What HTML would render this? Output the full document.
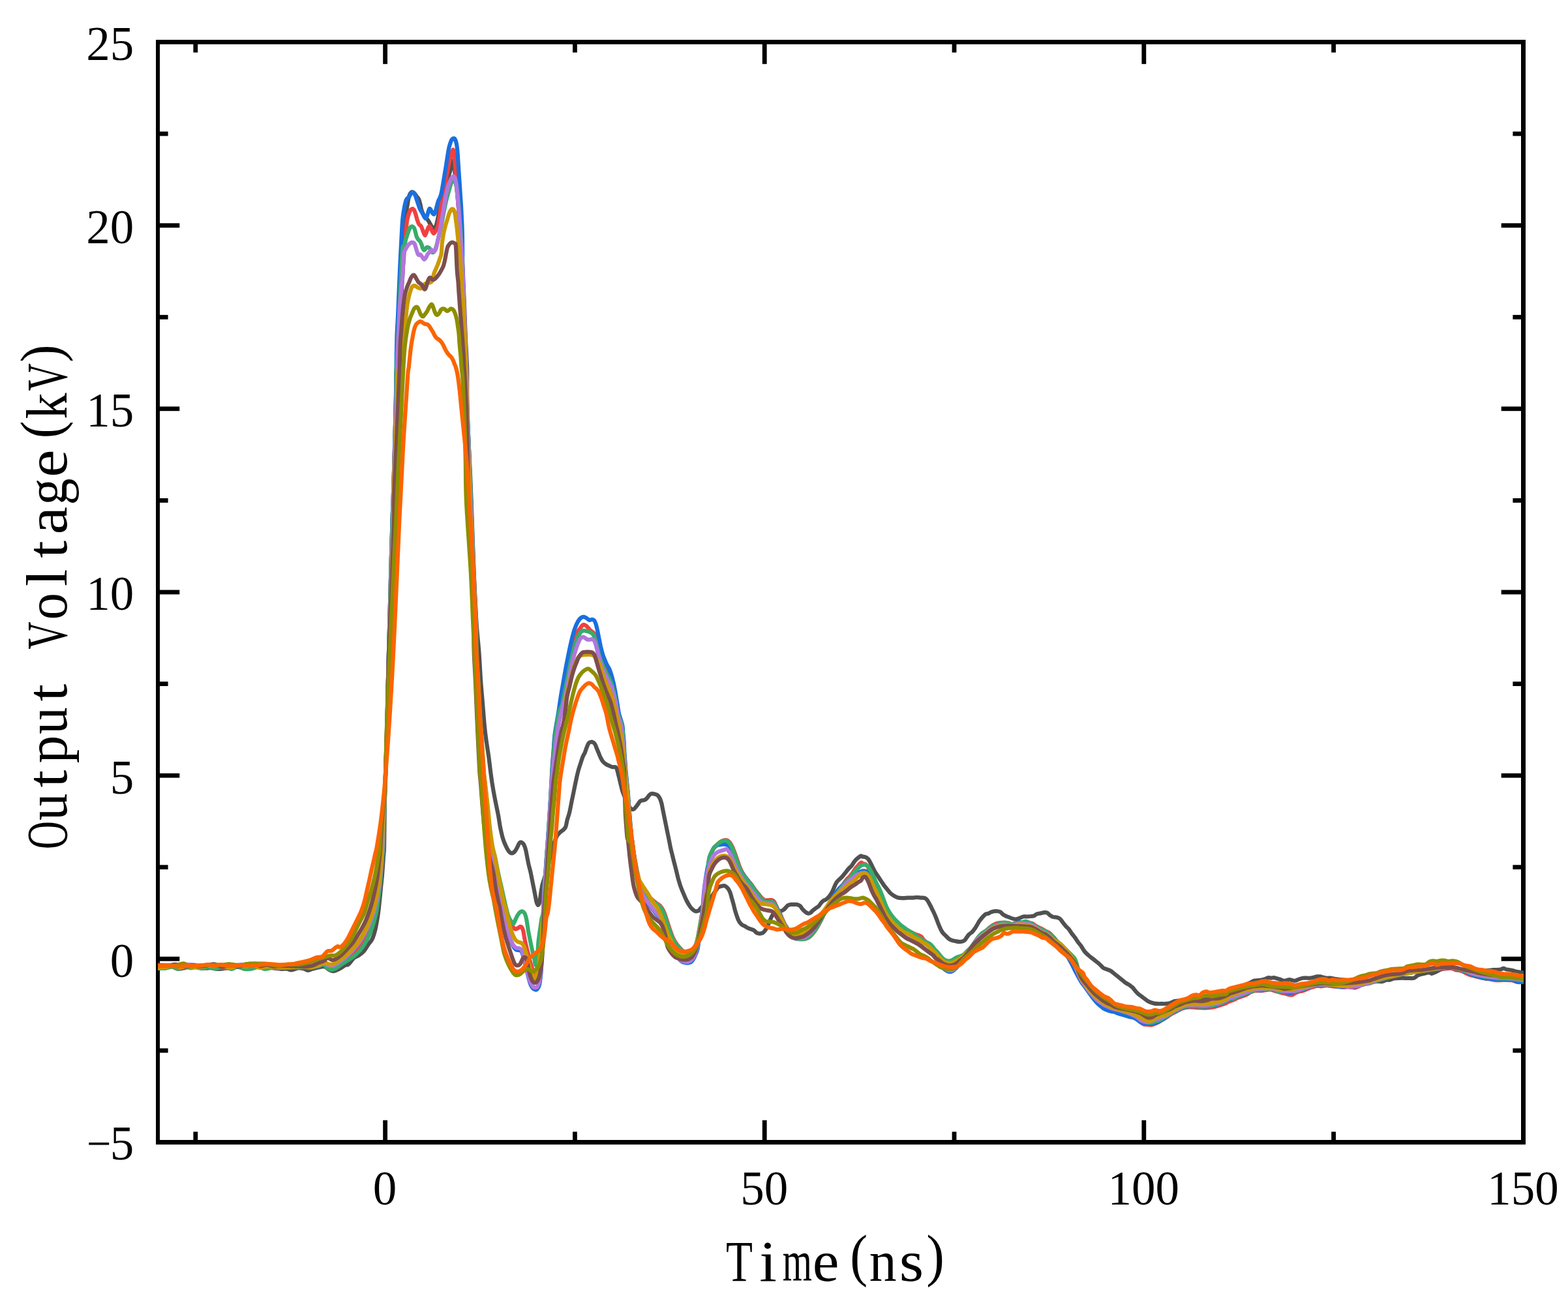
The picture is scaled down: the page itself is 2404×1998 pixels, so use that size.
<!DOCTYPE html>
<html lang="en"><head><meta charset="utf-8"><title>Output Voltage vs Time</title>
<style>html,body{margin:0;padding:0;background:#fff}body{width:2404px;height:1998px;overflow:hidden}svg{display:block}text{font-family:"Liberation Serif", serif;fill:#000;font-kerning:none;white-space:pre}</style></head><body>
<svg xmlns="http://www.w3.org/2000/svg" width="2404" height="1998" viewBox="0 0 2404 1998">
<rect width="2404" height="1998" fill="#fff"/>
<defs><clipPath id="plot"><rect x="242" y="64.5" width="2094" height="1687"/></clipPath></defs>
<g fill="#000">
<rect x="239.0" y="61.0" width="6.0" height="1694.0"/>
<rect x="2332.0" y="61.0" width="7.0" height="1694.0"/>
<rect x="239.0" y="61.0" width="2100.0" height="6.900000000000006"/>
<rect x="239.0" y="1748.0" width="2100.0" height="7.0"/>
<rect x="296.4" y="66.9" width="6.8" height="13.6"/>
<rect x="296.4" y="1735.4" width="6.8" height="13.6"/>
<rect x="587.2" y="66.9" width="6.8" height="31.3"/>
<rect x="587.2" y="1717.7" width="6.8" height="31.3"/>
<rect x="878.0" y="66.9" width="6.8" height="13.6"/>
<rect x="878.0" y="1735.4" width="6.8" height="13.6"/>
<rect x="1168.8" y="66.9" width="6.8" height="31.3"/>
<rect x="1168.8" y="1717.7" width="6.8" height="31.3"/>
<rect x="1459.6" y="66.9" width="6.8" height="13.6"/>
<rect x="1459.6" y="1735.4" width="6.8" height="13.6"/>
<rect x="1750.4" y="66.9" width="6.8" height="31.3"/>
<rect x="1750.4" y="1717.7" width="6.8" height="31.3"/>
<rect x="2041.2" y="66.9" width="6.8" height="13.6"/>
<rect x="2041.2" y="1735.4" width="6.8" height="13.6"/>
<rect x="244.0" y="1607.5" width="13.6" height="6.8"/>
<rect x="2319.4" y="1607.5" width="13.6" height="6.8"/>
<rect x="244.0" y="1466.9" width="31.3" height="6.8"/>
<rect x="2301.7" y="1466.9" width="31.3" height="6.8"/>
<rect x="244.0" y="1326.3" width="13.6" height="6.8"/>
<rect x="2319.4" y="1326.3" width="13.6" height="6.8"/>
<rect x="244.0" y="1185.8" width="31.3" height="6.8"/>
<rect x="2301.7" y="1185.8" width="31.3" height="6.8"/>
<rect x="244.0" y="1045.2" width="13.6" height="6.8"/>
<rect x="2319.4" y="1045.2" width="13.6" height="6.8"/>
<rect x="244.0" y="904.6" width="31.3" height="6.8"/>
<rect x="2301.7" y="904.6" width="31.3" height="6.8"/>
<rect x="244.0" y="764.0" width="13.6" height="6.8"/>
<rect x="2319.4" y="764.0" width="13.6" height="6.8"/>
<rect x="244.0" y="623.4" width="31.3" height="6.8"/>
<rect x="2301.7" y="623.4" width="31.3" height="6.8"/>
<rect x="244.0" y="482.9" width="13.6" height="6.8"/>
<rect x="2319.4" y="482.9" width="13.6" height="6.8"/>
<rect x="244.0" y="342.3" width="31.3" height="6.8"/>
<rect x="2301.7" y="342.3" width="31.3" height="6.8"/>
<rect x="244.0" y="201.7" width="13.6" height="6.8"/>
<rect x="2319.4" y="201.7" width="13.6" height="6.8"/>
</g>
<g clip-path="url(#plot)" fill="none" stroke-width="6.2" stroke-linejoin="round" stroke-linecap="butt">
<path stroke="#515151" d="M238.0 1486.0C240.0 1485.7 246.1 1484.7 250.2 1484.0C254.3 1483.3 258.6 1481.7 262.4 1481.9C266.2 1482.2 269.7 1485.3 273.1 1485.6C276.5 1486.0 279.6 1484.7 283.0 1484.1C286.3 1483.5 289.7 1482.3 293.2 1482.0C296.6 1481.8 300.2 1482.3 303.5 1482.7C306.9 1483.1 310.1 1484.3 313.3 1484.5C316.5 1484.8 319.4 1483.9 322.7 1484.1C326.0 1484.3 329.1 1485.7 332.9 1485.8C336.7 1485.9 341.8 1485.4 345.5 1484.7C349.2 1484.1 351.5 1482.4 355.2 1482.0C359.0 1481.5 364.0 1481.8 368.1 1482.1C372.2 1482.5 376.3 1483.9 379.7 1484.2C383.2 1484.5 385.5 1484.6 388.7 1484.2C391.8 1483.8 394.9 1482.1 398.7 1481.9C402.5 1481.7 407.8 1482.7 411.5 1483.2C415.2 1483.7 417.7 1484.3 421.0 1484.7C424.3 1485.1 428.3 1485.7 431.4 1485.8C434.6 1486.0 437.4 1485.4 440.0 1485.7C442.6 1485.9 444.0 1487.6 446.9 1487.4C449.7 1487.2 453.9 1484.8 457.2 1484.5C460.4 1484.2 463.9 1485.1 466.4 1485.7C468.8 1486.2 470.0 1488.0 472.1 1488.0C474.2 1488.0 476.3 1486.4 479.0 1485.7C481.6 1484.9 485.1 1484.0 488.1 1483.4C491.2 1482.8 494.6 1481.7 497.3 1482.2C500.0 1482.8 501.9 1485.7 504.2 1486.8C506.5 1488.0 508.4 1489.3 511.1 1489.1C513.7 1488.9 517.2 1487.2 520.2 1485.7C523.3 1484.1 527.1 1481.1 529.4 1479.9C531.7 1478.8 531.7 1480.7 534.0 1478.8C536.3 1476.9 540.5 1470.8 543.2 1468.5C545.8 1466.2 547.5 1466.8 550.0 1465.0C552.5 1463.3 555.6 1461.0 558.1 1458.2C560.5 1455.3 562.8 1450.9 564.9 1447.9C567.0 1444.8 568.9 1443.5 570.7 1439.8C572.4 1436.2 574.1 1430.3 575.2 1426.1C576.4 1421.9 576.8 1418.8 577.5 1414.6C578.3 1410.4 579.1 1406.6 579.8 1400.9C580.6 1395.1 581.5 1386.5 582.1 1380.2C582.8 1373.9 583.3 1368.8 583.8 1363.0C584.4 1357.3 585.0 1351.6 585.6 1345.8C586.1 1340.1 586.5 1334.4 586.9 1328.7C587.4 1322.9 587.7 1316.2 588.1 1311.5C588.4 1306.7 588.8 1308.5 589.0 1300.0C589.2 1291.5 589.3 1274.7 589.5 1260.5C589.7 1246.2 589.8 1231.8 590.3 1214.6C590.8 1197.4 591.8 1176.4 592.4 1157.3C593.0 1138.2 593.5 1122.3 594.0 1100.0C594.5 1077.7 594.8 1047.8 595.4 1023.6C595.9 999.4 596.6 979.1 597.3 954.8C597.9 930.4 598.6 903.2 599.3 877.4C600.0 851.6 600.8 824.5 601.6 800.0C602.3 775.5 603.2 749.7 603.8 730.5C604.4 711.2 604.5 699.9 605.0 684.6C605.4 669.3 606.0 652.1 606.3 638.8C606.7 625.4 607.0 615.8 607.2 604.4C607.5 592.9 607.3 580.7 607.9 570.0C608.6 559.3 610.4 553.0 611.3 540.5C612.2 527.9 612.6 509.9 613.3 494.6C614.0 479.3 614.9 462.1 615.6 448.8C616.3 435.4 617.0 425.8 617.6 414.4C618.2 402.9 618.8 388.7 619.3 380.0C619.8 371.3 620.0 368.8 620.4 361.9C620.8 355.1 621.2 345.1 621.6 339.0C622.0 332.9 622.5 329.3 623.0 325.2C623.4 321.2 624.0 318.3 624.6 314.9C625.1 311.6 625.6 308.0 626.2 305.2C626.8 302.4 627.4 300.0 628.1 298.3C628.8 296.6 629.6 295.5 630.4 294.9C631.2 294.2 631.9 294.1 632.8 294.5C633.7 294.9 634.9 296.1 635.9 297.2C636.9 298.3 637.7 299.7 638.8 301.2C639.8 302.6 641.3 303.7 642.2 305.8C643.2 307.9 643.8 311.1 644.5 313.8C645.2 316.5 645.5 319.3 646.2 321.8C647.0 324.3 648.0 326.8 649.1 328.7C650.1 330.6 651.2 331.5 652.5 333.3C653.9 335.0 655.6 336.7 657.1 339.0C658.6 341.3 660.4 345.2 661.7 347.0C663.0 348.8 664.0 350.1 665.1 349.9C666.3 349.7 667.6 348.1 668.6 345.9C669.5 343.7 670.1 340.1 670.9 336.7C671.6 333.3 672.4 329.1 673.2 325.2C673.9 321.4 674.5 318.2 675.4 313.8C676.4 309.4 677.7 303.3 678.9 298.9C680.0 294.5 681.2 291.2 682.3 287.4C683.5 283.6 684.6 279.6 685.8 276.0C686.9 272.3 688.1 268.9 689.2 265.6C690.2 262.4 691.1 259.7 692.1 256.5C693.0 253.2 694.2 246.5 694.9 246.2C695.7 245.8 696.2 250.4 696.6 254.2C697.1 258.0 697.2 263.5 697.8 269.1C698.4 274.6 699.3 280.5 700.1 287.4C700.9 294.3 701.6 301.7 702.4 310.3C703.1 318.9 704.0 330.4 704.7 339.0C705.3 347.6 705.7 352.2 706.4 361.9C707.1 371.6 708.0 385.6 708.7 397.2C709.4 408.8 709.8 419.2 710.4 431.6C711.0 444.0 711.5 457.4 712.1 471.7C712.7 486.0 713.2 502.3 713.8 517.5C714.5 532.8 715.7 550.8 716.1 563.4C716.5 575.9 716.1 580.4 716.2 592.9C716.2 605.5 716.0 623.5 716.5 638.8C716.9 654.0 718.0 669.3 718.8 684.6C719.5 699.9 720.4 716.2 721.1 730.5C721.7 744.7 721.7 745.5 722.7 770.0C723.6 794.5 725.3 846.6 726.6 877.4C727.9 908.2 729.2 934.3 730.5 954.8C731.8 975.2 733.3 984.8 734.4 1000.0C735.5 1015.2 736.3 1032.5 737.2 1045.8C738.2 1059.2 739.2 1068.8 740.1 1080.2C741.1 1091.7 742.0 1105.1 743.0 1114.6C743.9 1124.2 744.8 1129.9 745.8 1137.5C746.9 1145.2 748.2 1152.8 749.3 1160.5C750.3 1168.1 751.3 1176.8 752.1 1183.4C753.0 1190.0 753.6 1194.4 754.4 1200.0C755.3 1205.6 756.3 1211.5 757.3 1217.2C758.4 1222.9 759.6 1228.7 760.7 1234.4C761.9 1240.1 763.1 1245.8 764.2 1251.6C765.2 1257.3 765.9 1263.0 767.0 1268.8C768.2 1274.5 769.6 1281.2 771.1 1286.0C772.5 1290.7 774.1 1294.2 775.6 1297.4C777.2 1300.7 778.7 1303.6 780.2 1305.4C781.8 1307.3 783.3 1308.3 784.8 1308.3C786.3 1308.3 788.1 1306.9 789.4 1305.4C790.7 1304.0 791.7 1301.8 792.8 1299.7C794.0 1297.6 795.1 1294.2 796.3 1292.8C797.4 1291.5 798.6 1291.3 799.7 1291.7C800.9 1292.1 802.1 1293.2 803.2 1295.1C804.2 1297.0 805.2 1299.9 806.0 1303.2C806.9 1306.4 807.5 1310.8 808.3 1314.6C809.1 1318.4 809.7 1322.3 810.6 1326.1C811.5 1329.9 812.6 1333.7 813.5 1337.5C814.3 1341.4 815.0 1345.2 815.8 1349.0C816.5 1352.8 817.3 1356.6 818.1 1360.5C818.8 1364.3 819.6 1368.1 820.3 1371.9C821.1 1375.7 821.9 1380.7 822.6 1383.4C823.4 1386.1 824.2 1388.0 824.9 1388.0C825.7 1388.0 826.6 1386.1 827.2 1383.4C827.9 1380.7 828.4 1375.7 828.9 1371.9C829.5 1368.1 830.1 1363.5 830.7 1360.5C831.2 1357.4 831.2 1357.4 832.4 1353.6C833.5 1349.8 835.9 1343.1 837.5 1337.5C839.2 1332.0 840.4 1327.0 842.1 1320.3C843.8 1313.7 845.9 1303.7 847.9 1297.4C849.8 1291.1 851.9 1286.0 853.6 1282.5C855.3 1279.1 856.4 1278.5 858.2 1276.8C859.9 1275.1 862.4 1273.7 863.9 1272.2C865.4 1270.7 866.4 1270.1 867.3 1267.6C868.3 1265.1 868.7 1260.9 869.6 1257.3C870.6 1253.7 871.9 1250.6 873.1 1245.8C874.2 1241.1 875.5 1233.8 876.5 1228.7C877.6 1223.5 878.1 1221.1 879.4 1214.9C880.6 1208.7 882.9 1197.5 884.2 1191.7C885.5 1185.9 886.1 1183.7 887.0 1180.2C888.0 1176.8 888.9 1174.3 889.9 1171.1C891.0 1167.8 892.2 1163.6 893.4 1160.7C894.5 1157.9 895.7 1156.4 896.8 1153.9C897.8 1151.4 898.7 1148.2 899.7 1145.8C900.6 1143.5 901.5 1140.9 902.5 1139.5C903.6 1138.2 904.8 1138.0 906.0 1137.8C907.1 1137.6 908.3 1137.8 909.4 1138.4C910.4 1139.0 911.3 1139.6 912.3 1141.3C913.2 1142.9 914.2 1145.8 915.1 1148.1C916.1 1150.4 917.0 1152.7 918.0 1155.0C918.9 1157.3 919.8 1159.8 920.9 1161.9C921.9 1164.0 923.0 1166.0 924.3 1167.6C925.6 1169.2 927.2 1170.5 928.9 1171.6C930.6 1172.8 932.9 1173.7 934.6 1174.5C936.3 1175.3 937.7 1175.9 939.2 1176.2C940.7 1176.5 942.6 1175.5 943.8 1176.2C944.9 1176.9 945.3 1178.0 946.1 1180.2C946.8 1182.4 947.5 1186.0 948.4 1189.4C949.2 1192.8 950.3 1197.0 951.2 1200.9C952.2 1204.7 953.0 1208.9 954.1 1212.3C955.1 1215.8 956.4 1218.6 957.5 1221.5C958.7 1224.4 959.7 1226.8 961.0 1229.5C962.2 1232.2 963.8 1235.7 965.0 1237.5C966.1 1239.4 966.8 1239.8 967.9 1240.4C968.9 1241.0 970.1 1241.5 971.3 1241.0C972.4 1240.5 973.6 1238.9 974.7 1237.5C975.9 1236.2 977.0 1234.5 978.2 1233.0C979.3 1231.4 980.5 1229.3 981.6 1228.4C982.8 1227.4 983.9 1227.5 985.0 1227.2C986.2 1226.9 987.3 1227.2 988.5 1226.6C989.6 1226.1 990.8 1225.0 991.9 1223.8C993.1 1222.5 994.2 1220.3 995.4 1219.2C996.5 1218.1 997.5 1217.2 998.8 1216.9C1000.1 1216.6 1001.9 1217.1 1003.4 1217.5C1004.9 1217.9 1006.6 1218.1 1008.0 1219.2C1009.3 1220.2 1010.4 1221.7 1011.4 1223.8C1012.5 1225.9 1013.4 1228.6 1014.3 1231.8C1015.1 1235.1 1014.6 1233.6 1016.6 1243.3C1018.5 1253.0 1024.1 1280.3 1026.1 1290.0C1028.0 1299.7 1027.5 1297.6 1028.4 1301.5C1029.2 1305.3 1030.3 1309.1 1031.2 1312.9C1032.2 1316.7 1033.1 1320.6 1034.1 1324.4C1035.1 1328.2 1036.0 1332.0 1037.0 1335.8C1037.9 1339.7 1038.8 1343.5 1039.8 1347.3C1040.9 1351.1 1041.9 1354.9 1043.3 1358.8C1044.6 1362.6 1046.3 1366.6 1047.9 1370.2C1049.4 1373.9 1050.9 1377.5 1052.4 1380.5C1054.0 1383.6 1055.5 1386.3 1057.0 1388.6C1058.5 1390.9 1060.1 1392.9 1061.6 1394.3C1063.1 1395.7 1064.7 1396.8 1066.2 1397.2C1067.7 1397.5 1069.3 1397.4 1070.8 1396.6C1072.2 1395.7 1073.3 1393.5 1074.8 1392.0C1076.3 1390.5 1078.1 1389.1 1079.9 1387.4C1081.8 1385.7 1083.9 1383.7 1085.7 1381.7C1087.5 1379.7 1089.3 1377.5 1090.8 1375.4C1092.4 1373.3 1093.5 1371.1 1094.8 1369.1C1096.2 1367.1 1097.8 1364.8 1098.9 1363.4C1099.9 1361.9 1100.0 1361.3 1101.2 1360.5C1102.5 1359.8 1104.7 1359.2 1106.4 1358.8C1108.0 1358.4 1109.4 1357.8 1110.9 1358.3C1112.5 1358.7 1114.2 1360.2 1115.5 1361.7C1116.9 1363.2 1117.9 1364.9 1119.0 1367.4C1120.0 1369.9 1120.9 1373.3 1121.8 1376.6C1122.8 1379.8 1123.8 1383.7 1124.7 1386.9C1125.6 1390.2 1126.1 1393.0 1127.0 1396.1C1127.9 1399.1 1128.8 1402.4 1129.9 1405.2C1130.9 1408.1 1132.1 1411.2 1133.3 1413.3C1134.5 1415.4 1135.9 1416.7 1137.3 1417.9C1138.7 1419.0 1140.4 1419.3 1141.9 1420.1C1143.4 1421.0 1144.9 1422.2 1146.5 1423.0C1148.0 1423.8 1149.5 1424.2 1151.1 1424.7C1152.6 1425.3 1154.1 1425.5 1155.6 1426.4C1157.2 1427.4 1158.7 1429.6 1160.2 1430.5C1161.8 1431.3 1163.3 1431.6 1164.8 1431.6C1166.3 1431.6 1168.1 1431.2 1169.4 1430.5C1170.7 1429.7 1171.7 1428.5 1172.8 1427.0C1174.0 1425.5 1175.1 1423.6 1176.3 1421.3C1177.4 1419.0 1178.6 1415.9 1179.7 1413.3C1180.9 1410.6 1182.0 1407.3 1183.2 1405.2C1184.3 1403.1 1185.3 1401.8 1186.6 1400.7C1187.9 1399.5 1189.5 1398.9 1191.2 1398.4C1192.9 1397.8 1195.2 1397.8 1196.9 1397.2C1198.6 1396.6 1200.2 1395.9 1201.5 1394.9C1202.8 1394.0 1203.8 1392.6 1204.9 1391.5C1206.1 1390.3 1207.0 1388.8 1208.4 1388.1C1209.7 1387.3 1211.4 1387.1 1213.0 1386.9C1214.5 1386.7 1216.0 1386.9 1217.5 1386.9C1219.1 1386.9 1220.6 1386.5 1222.1 1386.9C1223.6 1387.3 1225.4 1388.1 1226.7 1389.2C1228.0 1390.3 1228.8 1392.3 1230.1 1393.8C1231.5 1395.3 1233.2 1397.2 1234.7 1398.4C1236.3 1399.5 1238.0 1400.5 1239.3 1400.7C1240.6 1400.9 1241.6 1400.3 1242.8 1399.5C1243.9 1398.7 1244.9 1397.2 1246.2 1396.1C1247.5 1394.9 1249.2 1393.8 1250.8 1392.6C1252.3 1391.5 1254.0 1390.5 1255.4 1389.2C1256.7 1387.9 1257.7 1386.0 1258.8 1384.6C1259.9 1383.3 1260.9 1382.1 1262.2 1381.2C1263.6 1380.2 1265.3 1380.0 1266.8 1378.9C1268.3 1377.7 1269.9 1376.2 1271.4 1374.3C1272.9 1372.4 1274.7 1369.9 1276.0 1367.4C1277.3 1364.9 1278.3 1361.9 1279.4 1359.4C1280.6 1356.9 1281.5 1354.4 1282.9 1352.5C1284.2 1350.6 1285.9 1349.5 1287.4 1347.9C1289.0 1346.4 1290.5 1345.1 1292.0 1343.4C1293.6 1341.6 1295.1 1339.5 1296.6 1337.6C1298.1 1335.7 1299.7 1333.6 1301.2 1331.9C1302.7 1330.2 1304.3 1329.2 1305.8 1327.3C1307.3 1325.4 1308.8 1322.3 1310.4 1320.4C1311.9 1318.5 1313.4 1317.2 1315.0 1315.8C1316.6 1314.5 1318.9 1312.8 1320.0 1312.4C1321.1 1312.0 1320.7 1313.3 1321.8 1313.6C1322.8 1313.8 1324.8 1313.6 1326.4 1314.1C1327.9 1314.7 1329.6 1315.6 1330.9 1317.0C1332.3 1318.4 1333.2 1320.6 1334.4 1322.7C1335.5 1324.8 1336.7 1327.3 1337.8 1329.6C1339.0 1331.9 1339.9 1334.2 1341.3 1336.5C1342.6 1338.8 1344.3 1341.1 1345.8 1343.4C1347.4 1345.6 1348.9 1347.9 1350.4 1350.2C1352.0 1352.5 1353.5 1355.0 1355.0 1357.1C1356.5 1359.2 1358.1 1360.9 1359.6 1362.8C1361.1 1364.7 1362.5 1366.8 1364.2 1368.6C1365.9 1370.3 1367.8 1371.8 1369.9 1373.2C1372.0 1374.5 1374.3 1375.9 1376.8 1376.6C1379.3 1377.3 1382.3 1377.2 1384.8 1377.2C1387.3 1377.2 1389.4 1376.7 1391.7 1376.6C1394.0 1376.5 1396.3 1376.7 1398.6 1376.6C1400.9 1376.5 1403.2 1376.0 1405.4 1376.0C1407.7 1376.0 1410.2 1376.4 1412.3 1376.6C1414.4 1376.8 1416.5 1376.6 1418.1 1377.2C1419.6 1377.7 1420.3 1378.6 1421.5 1380.0C1422.6 1381.5 1423.8 1383.7 1424.9 1385.8C1426.1 1387.9 1427.2 1390.3 1428.4 1392.6C1429.5 1394.9 1430.7 1397.0 1431.8 1399.5C1433.0 1402.0 1434.1 1404.7 1435.2 1407.5C1436.4 1410.4 1437.5 1413.8 1438.7 1416.7C1439.8 1419.6 1441.0 1422.4 1442.1 1424.7C1443.3 1427.0 1444.2 1428.7 1445.6 1430.5C1446.9 1432.2 1448.6 1433.5 1450.1 1435.0C1451.7 1436.6 1453.2 1438.5 1454.7 1439.6C1456.3 1440.8 1457.6 1441.3 1459.3 1441.9C1461.0 1442.5 1463.1 1442.7 1465.0 1443.1C1467.0 1443.4 1469.1 1444.1 1470.8 1444.2C1472.5 1444.3 1474.0 1444.0 1475.4 1443.6C1476.7 1443.3 1477.7 1443.0 1478.8 1441.9C1479.9 1440.9 1481.1 1438.9 1482.2 1437.3C1483.4 1435.8 1484.3 1434.1 1485.7 1432.8C1487.0 1431.4 1488.7 1430.8 1490.3 1429.3C1491.8 1427.8 1493.5 1425.5 1494.8 1423.6C1496.2 1421.7 1497.1 1419.8 1498.3 1417.9C1499.4 1415.9 1500.4 1414.0 1501.7 1412.1C1503.1 1410.2 1504.8 1408.1 1506.3 1406.4C1507.8 1404.7 1509.4 1402.8 1510.9 1401.8C1512.4 1400.9 1513.9 1401.2 1515.5 1400.7C1517.0 1400.1 1518.5 1398.9 1520.1 1398.4C1521.6 1397.8 1523.1 1397.4 1524.6 1397.2C1526.2 1397.0 1527.7 1397.0 1529.2 1397.2C1530.8 1397.4 1532.5 1397.6 1533.8 1398.4C1535.1 1399.1 1536.0 1400.8 1537.2 1401.8C1538.5 1402.8 1540.0 1403.7 1541.5 1404.4C1543.0 1405.1 1544.4 1405.4 1546.1 1406.1C1547.8 1406.8 1549.9 1407.8 1551.8 1408.4C1553.7 1409.0 1555.6 1409.6 1557.5 1409.5C1559.4 1409.4 1561.4 1408.5 1563.3 1407.8C1565.2 1407.2 1567.1 1405.9 1569.0 1405.5C1570.9 1405.1 1572.8 1405.6 1574.7 1405.5C1576.6 1405.4 1578.7 1405.1 1580.5 1405.0C1582.2 1404.8 1583.5 1405.0 1585.0 1404.4C1586.6 1403.8 1587.9 1402.2 1589.6 1401.5C1591.3 1400.9 1593.4 1400.8 1595.4 1400.4C1597.3 1400.0 1599.4 1399.3 1601.1 1399.2C1602.8 1399.1 1604.1 1399.0 1605.7 1399.8C1607.2 1400.6 1608.7 1402.8 1610.3 1403.8C1611.8 1404.9 1613.1 1405.6 1614.8 1406.1C1616.6 1406.6 1618.9 1406.2 1620.6 1406.7C1622.3 1407.2 1623.6 1407.6 1625.2 1409.0C1626.7 1410.3 1628.2 1412.8 1629.7 1414.7C1631.3 1416.6 1632.8 1418.7 1634.3 1420.4C1635.9 1422.1 1637.4 1423.1 1638.9 1425.0C1640.4 1426.9 1642.0 1429.8 1643.5 1431.9C1645.0 1434.0 1646.6 1435.5 1648.1 1437.6C1649.6 1439.7 1651.1 1442.4 1652.7 1444.5C1654.2 1446.6 1655.5 1447.8 1657.2 1450.2C1659.0 1452.6 1661.0 1456.6 1662.9 1459.0C1664.8 1461.4 1666.7 1463.0 1668.7 1464.7C1670.6 1466.4 1672.5 1467.8 1674.4 1469.3C1676.3 1470.8 1678.2 1472.3 1680.1 1473.9C1682.0 1475.4 1683.9 1476.7 1685.8 1478.5C1687.8 1480.2 1689.7 1482.8 1691.6 1484.2C1693.5 1485.5 1695.4 1485.7 1697.3 1486.5C1699.2 1487.2 1701.1 1487.6 1703.0 1488.8C1704.9 1489.9 1706.9 1491.8 1708.8 1493.4C1710.7 1494.9 1712.6 1496.4 1714.5 1497.9C1716.4 1499.5 1718.3 1501.0 1720.2 1502.5C1722.1 1504.0 1724.0 1505.8 1726.0 1507.1C1727.9 1508.4 1730.0 1509.4 1731.7 1510.5C1733.4 1511.7 1734.7 1512.5 1736.3 1514.0C1737.8 1515.5 1739.3 1518.0 1740.9 1519.7C1742.4 1521.4 1743.9 1523.0 1745.4 1524.3C1747.0 1525.6 1748.5 1526.6 1750.0 1527.7C1751.6 1528.9 1753.1 1530.0 1754.6 1531.2C1756.1 1532.3 1757.7 1533.7 1759.2 1534.6C1760.7 1535.6 1762.1 1536.2 1763.8 1536.9C1765.5 1537.6 1767.6 1538.2 1769.5 1538.6C1771.4 1539.0 1773.3 1539.1 1775.2 1539.2C1777.2 1539.3 1779.1 1539.2 1781.0 1539.2C1782.9 1539.2 1784.8 1539.3 1786.7 1539.2C1788.6 1539.1 1790.7 1539.0 1792.4 1538.6C1794.2 1538.2 1795.7 1537.5 1797.0 1536.9C1798.4 1536.3 1798.9 1535.6 1800.5 1535.2C1802.0 1534.8 1803.3 1534.9 1806.2 1534.6C1809.1 1534.3 1813.8 1533.9 1817.7 1533.5C1821.5 1533.0 1825.3 1532.5 1829.1 1532.1C1832.9 1531.7 1836.8 1531.7 1840.6 1531.2C1844.4 1530.6 1846.9 1530.1 1852.0 1528.9C1857.2 1527.7 1866.3 1525.4 1871.5 1523.8C1876.6 1522.2 1879.1 1520.5 1882.9 1519.2C1886.7 1517.9 1890.6 1517.0 1894.4 1515.8C1898.2 1514.5 1902.0 1513.3 1905.8 1511.7C1909.7 1510.2 1914.4 1507.9 1917.3 1506.6C1920.2 1505.3 1921.1 1504.3 1923.0 1503.7C1924.9 1503.2 1926.9 1503.3 1928.8 1503.2C1930.7 1503.0 1932.6 1503.0 1934.5 1502.6C1936.4 1502.2 1938.5 1501.4 1940.2 1500.9C1941.9 1500.3 1943.3 1499.3 1944.8 1499.1C1946.3 1498.9 1948.1 1499.7 1949.4 1499.7C1950.7 1499.7 1951.5 1499.0 1952.8 1499.1C1954.2 1499.2 1955.7 1499.8 1957.4 1500.3C1959.1 1500.8 1961.4 1501.4 1963.2 1502.0C1964.9 1502.6 1966.2 1503.5 1967.7 1503.7C1969.3 1503.9 1970.8 1503.4 1972.3 1503.2C1973.8 1502.9 1975.4 1502.0 1976.9 1502.0C1978.4 1502.0 1980.0 1502.9 1981.5 1503.2C1983.0 1503.4 1984.4 1504.0 1986.1 1503.7C1987.8 1503.4 1989.9 1502.1 1991.8 1501.4C1993.7 1500.8 1995.6 1500.0 1997.5 1499.7C1999.4 1499.4 2001.4 1499.7 2003.3 1499.7C2005.2 1499.7 2007.1 1499.9 2009.0 1499.7C2010.9 1499.5 2013.0 1498.9 2014.7 1498.6C2016.4 1498.2 2017.8 1497.6 2019.3 1497.4C2020.8 1497.2 2022.4 1497.2 2023.9 1497.4C2025.4 1497.6 2027.0 1498.2 2028.5 1498.6C2030.0 1498.9 2031.3 1499.5 2033.1 1499.7C2034.8 1499.9 2037.1 1499.6 2038.8 1499.7C2040.5 1499.8 2041.7 1500.0 2043.4 1500.3C2045.1 1500.6 2047.2 1501.1 2049.1 1501.4C2051.0 1501.7 2052.0 1501.7 2054.8 1502.0C2057.7 1502.3 2062.5 1502.7 2066.3 1503.2C2070.1 1503.6 2073.9 1504.4 2077.8 1504.9C2081.6 1505.3 2085.5 1505.7 2089.2 1506.0C2092.9 1506.3 2097.2 1506.7 2100.0 1506.6C2102.8 1506.5 2103.8 1505.8 2105.7 1505.5C2107.6 1505.2 2109.2 1505.0 2111.5 1504.9C2113.8 1504.8 2117.2 1505.3 2119.5 1504.9C2121.8 1504.5 2123.3 1503.0 2125.2 1502.6C2127.1 1502.3 2128.8 1503.0 2130.9 1502.6C2133.0 1502.3 2135.3 1500.8 2137.8 1500.3C2140.3 1499.9 2142.6 1499.9 2145.8 1499.8C2149.1 1499.7 2153.7 1499.8 2157.3 1499.8C2160.9 1499.8 2164.9 1500.4 2167.6 1499.8C2170.3 1499.1 2171.3 1496.8 2173.4 1495.8C2175.5 1494.7 2178.1 1494.0 2180.2 1493.5C2182.3 1492.9 2184.0 1492.7 2186.0 1492.3C2187.9 1491.9 2190.2 1491.1 2191.7 1491.2C2193.2 1491.3 2193.8 1492.9 2195.1 1492.9C2196.5 1492.9 2198.2 1491.8 2199.7 1491.2C2201.2 1490.5 2202.8 1489.6 2204.3 1488.9C2205.8 1488.1 2207.2 1487.2 2208.9 1486.6C2210.6 1486.0 2212.7 1485.7 2214.6 1485.4C2216.5 1485.2 2218.4 1485.0 2220.3 1484.9C2222.3 1484.8 2224.2 1484.5 2226.1 1484.9C2228.0 1485.3 2229.9 1486.7 2231.8 1487.2C2233.7 1487.6 2235.6 1487.5 2237.5 1487.7C2239.4 1487.9 2240.4 1488.1 2243.3 1488.3C2246.1 1488.5 2250.9 1488.8 2254.7 1488.9C2258.5 1489.0 2262.4 1489.0 2266.2 1488.9C2270.0 1488.8 2273.8 1488.6 2277.7 1488.3C2281.5 1488.0 2286.2 1487.4 2289.1 1487.2C2292.0 1487.0 2292.9 1487.3 2294.8 1487.2C2296.8 1487.1 2298.9 1487.0 2300.6 1486.6C2302.3 1486.2 2303.6 1484.9 2305.2 1484.9C2306.7 1484.9 2307.6 1486.1 2309.7 1486.6C2311.8 1487.1 2315.5 1487.3 2317.8 1487.7C2320.1 1488.2 2321.6 1489.0 2323.5 1489.5C2325.4 1489.9 2326.9 1490.2 2329.2 1490.6C2331.5 1491.0 2335.9 1491.6 2337.2 1491.7"/>
<path stroke="#F14040" d="M238.0 1482.7C239.6 1482.4 244.2 1481.2 247.5 1481.0C250.8 1480.7 254.9 1480.9 258.0 1481.1C261.1 1481.3 262.8 1482.0 265.9 1482.0C269.1 1482.0 273.9 1481.4 277.0 1481.3C280.0 1481.2 281.6 1481.0 284.1 1481.3C286.7 1481.6 288.9 1483.1 292.3 1483.1C295.8 1483.1 300.9 1481.1 304.8 1481.3C308.7 1481.5 312.3 1484.2 315.7 1484.4C319.1 1484.6 322.3 1483.0 325.1 1482.7C327.8 1482.5 329.3 1482.7 332.3 1482.9C335.3 1483.1 340.1 1483.8 343.2 1484.1C346.2 1484.4 347.5 1485.1 350.4 1484.6C353.3 1484.2 357.6 1482.0 360.7 1481.4C363.8 1480.8 366.2 1480.9 369.0 1481.0C371.9 1481.0 375.1 1481.1 377.8 1481.5C380.5 1482.0 382.9 1483.7 385.4 1483.8C387.8 1484.0 389.1 1482.3 392.5 1482.4C395.8 1482.5 401.8 1484.8 405.5 1484.5C409.1 1484.3 410.8 1481.0 414.2 1480.9C417.6 1480.9 421.6 1484.2 425.9 1484.4C430.2 1484.6 433.8 1482.6 440.0 1482.2C446.2 1481.9 455.7 1482.4 462.9 1482.2C470.2 1482.0 478.2 1481.9 483.6 1481.1C488.9 1480.3 492.1 1477.7 495.0 1477.7C497.9 1477.7 498.6 1479.9 500.7 1481.1C502.8 1482.2 505.5 1484.1 507.6 1484.5C509.7 1484.9 511.3 1484.3 513.4 1483.4C515.5 1482.4 517.6 1480.7 520.2 1478.8C522.9 1476.9 526.3 1474.0 529.4 1471.9C532.5 1469.8 535.7 1468.3 538.6 1466.2C541.4 1464.1 543.9 1462.0 546.6 1459.3C549.3 1456.6 552.1 1453.6 554.6 1450.1C557.1 1446.7 559.4 1442.7 561.5 1438.7C563.6 1434.7 565.5 1430.5 567.2 1426.1C568.9 1421.7 570.4 1417.1 571.8 1412.3C573.2 1407.5 574.6 1402.8 575.8 1397.4C577.0 1392.1 577.9 1386.9 578.9 1380.2C579.9 1373.5 581.1 1364.9 581.9 1357.3C582.7 1349.7 583.3 1342.0 584.0 1334.4C584.6 1326.7 585.3 1317.2 585.8 1311.5C586.3 1305.7 586.6 1308.5 586.9 1300.0C587.3 1291.5 587.3 1274.7 587.8 1260.5C588.3 1246.2 589.4 1231.8 590.1 1214.6C590.8 1197.4 591.5 1176.4 592.1 1157.3C592.8 1138.2 593.2 1122.3 593.8 1100.0C594.3 1077.7 594.8 1047.8 595.4 1023.6C596.0 999.4 596.6 979.1 597.3 954.8C597.9 930.4 598.6 903.2 599.3 877.4C600.0 851.6 601.0 817.9 601.6 800.0C602.1 782.1 602.3 781.6 602.7 770.0C603.0 758.4 603.4 744.7 603.8 730.5C604.2 716.2 604.7 699.9 605.2 684.6C605.6 669.3 606.1 652.1 606.4 638.8C606.8 625.4 606.9 615.8 607.1 604.4C607.4 592.9 607.4 580.7 607.8 570.0C608.2 559.3 608.9 553.0 609.5 540.5C610.2 527.9 611.0 509.9 611.8 494.6C612.7 479.3 613.7 462.1 614.7 448.8C615.7 435.4 616.6 425.8 617.6 414.4C618.5 402.9 619.6 386.8 620.2 380.0C620.8 373.2 620.6 378.3 621.0 373.4C621.4 368.5 622.1 356.6 622.7 350.5C623.3 344.3 623.7 340.7 624.4 336.7C625.2 332.7 626.4 328.9 627.3 326.4C628.2 323.9 628.7 322.9 629.6 321.8C630.5 320.8 631.5 319.9 632.5 320.1C633.4 320.3 634.5 321.3 635.3 323.0C636.2 324.6 636.9 327.3 637.6 329.8C638.4 332.3 639.1 335.6 639.9 337.9C640.7 340.1 641.3 342.1 642.2 343.6C643.2 345.1 644.7 345.5 645.6 347.0C646.6 348.5 647.2 350.8 647.9 352.8C648.7 354.7 649.6 357.1 650.2 358.5C650.9 359.8 651.3 361.3 651.9 360.8C652.6 360.2 653.5 357.0 654.2 355.0C655.0 353.1 655.8 350.6 656.5 349.3C657.3 348.0 658.0 346.4 658.8 347.0C659.7 347.6 660.7 350.9 661.7 352.8C662.6 354.6 663.6 357.5 664.6 357.9C665.5 358.3 666.4 356.7 667.4 355.0C668.5 353.4 669.9 351.0 670.9 348.2C671.8 345.3 672.4 342.2 673.2 337.9C673.9 333.5 674.7 326.8 675.4 321.8C676.2 316.8 677.0 312.4 677.7 308.1C678.5 303.7 679.2 300.2 680.0 295.4C680.9 290.7 681.9 284.6 682.9 279.4C683.8 274.2 684.8 269.5 685.8 264.5C686.7 259.5 687.7 254.0 688.6 249.6C689.6 245.2 690.5 241.5 691.5 238.1C692.4 234.8 693.6 229.9 694.4 229.5C695.1 229.2 695.6 232.9 696.1 235.8C696.6 238.8 696.8 243.1 697.2 247.3C697.6 251.5 698.0 257.2 698.4 261.1C698.7 264.9 699.1 265.8 699.5 270.2C699.9 274.6 700.3 281.7 700.7 287.4C701.0 293.2 701.4 298.9 701.8 304.6C702.2 310.3 702.7 315.1 703.2 321.8C703.7 328.5 704.2 337.1 704.7 344.7C705.2 352.4 705.6 358.9 706.2 367.7C706.7 376.4 707.5 386.5 708.1 397.2C708.7 407.8 709.1 419.2 709.6 431.6C710.1 444.0 710.6 457.4 711.2 471.7C711.8 486.0 712.5 502.3 713.0 517.5C713.6 532.8 714.4 550.8 714.6 563.4C714.9 575.9 714.4 580.4 714.7 592.9C715.0 605.5 715.9 623.5 716.6 638.8C717.3 654.0 718.0 669.3 718.7 684.6C719.3 699.9 719.9 716.2 720.5 730.5C721.1 744.7 721.1 745.5 722.1 770.0C723.1 794.5 725.1 846.6 726.4 877.4C727.7 908.2 729.4 934.3 730.0 954.8C730.6 975.2 729.6 984.8 730.1 1000.0C730.5 1015.2 731.9 1030.6 732.7 1045.8C733.5 1061.1 734.1 1076.4 735.0 1091.7C735.8 1107.0 736.8 1122.3 737.8 1137.5C738.8 1152.8 740.2 1173.0 741.0 1183.4C741.8 1193.8 741.9 1191.5 742.6 1200.0C743.3 1208.5 744.4 1222.9 745.3 1234.4C746.2 1245.8 747.1 1257.3 748.1 1268.8C749.2 1280.2 750.2 1291.7 751.6 1303.2C752.9 1314.6 754.4 1327.0 756.2 1337.5C757.9 1348.0 760.2 1358.5 761.9 1366.2C763.6 1373.8 764.8 1379.0 766.5 1383.4C768.2 1387.7 770.3 1388.3 772.2 1392.3C774.1 1396.3 776.0 1403.0 777.9 1407.2C779.8 1411.4 781.8 1414.6 783.7 1417.5C785.6 1420.4 787.7 1423.4 789.4 1424.4C791.1 1425.3 792.6 1423.8 794.0 1423.2C795.3 1422.7 796.5 1421.2 797.4 1420.9C798.4 1420.7 798.9 1420.6 799.7 1421.5C800.5 1422.5 801.3 1424.3 802.0 1426.7C802.7 1429.1 803.2 1432.8 803.7 1435.8C804.3 1438.9 804.8 1442.0 805.4 1445.0C806.1 1448.1 807.0 1451.1 807.7 1454.2C808.5 1457.2 809.3 1460.3 810.0 1463.4C810.8 1466.4 811.6 1469.7 812.3 1472.5C813.1 1475.4 813.8 1478.1 814.6 1480.5C815.4 1483.0 816.1 1484.9 816.9 1487.4C817.7 1489.9 818.6 1493.6 819.2 1495.4C819.8 1497.3 819.9 1498.7 820.3 1498.3C820.8 1497.9 821.5 1495.9 822.1 1493.2C822.6 1490.4 823.2 1486.5 823.8 1481.7C824.4 1476.9 825.2 1470.2 825.8 1464.5C826.5 1458.8 827.1 1454.0 827.8 1447.3C828.5 1440.6 829.4 1431.1 830.1 1424.4C830.8 1417.7 831.6 1411.3 832.0 1407.2C832.5 1403.1 832.5 1407.8 833.0 1400.0C833.4 1392.2 833.9 1370.9 834.6 1360.5C835.2 1350.0 836.0 1345.2 836.6 1337.5C837.2 1329.9 837.6 1322.3 838.1 1314.6C838.6 1307.0 839.3 1299.3 839.8 1291.7C840.4 1284.0 840.9 1276.4 841.4 1268.8C841.9 1261.1 842.4 1253.5 842.9 1245.8C843.4 1238.2 843.9 1230.6 844.3 1222.9C844.7 1215.3 845.1 1208.5 845.6 1200.0C846.1 1191.5 846.7 1180.4 847.3 1171.9C847.9 1163.4 848.5 1156.6 849.1 1149.0C849.7 1141.4 849.6 1135.6 850.9 1126.1C852.3 1116.6 855.7 1101.4 857.3 1091.9C858.9 1082.4 859.5 1076.6 860.7 1069.0C862.0 1061.4 863.4 1053.7 864.8 1046.1C866.1 1038.4 867.3 1030.4 868.8 1023.2C870.2 1015.9 871.8 1008.6 873.4 1002.5C874.9 996.4 876.4 991.1 877.9 986.5C879.5 981.9 881.2 978.1 882.5 975.0C883.9 972.0 884.8 970.0 886.0 968.1C887.1 966.2 888.3 965.1 889.4 963.6C890.5 962.0 891.9 959.9 892.8 959.0C893.8 958.0 894.2 957.7 895.1 957.8C896.1 957.9 897.4 958.7 898.6 959.5C899.7 960.4 900.9 961.7 902.0 963.0C903.2 964.2 904.3 965.9 905.4 967.0C906.6 968.0 907.7 968.1 908.9 969.3C910.0 970.4 911.4 972.0 912.3 973.9C913.3 975.8 913.8 978.3 914.6 980.7C915.4 983.2 916.0 985.5 916.9 988.8C917.8 992.0 918.8 996.8 919.8 1000.2C920.7 1003.7 921.6 1006.5 922.6 1009.4C923.7 1012.3 925.1 1015.1 926.1 1017.4C927.0 1019.7 927.4 1021.1 928.4 1023.2C929.3 1025.3 930.7 1027.4 931.8 1030.0C933.0 1032.7 934.2 1036.3 935.2 1039.2C936.3 1042.1 937.2 1044.2 938.1 1047.2C939.0 1050.3 939.9 1053.9 940.7 1057.5C941.6 1061.2 942.3 1064.8 943.0 1069.0C943.8 1073.2 944.6 1078.2 945.3 1082.8C946.1 1087.3 946.3 1091.7 947.6 1096.5C949.0 1101.3 952.3 1107.1 953.5 1111.5C954.7 1115.9 954.4 1119.1 954.8 1122.9C955.2 1126.7 955.6 1130.6 955.9 1134.4C956.2 1138.2 956.4 1142.0 956.6 1145.8C956.8 1149.7 957.1 1153.5 957.3 1157.3C957.6 1161.1 957.8 1164.9 958.1 1168.8C958.4 1172.6 958.6 1176.4 958.9 1180.2C959.2 1184.0 959.7 1187.9 960.1 1191.7C960.4 1195.5 960.8 1199.3 961.2 1203.2C961.6 1207.0 962.0 1210.8 962.3 1214.6C962.7 1218.4 963.0 1222.3 963.3 1226.1C963.6 1229.9 963.9 1233.7 964.2 1237.5C964.5 1241.4 964.7 1244.2 965.1 1249.0C965.5 1253.8 966.0 1260.5 966.5 1266.2C967.0 1271.9 967.6 1279.4 968.1 1283.4C968.6 1287.3 968.7 1286.0 969.3 1290.0C969.9 1294.0 970.8 1301.5 971.6 1307.2C972.5 1312.9 973.4 1318.7 974.5 1324.4C975.5 1330.1 976.8 1336.6 977.9 1341.6C979.1 1346.5 979.8 1350.2 981.4 1354.2C982.9 1358.2 985.0 1362.4 987.1 1365.6C989.2 1368.9 991.7 1371.2 994.0 1373.7C996.3 1376.2 998.8 1378.6 1000.9 1380.5C1003.0 1382.5 1004.8 1383.8 1006.6 1385.1C1008.4 1386.5 1010.3 1387.2 1011.7 1388.6C1013.2 1389.9 1014.0 1391.2 1015.2 1393.2C1016.3 1395.1 1017.5 1397.4 1018.6 1400.0C1019.7 1402.7 1020.7 1406.1 1021.7 1409.2C1022.7 1412.3 1023.7 1415.3 1024.7 1418.4C1025.7 1421.4 1026.7 1424.5 1027.8 1427.5C1028.9 1430.6 1030.1 1434.0 1031.2 1436.7C1032.4 1439.4 1033.3 1441.4 1034.7 1443.6C1036.0 1445.8 1037.7 1448.0 1039.3 1449.9C1040.8 1451.8 1042.2 1453.4 1043.8 1455.0C1045.5 1456.7 1047.2 1458.7 1049.0 1459.6C1050.8 1460.6 1052.8 1461.0 1054.7 1460.8C1056.6 1460.6 1058.7 1459.8 1060.5 1458.5C1062.2 1457.1 1063.7 1455.2 1065.0 1452.8C1066.4 1450.3 1067.4 1447.4 1068.5 1443.6C1069.5 1439.8 1070.4 1434.8 1071.3 1429.8C1072.3 1424.9 1073.3 1419.3 1074.2 1413.8C1075.2 1408.2 1076.2 1402.3 1077.1 1396.6C1077.9 1390.9 1078.5 1385.3 1079.4 1379.4C1080.2 1373.5 1081.3 1366.8 1082.2 1361.1C1083.2 1355.3 1084.3 1352.0 1085.1 1345.0C1085.9 1338.1 1086.0 1325.4 1086.9 1319.3C1087.7 1313.2 1089.0 1311.6 1090.3 1308.4C1091.7 1305.2 1093.2 1302.4 1094.9 1300.0C1096.6 1297.7 1098.7 1296.0 1100.6 1294.3C1102.5 1292.6 1104.4 1290.7 1106.4 1289.7C1108.4 1288.7 1110.9 1288.1 1112.7 1288.1C1114.5 1288.2 1115.7 1288.6 1117.2 1290.1C1118.8 1291.5 1120.5 1294.2 1121.8 1296.6C1123.2 1299.0 1124.1 1301.7 1125.3 1304.6C1126.4 1307.5 1127.6 1310.6 1128.7 1313.8C1129.9 1317.0 1131.0 1320.7 1132.1 1323.9C1133.3 1327.1 1134.3 1330.1 1135.6 1333.0C1136.9 1335.9 1138.6 1338.9 1140.2 1341.3C1141.7 1343.7 1143.2 1345.4 1144.8 1347.4C1146.3 1349.3 1147.8 1351.2 1149.3 1353.1C1150.9 1355.0 1152.4 1356.7 1153.9 1358.8C1155.5 1360.9 1157.0 1363.7 1158.5 1365.7C1160.0 1367.7 1161.6 1369.3 1163.1 1371.1C1164.6 1372.9 1166.2 1375.1 1167.7 1376.6C1169.2 1378.1 1170.5 1379.6 1172.3 1380.3C1174.0 1380.9 1176.1 1380.3 1178.0 1380.3C1179.9 1380.3 1182.2 1379.8 1183.7 1380.3C1185.3 1380.7 1186.2 1381.6 1187.2 1382.9C1188.1 1384.2 1188.5 1386.0 1189.5 1388.1C1190.4 1390.1 1191.7 1392.8 1192.9 1395.2C1194.0 1397.5 1195.2 1399.6 1196.3 1402.0C1197.5 1404.5 1198.6 1407.5 1199.8 1410.1C1200.9 1412.6 1202.1 1415.2 1203.2 1417.3C1204.4 1419.3 1205.4 1420.2 1206.6 1422.4C1207.9 1424.6 1209.2 1428.2 1210.7 1430.5C1212.1 1432.8 1213.5 1434.7 1215.2 1436.2C1217.0 1437.7 1218.9 1438.7 1221.0 1439.4C1223.1 1440.1 1225.6 1440.2 1227.9 1440.2C1230.1 1440.2 1232.6 1440.1 1234.7 1439.6C1236.8 1439.1 1238.5 1438.7 1240.5 1437.3C1242.4 1436.0 1244.3 1433.9 1246.2 1431.6C1248.1 1429.3 1250.0 1426.6 1251.9 1423.6C1253.8 1420.5 1255.7 1416.9 1257.7 1413.3C1259.6 1409.6 1261.5 1405.4 1263.4 1401.8C1265.3 1398.2 1267.2 1394.7 1269.1 1391.5C1271.0 1388.2 1272.9 1385.4 1274.8 1382.3C1276.8 1379.3 1278.7 1376.0 1280.6 1373.2C1282.5 1370.3 1284.4 1367.8 1286.3 1365.1C1288.2 1362.5 1290.1 1359.8 1292.0 1357.1C1293.9 1354.4 1296.0 1351.2 1297.8 1349.1C1299.5 1347.0 1300.8 1346.2 1302.3 1344.5C1303.9 1342.8 1305.4 1340.9 1306.9 1338.8C1308.5 1336.7 1310.0 1333.9 1311.5 1331.9C1313.0 1329.9 1314.7 1328.3 1316.1 1326.7C1317.5 1325.2 1318.9 1323.2 1320.0 1322.7C1321.1 1322.3 1321.7 1323.6 1322.9 1324.1C1324.2 1324.6 1326.2 1324.7 1327.5 1325.6C1328.8 1326.5 1329.8 1327.9 1330.9 1329.6C1332.1 1331.3 1333.2 1333.7 1334.4 1335.9C1335.5 1338.1 1336.7 1340.4 1337.8 1342.8C1339.0 1345.2 1340.1 1347.8 1341.3 1350.2C1342.4 1352.6 1343.6 1354.8 1344.7 1357.1C1345.8 1359.4 1347.0 1361.5 1348.1 1364.0C1349.3 1366.5 1350.4 1369.1 1351.6 1372.0C1352.7 1374.9 1353.9 1378.1 1355.0 1381.2C1356.2 1384.2 1357.3 1387.7 1358.5 1390.3C1359.6 1393.0 1360.6 1394.9 1361.9 1397.2C1363.2 1399.5 1364.9 1402.0 1366.5 1404.1C1368.0 1406.2 1369.5 1408.1 1371.1 1409.8C1372.6 1411.5 1374.1 1412.9 1375.6 1414.4C1377.2 1415.9 1378.7 1417.7 1380.2 1419.0C1381.8 1420.3 1383.3 1421.4 1384.8 1422.4C1386.3 1423.5 1387.9 1424.4 1389.4 1425.3C1390.9 1426.2 1392.5 1427.1 1394.0 1427.9C1395.5 1428.8 1397.0 1429.5 1398.6 1430.2C1400.1 1431.0 1401.6 1431.9 1403.2 1432.5C1404.7 1433.1 1406.2 1433.3 1407.7 1433.9C1409.3 1434.5 1410.8 1434.9 1412.3 1436.2C1413.8 1437.5 1415.4 1440.4 1416.9 1441.9C1418.4 1443.4 1420.0 1444.3 1421.5 1445.4C1423.0 1446.4 1424.7 1447.2 1426.1 1448.2C1427.4 1449.3 1428.4 1450.3 1429.5 1451.7C1430.7 1453.0 1431.6 1454.7 1433.0 1456.2C1434.3 1457.8 1436.0 1459.1 1437.5 1460.8C1439.1 1462.6 1440.8 1465.0 1442.1 1466.6C1443.5 1468.1 1444.5 1468.9 1445.6 1470.0C1446.6 1471.1 1447.2 1472.3 1448.7 1473.2C1450.1 1474.0 1452.5 1474.9 1454.4 1474.9C1456.3 1474.9 1458.2 1474.0 1460.1 1473.2C1462.0 1472.3 1463.9 1470.7 1465.8 1469.7C1467.8 1468.8 1469.7 1468.3 1471.6 1467.4C1473.5 1466.6 1475.4 1466.0 1477.3 1464.6C1479.2 1463.1 1481.1 1460.7 1483.0 1458.8C1484.9 1456.9 1486.9 1455.4 1488.8 1453.1C1490.7 1450.8 1492.6 1447.7 1494.5 1445.1C1496.4 1442.4 1498.3 1439.3 1500.2 1437.0C1502.1 1434.8 1504.0 1432.9 1506.0 1431.3C1507.9 1429.7 1509.8 1428.8 1511.7 1427.3C1513.6 1425.8 1515.5 1423.7 1517.4 1422.1C1519.3 1420.6 1521.2 1419.2 1523.2 1418.1C1525.1 1417.1 1527.0 1416.4 1528.9 1415.8C1530.8 1415.3 1532.7 1415.1 1534.6 1414.9C1536.5 1414.8 1538.4 1414.8 1540.3 1414.9C1542.3 1415.1 1544.2 1415.5 1546.1 1415.8C1548.0 1416.2 1549.9 1417.1 1551.8 1417.2C1553.7 1417.4 1555.6 1417.0 1557.5 1416.8C1559.4 1416.6 1561.4 1416.5 1563.3 1416.1C1565.2 1415.6 1567.3 1414.5 1569.0 1414.1C1570.7 1413.7 1572.1 1413.4 1573.6 1413.6C1575.1 1413.7 1576.6 1414.5 1578.2 1414.9C1579.7 1415.3 1581.2 1415.3 1582.8 1416.1C1584.3 1416.8 1585.8 1418.3 1587.3 1419.3C1588.9 1420.2 1590.2 1420.9 1591.9 1421.8C1593.6 1422.7 1595.7 1423.4 1597.7 1424.4C1599.6 1425.5 1601.5 1426.8 1603.4 1427.9C1605.3 1428.9 1607.2 1429.3 1609.1 1430.7C1611.0 1432.2 1612.9 1434.4 1614.8 1436.5C1616.8 1438.6 1618.7 1441.3 1620.6 1443.4C1622.5 1445.5 1624.4 1447.1 1626.3 1449.1C1628.2 1451.1 1630.1 1453.3 1632.0 1455.4C1633.9 1457.5 1635.9 1459.5 1637.8 1461.7C1639.7 1463.9 1641.6 1465.7 1643.5 1468.6C1645.4 1471.4 1646.9 1473.0 1649.2 1478.9C1651.5 1484.7 1654.9 1498.2 1657.2 1503.7C1659.5 1509.1 1661.0 1509.0 1662.9 1511.7C1664.8 1514.4 1666.7 1517.0 1668.7 1519.7C1670.6 1522.4 1672.5 1525.3 1674.4 1527.7C1676.3 1530.2 1678.2 1532.5 1680.1 1534.6C1682.0 1536.7 1683.9 1538.6 1685.8 1540.3C1687.8 1542.1 1689.7 1543.7 1691.6 1544.9C1693.5 1546.2 1695.4 1547.0 1697.3 1547.8C1699.2 1548.6 1701.1 1549.0 1703.0 1549.5C1704.9 1550.0 1706.9 1550.3 1708.8 1550.9C1710.7 1551.5 1712.6 1552.3 1714.5 1553.0C1716.4 1553.6 1718.3 1554.4 1720.2 1555.0C1722.1 1555.6 1724.0 1556.0 1726.0 1556.6C1727.9 1557.2 1729.8 1557.9 1731.7 1558.5C1733.6 1559.0 1735.5 1559.1 1737.4 1559.8C1739.3 1560.6 1741.4 1561.9 1743.2 1563.0C1744.9 1564.2 1746.0 1565.4 1747.7 1566.7C1749.5 1568.0 1751.6 1570.0 1753.5 1570.7C1755.4 1571.4 1757.1 1570.9 1759.2 1571.1C1761.3 1571.2 1764.2 1571.7 1766.1 1571.5C1768.0 1571.3 1768.9 1570.6 1770.7 1569.9C1772.4 1569.2 1774.5 1568.3 1776.4 1567.3C1778.3 1566.3 1780.2 1565.0 1782.1 1563.8C1784.0 1562.7 1785.9 1561.6 1787.9 1560.4C1789.8 1559.2 1791.7 1557.6 1793.6 1556.4C1795.5 1555.1 1797.2 1554.1 1799.3 1553.0C1801.4 1551.8 1804.1 1550.6 1806.2 1549.5C1808.3 1548.5 1810.0 1547.4 1811.9 1546.6C1813.8 1545.9 1815.7 1545.3 1817.7 1544.9C1819.6 1544.5 1820.9 1544.4 1823.4 1544.4C1825.9 1544.4 1829.5 1544.7 1832.6 1544.9C1835.6 1545.1 1838.7 1545.4 1841.7 1545.5C1844.8 1545.6 1847.8 1545.7 1850.9 1545.5C1853.9 1545.3 1857.4 1544.8 1860.1 1544.4C1862.7 1543.9 1864.6 1543.3 1866.9 1542.6C1869.2 1542.0 1871.6 1541.1 1873.8 1540.3C1876.0 1539.6 1878.5 1538.7 1880.0 1538.1C1881.5 1537.4 1880.9 1537.2 1882.9 1536.4C1884.9 1535.5 1889.4 1534.1 1892.1 1533.0C1894.8 1531.8 1896.7 1530.5 1899.0 1529.5C1901.3 1528.6 1903.7 1528.0 1905.8 1527.2C1907.9 1526.5 1909.7 1525.9 1911.6 1524.9C1913.5 1524.0 1915.2 1522.4 1917.3 1521.5C1919.4 1520.5 1921.5 1519.6 1924.2 1519.2C1926.9 1518.8 1930.7 1519.4 1933.4 1519.2C1936.0 1519.0 1937.9 1518.3 1940.2 1518.1C1942.5 1517.8 1944.8 1517.3 1947.1 1517.5C1949.4 1517.7 1951.9 1518.6 1954.0 1519.2C1956.1 1519.8 1957.8 1520.3 1959.7 1520.9C1961.6 1521.5 1963.5 1522.2 1965.4 1522.6C1967.4 1523.1 1969.3 1523.3 1971.2 1523.8C1973.1 1524.3 1975.2 1525.2 1976.9 1525.5C1978.6 1525.8 1980.0 1526.0 1981.5 1525.5C1983.0 1525.0 1984.4 1523.5 1986.1 1522.6C1987.8 1521.8 1989.9 1520.9 1991.8 1520.3C1993.7 1519.8 1995.6 1519.8 1997.5 1519.2C1999.4 1518.6 2001.4 1517.7 2003.3 1516.9C2005.2 1516.1 2007.1 1515.3 2009.0 1514.6C2010.9 1513.9 2012.8 1513.4 2014.7 1512.9C2016.6 1512.4 2018.7 1511.8 2020.5 1511.7C2022.2 1511.7 2023.5 1512.3 2025.0 1512.3C2026.6 1512.3 2028.1 1511.9 2029.6 1511.7C2031.2 1511.6 2031.9 1511.1 2034.2 1511.2C2036.5 1511.3 2040.9 1512.0 2043.4 1512.3C2045.9 1512.6 2047.2 1512.7 2049.1 1512.9C2051.0 1513.1 2052.9 1513.3 2054.8 1513.5C2056.8 1513.7 2058.7 1514.0 2060.6 1514.0C2062.5 1514.0 2064.4 1513.5 2066.3 1513.5C2068.2 1513.5 2070.1 1513.8 2072.0 1514.0C2073.9 1514.2 2076.0 1514.8 2077.8 1514.6C2079.5 1514.4 2080.8 1513.6 2082.3 1512.9C2083.9 1512.2 2085.2 1511.3 2086.9 1510.6C2088.7 1509.9 2090.5 1509.4 2092.7 1508.9C2094.8 1508.4 2096.9 1508.6 2100.0 1507.7C2103.1 1506.9 2107.6 1505.0 2111.5 1503.8C2115.3 1502.6 2119.1 1501.4 2122.9 1500.3C2126.7 1499.3 2130.6 1498.3 2134.4 1497.5C2138.2 1496.6 2142.0 1496.0 2145.8 1495.2C2149.7 1494.3 2153.5 1493.1 2157.3 1492.3C2161.1 1491.6 2164.9 1491.2 2168.8 1490.6C2172.6 1490.0 2176.4 1489.5 2180.2 1488.9C2184.0 1488.3 2187.9 1487.6 2191.7 1487.2C2195.5 1486.7 2199.3 1486.4 2203.2 1486.0C2207.0 1485.6 2211.7 1485.2 2214.6 1484.9C2217.5 1484.6 2218.4 1484.3 2220.3 1484.3C2222.3 1484.3 2223.2 1484.3 2226.1 1484.9C2228.9 1485.4 2234.7 1486.9 2237.5 1487.7C2240.4 1488.6 2241.4 1489.2 2243.3 1490.0C2245.2 1490.9 2247.1 1492.0 2249.0 1492.9C2250.9 1493.8 2252.8 1494.6 2254.7 1495.2C2256.6 1495.8 2258.5 1496.2 2260.5 1496.7C2262.4 1497.2 2264.3 1497.6 2266.2 1498.1C2268.1 1498.5 2270.0 1499.0 2271.9 1499.4C2273.8 1499.8 2275.7 1500.3 2277.7 1500.6C2279.6 1500.9 2280.5 1500.8 2283.4 1501.3C2286.2 1501.7 2291.0 1503.0 2294.8 1503.2C2298.7 1503.4 2302.5 1502.6 2306.3 1502.6C2310.1 1502.6 2314.9 1502.8 2317.8 1503.2C2320.6 1503.6 2321.6 1504.5 2323.5 1504.9C2325.4 1505.4 2326.9 1505.7 2329.2 1505.8C2331.5 1505.9 2335.9 1505.6 2337.2 1505.5"/>
<path stroke="#1A6FDF" d="M238.0 1482.2C240.0 1482.3 246.6 1482.8 249.8 1482.9C253.0 1483.0 254.4 1483.1 257.2 1482.7C260.0 1482.4 263.8 1480.6 266.7 1480.7C269.6 1480.8 271.4 1483.1 274.6 1483.4C277.8 1483.8 282.8 1483.1 286.1 1482.6C289.4 1482.1 291.3 1480.6 294.3 1480.5C297.2 1480.5 300.7 1481.9 303.7 1482.5C306.7 1483.0 309.3 1483.4 312.3 1483.6C315.4 1483.9 318.9 1484.0 322.0 1483.9C325.2 1483.9 327.9 1483.9 331.3 1483.4C334.7 1482.9 339.0 1481.1 342.7 1480.9C346.3 1480.6 349.8 1481.6 353.1 1481.9C356.5 1482.2 359.3 1482.5 362.5 1482.7C365.6 1483.0 368.6 1483.4 372.0 1483.3C375.4 1483.2 379.0 1482.3 382.8 1482.2C386.7 1482.1 391.7 1482.4 395.1 1482.4C398.6 1482.5 400.6 1482.7 403.5 1482.5C406.4 1482.3 409.7 1480.9 412.4 1481.0C415.0 1481.1 416.9 1482.5 419.4 1483.0C421.9 1483.4 423.9 1483.5 427.3 1483.5C430.7 1483.6 434.1 1483.5 440.0 1483.4C445.9 1483.3 456.6 1482.7 462.9 1482.8C469.2 1482.9 472.1 1484.8 477.8 1484.0C483.6 1483.1 492.9 1478.3 497.3 1477.7C501.7 1477.0 501.9 1479.7 504.2 1479.9C506.5 1480.2 508.6 1480.1 511.1 1479.4C513.5 1478.6 516.2 1477.2 519.1 1475.4C521.9 1473.5 525.0 1471.2 528.3 1468.5C531.5 1465.8 535.3 1462.6 538.6 1459.3C541.8 1456.1 544.9 1452.6 547.7 1449.0C550.6 1445.4 553.3 1441.5 555.8 1437.5C558.2 1433.5 560.5 1429.3 562.6 1424.9C564.7 1420.5 566.6 1415.6 568.4 1411.2C570.1 1406.8 571.4 1403.5 573.0 1398.6C574.5 1393.6 576.3 1386.9 577.5 1381.4C578.8 1375.8 579.5 1371.1 580.4 1365.3C581.3 1359.6 582.3 1352.9 583.0 1347.0C583.7 1341.1 584.2 1335.5 584.6 1329.8C585.1 1324.1 585.4 1317.6 585.8 1312.6C586.1 1307.6 586.4 1308.7 586.7 1300.0C587.0 1291.3 587.1 1274.7 587.7 1260.5C588.2 1246.2 589.2 1231.8 590.0 1214.6C590.7 1197.4 591.4 1176.4 592.0 1157.3C592.6 1138.2 593.1 1122.3 593.6 1100.0C594.2 1077.7 594.8 1047.8 595.4 1023.6C596.0 999.4 596.6 979.1 597.3 954.8C597.9 930.4 598.6 903.2 599.3 877.4C600.0 851.6 600.9 817.9 601.4 800.0C601.9 782.1 602.1 781.6 602.6 770.0C603.0 758.4 603.4 744.7 603.8 730.5C604.3 716.2 604.8 699.9 605.2 684.6C605.6 669.3 606.0 652.1 606.3 638.8C606.6 625.4 606.8 615.8 607.0 604.4C607.2 592.9 607.2 584.5 607.5 570.0C607.7 555.5 608.0 532.0 608.4 517.5C608.8 503.1 609.6 494.6 610.1 483.2C610.6 471.7 611.0 460.2 611.5 448.8C612.0 437.3 612.4 425.8 613.0 414.4C613.5 402.9 614.0 392.6 614.7 380.0C615.4 367.4 616.2 348.7 617.0 339.0C617.8 329.3 618.5 326.6 619.3 321.8C620.0 317.0 620.8 313.2 621.6 310.3C622.3 307.5 622.9 306.0 623.9 304.6C624.8 303.2 626.4 302.9 627.3 301.7C628.3 300.6 628.7 298.9 629.6 297.7C630.5 296.6 631.5 295.1 632.5 294.9C633.4 294.7 634.5 295.3 635.3 296.6C636.2 297.8 636.9 300.2 637.6 302.3C638.4 304.4 639.1 306.9 639.9 309.2C640.7 311.5 641.4 314.0 642.2 316.1C643.0 318.2 643.5 319.9 644.5 321.8C645.5 323.7 647.0 325.8 647.9 327.5C648.9 329.3 649.5 330.9 650.2 332.1C651.0 333.4 651.8 335.2 652.5 335.0C653.3 334.8 654.1 332.6 654.8 331.0C655.5 329.4 656.0 327.1 656.5 325.2C657.1 323.4 657.6 320.7 658.3 320.1C658.9 319.5 659.8 320.8 660.5 321.8C661.3 322.9 662.1 325.2 662.8 326.4C663.6 327.5 664.4 328.9 665.1 328.7C665.9 328.5 666.7 327.3 667.4 325.2C668.2 323.1 668.9 318.9 669.7 316.1C670.5 313.2 671.2 310.2 672.0 308.1C672.8 306.0 673.5 305.4 674.3 303.5C675.1 301.6 675.8 299.8 676.6 296.6C677.4 293.3 678.1 288.4 678.9 284.0C679.6 279.6 680.4 274.8 681.2 270.2C681.9 265.6 682.7 261.3 683.5 256.5C684.2 251.7 685.0 246.4 685.8 241.6C686.5 236.8 687.3 231.5 688.1 227.8C688.8 224.2 689.6 222.1 690.3 219.8C691.1 217.5 691.9 215.3 692.6 214.1C693.4 212.8 694.2 212.5 694.9 212.3C695.7 212.2 696.5 211.9 697.2 212.9C698.0 214.0 698.8 215.8 699.5 218.7C700.2 221.5 700.8 225.3 701.2 230.1C701.7 234.9 702.0 241.6 702.4 247.3C702.8 253.0 703.1 258.8 703.5 264.5C703.9 270.2 704.3 276.0 704.7 281.7C705.1 287.4 705.4 293.2 705.8 298.9C706.2 304.6 706.6 309.4 707.0 316.1C707.3 322.8 707.8 331.4 708.1 339.0C708.4 346.6 708.7 349.4 708.9 361.9C709.1 374.5 709.0 399.9 709.3 414.4C709.5 428.9 710.0 437.3 710.4 448.8C710.8 460.2 711.2 471.7 711.5 483.2C711.9 494.6 712.3 506.1 712.7 517.5C713.1 529.0 713.5 541.5 713.8 551.9C714.2 562.3 714.6 569.3 715.0 580.0C715.4 590.7 715.8 604.1 716.2 615.8C716.6 627.6 717.0 638.8 717.4 650.2C717.8 661.7 718.3 671.2 718.8 684.6C719.3 698.0 719.9 716.2 720.4 730.5C720.9 744.7 720.8 745.5 721.7 770.0C722.7 794.5 724.7 846.6 726.1 877.4C727.4 908.2 729.0 934.3 729.7 954.8C730.3 975.2 729.5 984.8 730.0 1000.0C730.5 1015.2 731.9 1030.6 732.7 1045.8C733.4 1061.1 733.9 1076.4 734.7 1091.7C735.5 1107.0 736.6 1122.3 737.6 1137.5C738.6 1152.8 739.8 1173.0 740.7 1183.4C741.5 1193.8 741.9 1191.5 742.6 1200.0C743.4 1208.5 744.4 1222.9 745.3 1234.4C746.2 1245.8 747.1 1258.3 748.1 1268.8C749.2 1279.3 750.5 1289.4 751.6 1297.4C752.6 1305.4 753.4 1309.8 754.4 1316.9C755.5 1324.0 756.5 1332.2 757.9 1339.8C759.2 1347.5 760.9 1355.1 762.5 1362.8C764.0 1370.4 765.7 1380.7 767.0 1385.7C768.4 1390.6 769.3 1388.3 770.5 1392.3C771.6 1396.3 772.8 1404.1 773.9 1409.5C775.1 1414.8 776.2 1420.0 777.4 1424.4C778.5 1428.8 779.7 1432.3 780.8 1435.8C781.9 1439.4 783.1 1442.8 784.2 1445.6C785.4 1448.4 786.4 1450.6 787.7 1452.5C788.9 1454.3 790.3 1455.7 791.7 1456.5C793.1 1457.2 794.9 1456.6 796.3 1457.0C797.6 1457.5 798.8 1457.9 799.7 1459.3C800.7 1460.8 801.2 1463.1 802.0 1465.6C802.8 1468.2 803.5 1471.8 804.3 1474.8C805.1 1477.9 805.8 1480.9 806.6 1484.0C807.4 1487.0 808.1 1490.1 808.9 1493.2C809.6 1496.2 810.4 1499.6 811.2 1502.3C811.9 1505.1 812.5 1507.6 813.5 1509.8C814.4 1512.0 815.8 1514.2 816.9 1515.5C818.1 1516.8 819.4 1517.1 820.3 1517.4C821.3 1517.8 821.9 1517.9 822.6 1517.4C823.4 1517.0 824.2 1516.3 824.9 1514.9C825.7 1513.6 826.6 1511.7 827.2 1509.2C827.8 1506.7 828.2 1503.1 828.6 1500.0C829.0 1497.0 829.2 1494.3 829.5 1490.9C829.8 1487.4 830.0 1483.8 830.2 1479.4C830.4 1475.0 830.7 1469.8 830.9 1464.5C831.1 1459.1 831.4 1454.0 831.6 1447.3C831.8 1440.6 832.0 1431.1 832.1 1424.4C832.3 1417.7 832.2 1417.8 832.6 1407.2C833.0 1396.5 833.7 1372.1 834.3 1360.5C835.0 1348.8 835.8 1345.2 836.4 1337.5C837.0 1329.9 837.3 1322.3 837.9 1314.6C838.4 1307.0 839.0 1299.3 839.6 1291.7C840.2 1284.0 840.7 1276.4 841.2 1268.8C841.7 1261.1 842.2 1253.5 842.7 1245.8C843.2 1238.2 843.6 1230.6 844.1 1222.9C844.5 1215.3 844.9 1208.5 845.3 1200.0C845.8 1191.5 846.4 1180.4 846.9 1171.9C847.5 1163.4 848.2 1156.6 848.8 1149.0C849.4 1141.4 849.4 1135.6 850.6 1126.1C851.8 1116.6 854.7 1101.4 856.2 1091.9C857.7 1082.4 858.4 1076.6 859.6 1069.0C860.8 1061.4 862.3 1053.7 863.6 1046.1C864.9 1038.4 866.2 1030.8 867.6 1023.2C869.1 1015.5 870.7 1007.5 872.2 1000.2C873.7 993.0 875.3 985.7 876.8 979.6C878.3 973.5 879.8 967.9 881.4 963.6C882.9 959.2 884.4 955.9 886.0 953.2C887.5 950.6 889.0 948.7 890.5 947.5C892.1 946.3 893.6 945.7 895.1 945.8C896.7 945.9 898.3 947.2 899.7 948.1C901.1 948.9 902.4 950.7 903.7 950.9C905.1 951.2 906.5 949.7 907.7 949.8C909.0 949.9 910.2 950.4 911.2 951.5C912.1 952.7 912.7 954.3 913.5 956.7C914.2 959.1 915.0 962.4 915.8 965.8C916.5 969.3 917.2 973.1 918.1 977.3C918.9 981.5 920.0 986.9 920.9 991.1C921.9 995.3 922.7 999.1 923.8 1002.5C924.8 1006.0 926.1 1008.8 927.2 1011.7C928.4 1014.6 929.5 1017.4 930.7 1019.7C931.8 1022.0 933.0 1023.2 934.1 1025.4C935.1 1027.7 936.0 1030.4 937.0 1033.5C937.9 1036.5 939.0 1040.3 939.8 1043.8C940.7 1047.2 941.4 1050.3 942.1 1054.1C942.9 1057.9 943.6 1062.3 944.4 1066.7C945.2 1071.1 945.9 1075.9 946.7 1080.5C947.5 1085.0 947.8 1089.0 949.0 1094.2C950.2 1099.4 953.1 1106.7 954.1 1111.5C955.1 1116.2 954.9 1119.1 955.2 1122.9C955.6 1126.7 956.1 1130.6 956.4 1134.4C956.7 1138.2 956.8 1142.0 957.0 1145.8C957.2 1149.7 957.3 1153.5 957.5 1157.3C957.8 1161.1 958.2 1164.9 958.5 1168.8C958.7 1172.6 958.9 1176.4 959.3 1180.2C959.6 1184.0 960.0 1187.9 960.4 1191.7C960.8 1195.5 961.2 1199.3 961.5 1203.2C961.9 1207.0 962.4 1210.8 962.7 1214.6C963.0 1218.4 963.2 1222.3 963.5 1226.1C963.8 1229.9 964.1 1233.7 964.4 1237.5C964.7 1241.4 964.9 1244.2 965.3 1249.0C965.7 1253.8 966.2 1260.5 966.7 1266.2C967.2 1271.9 968.0 1279.4 968.4 1283.4C968.9 1287.3 968.7 1285.1 969.3 1290.0C970.0 1294.9 971.2 1305.3 972.2 1312.9C973.3 1320.6 974.3 1328.2 975.6 1335.8C977.0 1343.5 979.0 1353.4 980.2 1358.8C981.5 1364.1 981.9 1364.9 983.1 1367.9C984.3 1371.0 986.2 1374.4 987.7 1377.1C989.2 1379.8 990.7 1381.9 992.3 1384.0C993.8 1386.1 995.3 1387.8 996.8 1389.7C998.4 1391.6 999.9 1393.5 1001.4 1395.4C1003.0 1397.4 1004.7 1399.6 1006.0 1401.2C1007.4 1402.7 1008.1 1402.9 1009.5 1404.6C1010.8 1406.3 1012.5 1408.8 1014.0 1411.5C1015.6 1414.2 1017.3 1417.6 1018.6 1420.7C1020.0 1423.7 1020.9 1426.8 1022.1 1429.8C1023.2 1432.9 1024.4 1436.1 1025.5 1439.0C1026.6 1441.9 1027.6 1444.2 1028.9 1447.0C1030.3 1449.9 1032.0 1453.1 1033.5 1456.2C1035.1 1459.2 1036.4 1462.5 1038.1 1465.4C1039.8 1468.2 1042.0 1471.6 1043.8 1473.4C1045.7 1475.1 1047.4 1475.4 1049.0 1475.9C1050.6 1476.4 1052.1 1476.6 1053.6 1476.6C1055.1 1476.6 1056.6 1476.8 1058.2 1475.9C1059.7 1475.0 1061.4 1473.2 1062.8 1471.3C1064.1 1469.4 1065.0 1467.2 1066.2 1464.4C1067.3 1461.7 1068.7 1459.3 1069.6 1455.0C1070.6 1450.8 1071.2 1444.5 1071.9 1439.0C1072.6 1433.5 1073.3 1427.5 1074.0 1421.8C1074.7 1416.1 1075.3 1410.3 1075.9 1404.6C1076.5 1398.9 1077.1 1393.2 1077.7 1387.4C1078.2 1381.7 1078.5 1375.8 1079.0 1370.2C1079.6 1364.7 1080.1 1359.5 1080.9 1354.2C1081.6 1348.8 1082.4 1343.8 1083.4 1338.1C1084.4 1332.5 1085.7 1325.3 1086.9 1320.4C1088.0 1315.6 1089.2 1312.2 1090.3 1309.0C1091.5 1305.7 1092.4 1303.0 1093.8 1300.9C1095.1 1298.9 1096.8 1297.9 1098.3 1296.9C1099.9 1296.0 1101.2 1295.8 1102.9 1295.4C1104.6 1295.1 1106.7 1294.6 1108.7 1294.6C1110.6 1294.6 1112.7 1294.8 1114.4 1295.4C1116.1 1296.1 1117.6 1297.2 1119.0 1298.7C1120.3 1300.1 1121.3 1302.1 1122.4 1304.4C1123.6 1306.7 1124.7 1309.5 1125.8 1312.4C1127.0 1315.3 1128.0 1318.5 1129.3 1321.6C1130.5 1324.6 1132.0 1328.1 1133.3 1330.7C1134.6 1333.4 1135.9 1335.3 1137.3 1337.6C1138.7 1339.9 1140.4 1342.4 1141.9 1344.5C1143.4 1346.6 1144.9 1348.3 1146.5 1350.2C1148.0 1352.1 1149.5 1353.9 1151.1 1356.0C1152.6 1358.1 1154.1 1360.6 1155.6 1362.8C1157.2 1365.0 1158.7 1367.1 1160.2 1369.1C1161.8 1371.1 1163.3 1373.0 1164.8 1374.9C1166.3 1376.8 1167.7 1379.5 1169.4 1380.6C1171.1 1381.7 1173.2 1381.4 1175.1 1381.7C1177.0 1382.1 1179.1 1382.6 1180.9 1382.9C1182.6 1383.2 1184.1 1382.6 1185.4 1383.5C1186.8 1384.3 1187.7 1386.1 1188.9 1388.1C1190.0 1390.0 1191.2 1392.6 1192.3 1394.9C1193.5 1397.2 1194.6 1399.3 1195.8 1401.8C1196.9 1404.3 1198.1 1407.2 1199.2 1409.8C1200.3 1412.5 1201.6 1415.7 1202.6 1417.9C1203.7 1420.0 1204.4 1420.3 1205.5 1422.4C1206.6 1424.5 1208.1 1428.2 1209.5 1430.5C1210.9 1432.8 1212.4 1434.8 1214.1 1436.2C1215.8 1437.6 1217.7 1438.6 1219.8 1439.1C1221.9 1439.5 1224.4 1439.2 1226.7 1439.1C1229.0 1438.9 1231.5 1438.8 1233.6 1437.9C1235.7 1437.0 1237.4 1435.5 1239.3 1433.9C1241.2 1432.3 1243.1 1430.5 1245.0 1428.2C1247.0 1425.9 1248.9 1423.2 1250.8 1420.1C1252.7 1417.1 1254.6 1413.3 1256.5 1409.8C1258.4 1406.4 1260.3 1402.8 1262.2 1399.5C1264.1 1396.3 1266.1 1393.4 1268.0 1390.3C1269.9 1387.3 1271.8 1384.2 1273.7 1381.2C1275.6 1378.1 1277.5 1374.9 1279.4 1372.0C1281.3 1369.1 1283.2 1366.3 1285.2 1364.0C1287.1 1361.7 1289.0 1360.2 1290.9 1358.3C1292.8 1356.3 1294.7 1354.2 1296.6 1352.5C1298.5 1350.8 1300.4 1349.5 1302.3 1347.9C1304.3 1346.4 1306.2 1344.8 1308.1 1343.4C1310.0 1341.9 1311.8 1340.5 1313.8 1339.3C1315.8 1338.2 1318.5 1337.1 1320.0 1336.5C1321.5 1335.8 1321.7 1335.4 1322.9 1335.3C1324.2 1335.2 1326.2 1335.3 1327.5 1335.9C1328.8 1336.5 1329.8 1337.3 1330.9 1338.8C1332.1 1340.2 1333.2 1342.2 1334.4 1344.5C1335.5 1346.8 1336.7 1349.8 1337.8 1352.5C1339.0 1355.2 1340.1 1358.1 1341.3 1360.5C1342.4 1363.0 1343.6 1364.9 1344.7 1367.4C1345.8 1369.9 1347.0 1372.8 1348.1 1375.4C1349.3 1378.1 1350.4 1380.8 1351.6 1383.5C1352.7 1386.1 1353.9 1388.8 1355.0 1391.5C1356.2 1394.2 1357.1 1396.9 1358.5 1399.5C1359.8 1402.1 1361.5 1404.8 1363.0 1407.0C1364.6 1409.2 1366.1 1411.0 1367.6 1412.7C1369.1 1414.4 1370.7 1415.7 1372.2 1417.3C1373.7 1418.8 1375.3 1420.5 1376.8 1421.9C1378.3 1423.2 1379.8 1424.2 1381.4 1425.3C1382.9 1426.4 1384.2 1427.7 1386.0 1428.7C1387.7 1429.8 1390.0 1430.6 1391.7 1431.4C1393.4 1432.2 1394.7 1432.8 1396.3 1433.7C1397.8 1434.6 1399.3 1435.8 1400.9 1436.8C1402.4 1437.7 1403.9 1438.6 1405.4 1439.4C1407.0 1440.2 1408.5 1440.7 1410.0 1441.7C1411.6 1442.6 1413.1 1444.2 1414.6 1445.1C1416.1 1446.1 1417.7 1446.5 1419.2 1447.4C1420.7 1448.4 1422.3 1449.5 1423.8 1450.9C1425.3 1452.2 1426.8 1453.9 1428.4 1455.4C1429.9 1457.0 1431.4 1458.5 1433.0 1460.0C1434.5 1461.6 1436.0 1463.2 1437.5 1464.8C1439.1 1466.5 1441.2 1467.5 1442.1 1470.0C1443.0 1472.5 1441.8 1477.2 1442.9 1480.0C1444.0 1482.8 1446.6 1485.2 1448.7 1486.9C1450.8 1488.6 1453.6 1489.7 1455.5 1490.1C1457.4 1490.5 1458.4 1490.1 1460.1 1489.2C1461.8 1488.3 1463.9 1486.5 1465.8 1484.6C1467.8 1482.7 1469.7 1480.0 1471.6 1477.7C1473.5 1475.4 1475.4 1473.2 1477.3 1470.9C1479.2 1468.6 1481.1 1466.5 1483.0 1464.0C1484.9 1461.5 1486.9 1458.4 1488.8 1456.0C1490.7 1453.5 1492.6 1451.4 1494.5 1449.1C1496.4 1446.8 1498.3 1444.5 1500.2 1442.2C1502.1 1439.9 1504.0 1437.2 1506.0 1435.3C1507.9 1433.4 1509.8 1432.3 1511.7 1430.7C1513.6 1429.2 1515.5 1427.6 1517.4 1426.2C1519.3 1424.7 1521.2 1423.3 1523.2 1422.1C1525.1 1421.0 1527.0 1420.0 1528.9 1419.3C1530.8 1418.5 1532.7 1417.9 1534.6 1417.6C1536.5 1417.2 1538.4 1417.0 1540.3 1417.0C1542.3 1417.0 1544.2 1417.6 1546.1 1417.6C1548.0 1417.6 1549.9 1417.4 1551.8 1417.0C1553.7 1416.6 1555.6 1415.7 1557.5 1415.3C1559.4 1414.8 1561.4 1414.1 1563.3 1414.1C1565.2 1414.1 1567.1 1415.0 1569.0 1415.3C1570.9 1415.6 1572.8 1415.5 1574.7 1415.8C1576.6 1416.2 1578.5 1416.6 1580.5 1417.6C1582.4 1418.5 1584.3 1420.4 1586.2 1421.6C1588.1 1422.7 1590.0 1423.6 1591.9 1424.4C1593.8 1425.3 1595.7 1426.1 1597.7 1426.7C1599.6 1427.4 1601.5 1427.4 1603.4 1428.5C1605.3 1429.5 1607.2 1431.3 1609.1 1433.0C1611.0 1434.8 1612.9 1436.9 1614.8 1438.8C1616.8 1440.7 1618.7 1442.4 1620.6 1444.5C1622.5 1446.6 1624.4 1448.7 1626.3 1451.4C1628.2 1454.0 1630.1 1457.7 1632.0 1460.5C1633.9 1463.4 1635.9 1465.5 1637.8 1468.6C1639.7 1471.6 1641.6 1475.3 1643.5 1478.9C1645.4 1482.5 1646.9 1486.0 1649.2 1490.3C1651.5 1494.7 1654.9 1501.1 1657.2 1504.8C1659.5 1508.6 1661.0 1510.2 1662.9 1512.8C1664.8 1515.5 1666.7 1518.2 1668.7 1520.9C1670.6 1523.5 1672.5 1526.4 1674.4 1528.9C1676.3 1531.4 1678.2 1533.7 1680.1 1535.8C1682.0 1537.9 1683.9 1539.8 1685.8 1541.5C1687.8 1543.2 1689.7 1544.8 1691.6 1546.1C1693.5 1547.3 1695.4 1548.2 1697.3 1548.9C1699.2 1549.7 1701.1 1550.2 1703.0 1550.7C1704.9 1551.1 1706.9 1551.2 1708.8 1551.8C1710.7 1552.4 1712.6 1553.4 1714.5 1554.1C1716.4 1554.8 1718.3 1555.2 1720.2 1555.8C1722.1 1556.4 1724.0 1557.0 1726.0 1557.5C1727.9 1558.1 1729.8 1558.8 1731.7 1559.3C1733.6 1559.7 1735.5 1559.7 1737.4 1560.4C1739.3 1561.1 1741.4 1562.2 1743.2 1563.3C1744.9 1564.3 1746.0 1565.7 1747.7 1566.7C1749.5 1567.7 1751.6 1568.5 1753.5 1569.0C1755.4 1569.5 1757.3 1569.4 1759.2 1569.6C1761.1 1569.8 1763.0 1570.2 1764.9 1570.1C1766.8 1570.0 1768.7 1569.6 1770.7 1569.0C1772.6 1568.4 1774.5 1567.7 1776.4 1566.7C1778.3 1565.7 1780.2 1564.4 1782.1 1563.3C1784.0 1562.1 1785.9 1561.2 1787.9 1559.8C1789.8 1558.5 1791.7 1556.6 1793.6 1555.2C1795.5 1553.9 1797.2 1552.9 1799.3 1551.8C1801.4 1550.8 1804.1 1550.0 1806.2 1548.9C1808.3 1547.9 1810.0 1546.4 1811.9 1545.5C1813.8 1544.6 1815.7 1544.2 1817.7 1543.8C1819.6 1543.4 1820.5 1543.3 1823.4 1543.2C1826.2 1543.1 1831.0 1543.1 1834.8 1543.2C1838.7 1543.3 1842.5 1543.9 1846.3 1543.8C1850.1 1543.7 1853.9 1543.3 1857.8 1542.6C1861.6 1542.0 1865.5 1541.0 1869.2 1539.8C1872.9 1538.5 1877.7 1536.2 1880.0 1535.2C1882.3 1534.1 1880.9 1534.3 1882.9 1533.5C1884.9 1532.8 1889.4 1531.6 1892.1 1530.7C1894.8 1529.7 1896.7 1528.7 1899.0 1527.8C1901.3 1526.9 1903.7 1526.3 1905.8 1525.5C1907.9 1524.7 1909.7 1524.1 1911.6 1523.2C1913.5 1522.3 1915.2 1521.2 1917.3 1520.3C1919.4 1519.5 1921.5 1518.3 1924.2 1518.1C1926.9 1517.8 1930.7 1518.7 1933.4 1518.6C1936.0 1518.5 1937.9 1517.8 1940.2 1517.5C1942.5 1517.2 1944.8 1516.8 1947.1 1516.9C1949.4 1517.0 1951.9 1517.6 1954.0 1518.1C1956.1 1518.5 1957.8 1519.3 1959.7 1519.8C1961.6 1520.2 1963.5 1520.6 1965.4 1520.9C1967.4 1521.2 1969.3 1521.2 1971.2 1521.5C1973.1 1521.8 1975.2 1522.5 1976.9 1522.6C1978.6 1522.7 1980.0 1522.4 1981.5 1522.1C1983.0 1521.7 1984.4 1520.9 1986.1 1520.3C1987.8 1519.8 1989.9 1519.1 1991.8 1518.6C1993.7 1518.1 1995.6 1518.1 1997.5 1517.5C1999.4 1516.9 2001.4 1516.0 2003.3 1515.2C2005.2 1514.4 2007.1 1513.6 2009.0 1512.9C2010.9 1512.2 2012.8 1511.6 2014.7 1511.2C2016.6 1510.7 2018.5 1510.4 2020.5 1510.3C2022.4 1510.2 2024.3 1510.6 2026.2 1510.6C2028.1 1510.6 2029.4 1510.0 2031.9 1510.0C2034.4 1510.0 2038.2 1510.2 2041.1 1510.6C2044.0 1511.0 2046.8 1512.2 2049.1 1512.6C2051.4 1512.9 2052.9 1512.8 2054.8 1512.9C2056.8 1513.0 2058.7 1513.2 2060.6 1513.2C2062.5 1513.2 2064.4 1513.0 2066.3 1512.9C2068.2 1512.8 2070.1 1512.9 2072.0 1512.9C2073.9 1512.9 2075.9 1513.2 2077.8 1512.9C2079.7 1512.6 2081.6 1511.7 2083.5 1511.2C2085.4 1510.6 2087.3 1509.9 2089.2 1509.5C2091.1 1509.0 2093.2 1508.7 2095.0 1508.3C2096.8 1507.9 2097.2 1508.0 2100.0 1507.2C2102.8 1506.3 2107.6 1504.4 2111.5 1503.2C2115.3 1502.0 2119.1 1500.8 2122.9 1499.8C2126.7 1498.7 2130.6 1497.8 2134.4 1496.9C2138.2 1496.0 2142.0 1495.5 2145.8 1494.6C2149.7 1493.8 2153.5 1492.5 2157.3 1491.7C2161.1 1491.0 2164.9 1490.6 2168.8 1490.0C2172.6 1489.5 2176.4 1488.9 2180.2 1488.3C2184.0 1487.7 2187.9 1487.1 2191.7 1486.6C2195.5 1486.1 2199.3 1485.9 2203.2 1485.4C2207.0 1485.0 2210.8 1484.0 2214.6 1483.7C2218.4 1483.4 2222.3 1483.2 2226.1 1483.7C2229.9 1484.2 2234.7 1485.7 2237.5 1486.6C2240.4 1487.4 2241.4 1488.1 2243.3 1488.9C2245.2 1489.6 2247.1 1490.4 2249.0 1491.2C2250.9 1491.9 2252.8 1492.7 2254.7 1493.5C2256.6 1494.2 2258.5 1495.1 2260.5 1495.8C2262.4 1496.4 2264.3 1496.9 2266.2 1497.5C2268.1 1498.1 2270.0 1498.7 2271.9 1499.2C2273.8 1499.7 2275.7 1500.1 2277.7 1500.3C2279.6 1500.6 2280.5 1500.7 2283.4 1500.9C2286.2 1501.1 2291.0 1501.3 2294.8 1501.5C2298.7 1501.7 2302.5 1502.0 2306.3 1502.1C2310.1 1502.2 2314.9 1501.6 2317.8 1502.1C2320.6 1502.5 2321.6 1504.3 2323.5 1504.9C2325.4 1505.6 2326.9 1506.0 2329.2 1506.1C2331.5 1506.2 2335.9 1505.6 2337.2 1505.5"/>
<path stroke="#37AD6B" d="M238.0 1484.4C239.3 1484.5 243.2 1484.9 245.9 1484.9C248.6 1485.0 251.3 1485.1 254.3 1484.7C257.4 1484.3 261.1 1482.2 264.1 1482.4C267.1 1482.6 269.5 1485.8 272.4 1485.8C275.4 1485.7 278.4 1482.2 281.7 1482.0C285.0 1481.7 289.2 1484.0 292.2 1484.3C295.3 1484.5 297.2 1483.1 300.2 1483.3C303.2 1483.5 307.3 1485.3 310.5 1485.2C313.7 1485.1 316.0 1482.4 319.4 1482.5C322.8 1482.5 326.9 1485.3 330.7 1485.3C334.6 1485.2 338.5 1481.9 342.5 1482.0C346.5 1482.1 351.0 1485.8 354.6 1485.9C358.3 1485.9 361.2 1482.3 364.4 1482.2C367.7 1482.2 370.5 1485.0 374.0 1485.6C377.5 1486.2 381.4 1486.3 385.3 1485.8C389.2 1485.2 394.1 1482.1 397.5 1482.1C400.9 1482.1 402.3 1485.6 405.6 1485.8C409.0 1486.1 414.4 1484.1 417.8 1483.8C421.2 1483.5 422.2 1484.0 425.9 1484.0C429.6 1483.9 433.8 1483.5 440.0 1483.4C446.2 1483.3 455.7 1483.6 462.9 1483.4C470.2 1483.2 479.2 1482.6 483.6 1482.2C487.9 1481.9 487.2 1481.7 489.3 1481.1C491.4 1480.5 494.3 1478.4 496.2 1478.8C498.1 1479.2 498.8 1482.0 500.7 1483.4C502.7 1484.7 505.5 1486.4 507.6 1486.8C509.7 1487.2 511.3 1486.6 513.4 1485.7C515.5 1484.7 517.4 1483.0 520.2 1481.1C523.1 1479.2 527.3 1476.3 530.5 1474.2C533.8 1472.1 536.8 1470.6 539.7 1468.5C542.6 1466.4 545.1 1464.3 547.7 1461.6C550.4 1458.9 553.3 1455.9 555.8 1452.4C558.2 1449.0 560.5 1445.0 562.6 1441.0C564.7 1437.0 566.6 1432.8 568.4 1428.4C570.1 1424.0 571.5 1419.6 573.0 1414.6C574.4 1409.6 575.8 1404.3 577.0 1398.6C578.1 1392.8 578.9 1387.1 579.8 1380.2C580.8 1373.4 581.9 1364.9 582.7 1357.3C583.5 1349.7 584.0 1342.0 584.6 1334.4C585.3 1326.7 586.0 1317.2 586.5 1311.5C587.0 1305.7 587.3 1308.5 587.6 1300.0C588.0 1291.5 588.1 1274.7 588.5 1260.5C588.9 1246.2 589.6 1231.8 590.2 1214.6C590.8 1197.4 591.7 1176.4 592.3 1157.3C592.9 1138.2 593.3 1122.3 593.9 1100.0C594.4 1077.7 594.8 1047.8 595.4 1023.6C595.9 999.4 596.6 979.1 597.3 954.8C597.9 930.4 598.6 903.2 599.3 877.4C600.0 851.6 601.0 817.9 601.6 800.0C602.1 782.1 602.4 781.6 602.8 770.0C603.2 758.4 603.5 744.7 603.9 730.5C604.3 716.2 604.9 699.9 605.3 684.6C605.7 669.3 606.2 652.1 606.6 638.8C606.9 625.4 607.0 615.8 607.2 604.4C607.5 592.9 607.5 580.7 607.8 570.0C608.1 559.3 608.6 553.0 609.2 540.5C609.8 527.9 610.8 509.9 611.5 494.6C612.2 479.3 612.9 462.1 613.6 448.8C614.2 435.4 614.6 425.8 615.3 414.4C615.9 402.9 616.9 385.9 617.6 380.0C618.3 374.1 618.8 381.0 619.5 379.1C620.2 377.2 620.9 371.7 621.6 368.8C622.3 365.9 623.1 364.2 623.9 361.9C624.6 359.6 625.3 357.2 626.2 355.0C627.0 352.8 628.1 350.1 629.0 348.7C630.0 347.4 630.9 346.9 631.9 347.0C632.8 347.1 633.9 347.8 634.8 349.3C635.6 350.8 636.4 353.9 637.0 356.2C637.7 358.5 638.1 361.3 638.8 363.1C639.4 364.9 640.2 365.9 641.1 367.1C641.9 368.2 643.1 368.7 643.9 369.9C644.8 371.2 645.5 372.8 646.2 374.5C646.9 376.2 647.3 378.7 647.9 380.3C648.6 381.8 649.5 383.5 650.2 383.7C651.0 383.9 651.8 382.2 652.5 381.4C653.3 380.6 653.9 379.3 654.8 379.1C655.8 378.9 657.3 379.5 658.3 380.3C659.2 381.0 659.8 382.6 660.5 383.7C661.3 384.8 661.9 386.9 662.8 387.1C663.8 387.3 665.2 386.8 666.3 384.8C667.4 382.9 668.5 379.1 669.5 375.7C670.5 372.2 671.5 367.7 672.3 364.2C673.2 360.8 673.8 358.7 674.6 355.0C675.4 351.4 676.3 347.0 677.2 342.4C678.1 337.9 678.9 333.3 680.0 327.5C681.2 321.8 682.7 313.8 684.0 308.1C685.4 302.3 686.8 297.5 688.1 293.2C689.3 288.8 690.4 284.6 691.5 281.7C692.5 278.8 693.6 277.1 694.4 276.0C695.1 274.8 695.4 274.2 696.1 274.8C696.7 275.4 697.5 277.3 698.1 279.4C698.8 281.5 699.5 284.2 700.1 287.4C700.7 290.7 701.1 295.1 701.6 298.9C702.0 302.7 702.3 306.1 702.7 310.3C703.1 314.5 703.5 319.3 703.9 324.1C704.3 328.9 704.6 333.6 705.0 339.0C705.4 344.3 706.0 350.5 706.4 356.2C706.8 361.9 707.1 361.8 707.5 373.4C708.0 385.0 708.7 411.4 709.3 425.8C709.8 440.3 710.3 448.8 710.7 460.2C711.2 471.7 711.7 483.2 712.1 494.6C712.6 506.1 713.0 517.5 713.5 529.0C714.0 540.5 714.7 552.7 715.0 563.4C715.2 574.0 714.7 580.4 715.0 592.9C715.3 605.5 716.1 623.5 716.7 638.8C717.3 654.0 718.1 669.3 718.8 684.6C719.4 699.9 720.0 716.2 720.6 730.5C721.2 744.7 721.3 745.5 722.2 770.0C723.1 794.5 725.0 846.6 726.2 877.4C727.5 908.2 729.1 934.3 729.9 954.8C730.6 975.2 730.1 984.8 730.7 1000.0C731.3 1015.2 732.6 1030.6 733.5 1045.8C734.3 1061.1 734.9 1076.4 735.8 1091.7C736.6 1107.0 737.7 1122.3 738.7 1137.5C739.8 1152.8 741.1 1173.0 741.8 1183.4C742.5 1193.8 742.3 1191.5 743.0 1200.0C743.6 1208.5 744.7 1222.9 745.8 1234.4C747.0 1245.8 748.4 1258.3 749.9 1268.8C751.3 1279.3 752.9 1289.8 754.4 1297.4C756.0 1305.1 757.5 1307.9 759.0 1314.6C760.6 1321.3 762.0 1329.9 763.6 1337.5C765.2 1345.2 767.0 1352.8 768.8 1360.5C770.5 1368.1 772.2 1376.2 773.9 1383.4C775.6 1390.6 777.5 1398.8 779.1 1403.8C780.7 1408.7 782.3 1410.8 783.7 1412.9C785.0 1415.0 786.0 1416.9 787.1 1416.4C788.3 1415.8 789.4 1411.8 790.5 1409.5C791.7 1407.2 792.8 1404.4 794.0 1402.6C795.1 1400.8 796.3 1399.5 797.4 1398.6C798.6 1397.7 799.7 1397.2 800.9 1397.4C802.0 1397.7 803.3 1398.7 804.3 1400.3C805.3 1401.9 805.9 1404.5 806.6 1407.2C807.3 1409.9 807.7 1412.9 808.3 1416.4C808.9 1419.8 809.4 1424.0 810.0 1427.8C810.7 1431.6 811.6 1435.5 812.3 1439.3C813.1 1443.1 813.8 1447.1 814.6 1450.7C815.4 1454.4 816.1 1457.8 816.9 1461.1C817.7 1464.3 818.6 1467.6 819.2 1470.2C819.8 1472.9 820.0 1475.5 820.3 1477.1C820.7 1478.7 820.9 1480.0 821.3 1480.0C821.6 1480.0 822.1 1478.7 822.4 1477.1C822.7 1475.5 822.9 1473.3 823.2 1470.2C823.5 1467.2 823.9 1463.5 824.4 1458.8C824.8 1454.0 825.1 1447.3 825.7 1441.6C826.4 1435.8 827.3 1430.1 828.1 1424.4C829.0 1418.7 829.9 1411.3 830.7 1407.2C831.4 1403.1 832.1 1407.8 832.7 1400.0C833.4 1392.2 833.8 1370.9 834.4 1360.5C835.1 1350.0 835.9 1345.2 836.5 1337.5C837.1 1329.9 837.6 1322.3 838.1 1314.6C838.7 1307.0 839.3 1299.3 839.8 1291.7C840.4 1284.0 840.9 1276.4 841.4 1268.8C842.0 1261.1 842.5 1253.5 843.0 1245.8C843.5 1238.2 844.0 1230.6 844.4 1222.9C844.9 1215.3 845.2 1208.5 845.7 1200.0C846.2 1191.5 846.9 1180.4 847.5 1171.9C848.1 1163.4 848.8 1156.6 849.5 1149.0C850.1 1141.4 850.2 1135.6 851.5 1126.1C852.8 1116.6 855.6 1099.5 857.3 1091.9C859.0 1084.3 860.4 1086.2 861.9 1080.5C863.4 1074.7 864.9 1065.2 866.5 1057.5C868.0 1049.9 869.5 1042.3 871.1 1034.6C872.6 1027.0 874.1 1018.6 875.6 1011.7C877.2 1004.8 878.7 998.7 880.2 993.4C881.8 988.0 883.3 983.4 884.8 979.6C886.3 975.8 887.9 972.5 889.4 970.4C890.9 968.3 892.5 967.5 894.0 967.0C895.5 966.5 897.0 967.3 898.6 967.6C900.1 967.9 901.6 968.1 903.2 968.7C904.7 969.3 906.5 970.0 907.7 971.0C909.0 972.1 909.7 973.2 910.6 975.0C911.5 976.8 912.1 979.2 912.9 981.9C913.7 984.6 914.4 988.0 915.2 991.1C916.0 994.1 916.6 997.0 917.5 1000.2C918.3 1003.5 919.3 1007.3 920.3 1010.5C921.4 1013.8 922.6 1016.8 923.8 1019.7C924.9 1022.6 926.1 1025.3 927.2 1027.7C928.4 1030.2 929.5 1032.5 930.7 1034.6C931.8 1036.7 933.0 1038.2 934.1 1040.3C935.1 1042.4 936.0 1044.5 937.0 1047.2C937.9 1049.9 938.9 1053.0 939.8 1056.4C940.8 1059.8 941.8 1063.8 942.7 1067.9C943.6 1071.9 944.2 1076.1 945.0 1080.5C945.7 1084.9 945.9 1089.0 947.3 1094.2C948.6 1099.4 952.0 1106.7 953.2 1111.5C954.4 1116.2 954.1 1119.1 954.6 1122.9C955.0 1126.7 955.4 1130.6 955.7 1134.4C956.0 1138.2 956.2 1142.0 956.4 1145.8C956.6 1149.7 956.8 1153.5 957.1 1157.3C957.3 1161.1 957.6 1164.9 957.9 1168.8C958.1 1172.6 958.4 1176.4 958.7 1180.2C959.0 1184.0 959.4 1187.9 959.8 1191.7C960.2 1195.5 960.6 1199.3 961.0 1203.2C961.4 1207.0 961.8 1210.8 962.1 1214.6C962.5 1218.4 962.7 1222.3 963.0 1226.1C963.3 1229.9 963.6 1233.7 964.0 1237.5C964.3 1241.4 964.5 1244.2 964.9 1249.0C965.3 1253.8 965.7 1260.5 966.2 1266.2C966.7 1271.9 967.3 1279.4 967.9 1283.4C968.4 1287.3 968.7 1286.0 969.3 1290.0C970.0 1294.0 970.8 1301.5 971.6 1307.2C972.5 1312.9 973.4 1318.7 974.5 1324.4C975.5 1330.1 976.7 1336.2 977.9 1341.6C979.2 1346.9 980.2 1351.9 981.9 1356.5C983.7 1361.1 986.1 1365.6 988.3 1369.1C990.4 1372.5 993.0 1374.8 995.1 1377.1C997.2 1379.4 998.9 1381.3 1000.9 1382.8C1002.8 1384.4 1004.9 1385.1 1006.6 1386.3C1008.3 1387.4 1009.8 1388.4 1011.2 1389.7C1012.5 1391.1 1013.5 1392.4 1014.6 1394.3C1015.8 1396.2 1017.0 1398.5 1018.1 1401.2C1019.1 1403.8 1020.0 1407.3 1020.9 1410.3C1021.9 1413.4 1022.7 1416.5 1023.8 1419.5C1024.8 1422.6 1026.1 1425.6 1027.2 1428.7C1028.4 1431.7 1029.5 1435.2 1030.7 1437.9C1031.8 1440.5 1032.8 1442.6 1034.1 1444.7C1035.4 1446.8 1037.2 1448.7 1038.7 1450.5C1040.2 1452.2 1041.7 1453.3 1043.3 1455.0C1044.8 1456.8 1046.3 1459.5 1047.9 1460.8C1049.4 1462.0 1050.9 1462.4 1052.4 1462.5C1054.0 1462.6 1055.5 1462.0 1057.0 1461.3C1058.5 1460.7 1060.1 1460.3 1061.6 1458.5C1063.1 1456.7 1064.9 1453.7 1066.2 1450.5C1067.5 1447.2 1068.6 1443.4 1069.6 1439.0C1070.7 1434.6 1071.5 1429.4 1072.5 1424.1C1073.4 1418.7 1074.4 1412.6 1075.4 1406.9C1076.3 1401.2 1077.3 1395.8 1078.2 1389.7C1079.2 1383.6 1080.0 1376.9 1081.1 1370.2C1082.1 1363.5 1083.6 1358.3 1084.5 1349.6C1085.5 1340.9 1085.9 1325.1 1086.9 1318.1C1087.8 1311.2 1089.0 1310.9 1090.3 1307.8C1091.7 1304.8 1093.2 1302.1 1094.9 1299.8C1096.6 1297.5 1098.7 1295.7 1100.6 1294.1C1102.5 1292.4 1104.5 1290.9 1106.4 1290.1C1108.3 1289.2 1110.4 1288.7 1112.1 1288.9C1113.8 1289.1 1115.1 1289.8 1116.7 1291.2C1118.2 1292.6 1119.9 1295.1 1121.3 1297.5C1122.6 1299.9 1123.6 1302.7 1124.7 1305.5C1125.8 1308.4 1127.0 1311.5 1128.1 1314.7C1129.3 1317.9 1130.4 1321.8 1131.6 1325.0C1132.7 1328.3 1133.7 1331.3 1135.0 1334.2C1136.4 1337.0 1138.1 1339.9 1139.6 1342.2C1141.1 1344.5 1142.7 1346.0 1144.2 1347.9C1145.7 1349.8 1147.2 1351.8 1148.8 1353.7C1150.3 1355.6 1151.8 1357.3 1153.4 1359.4C1154.9 1361.5 1156.4 1364.2 1157.9 1366.3C1159.5 1368.4 1161.0 1370.1 1162.5 1372.0C1164.0 1373.9 1165.6 1376.1 1167.1 1377.7C1168.6 1379.4 1170.0 1380.9 1171.7 1381.7C1173.4 1382.6 1175.5 1382.7 1177.4 1382.9C1179.3 1383.1 1181.6 1382.6 1183.2 1382.9C1184.7 1383.2 1185.6 1383.6 1186.6 1384.6C1187.5 1385.7 1187.9 1387.3 1188.9 1389.2C1189.8 1391.1 1191.2 1393.8 1192.3 1396.1C1193.5 1398.4 1194.6 1400.5 1195.8 1403.0C1196.9 1405.4 1198.1 1408.5 1199.2 1411.0C1200.3 1413.5 1201.5 1415.9 1202.6 1417.9C1203.8 1419.8 1204.7 1420.3 1206.1 1422.4C1207.4 1424.5 1209.1 1428.2 1210.7 1430.5C1212.2 1432.8 1213.5 1434.7 1215.2 1436.2C1217.0 1437.7 1218.9 1439.0 1221.0 1439.6C1223.1 1440.3 1225.6 1440.2 1227.9 1440.2C1230.1 1440.2 1232.6 1440.0 1234.7 1439.4C1236.8 1438.8 1238.5 1438.2 1240.5 1436.8C1242.4 1435.4 1244.3 1433.3 1246.2 1431.0C1248.1 1428.7 1250.0 1426.1 1251.9 1423.0C1253.8 1420.0 1255.7 1416.2 1257.7 1412.7C1259.6 1409.2 1261.5 1405.2 1263.4 1401.8C1265.3 1398.4 1267.2 1395.1 1269.1 1392.1C1271.0 1389.0 1272.9 1386.4 1274.8 1383.5C1276.8 1380.5 1278.7 1377.2 1280.6 1374.3C1282.5 1371.4 1284.4 1368.9 1286.3 1366.3C1288.2 1363.6 1290.1 1360.7 1292.0 1358.3C1293.9 1355.8 1296.0 1353.1 1297.8 1351.4C1299.5 1349.7 1300.8 1349.7 1302.3 1347.9C1303.9 1346.2 1305.4 1343.2 1306.9 1341.1C1308.5 1339.0 1310.0 1337.0 1311.5 1335.3C1313.0 1333.6 1314.7 1332.1 1316.1 1330.7C1317.5 1329.4 1318.9 1328.1 1320.0 1327.3C1321.1 1326.5 1321.7 1326.4 1322.9 1326.2C1324.2 1326.0 1326.2 1325.8 1327.5 1326.2C1328.8 1326.5 1329.8 1327.1 1330.9 1328.5C1332.1 1329.8 1333.2 1332.1 1334.4 1334.2C1335.5 1336.3 1336.7 1338.6 1337.8 1341.1C1339.0 1343.5 1340.1 1346.6 1341.3 1349.1C1342.4 1351.6 1343.6 1353.7 1344.7 1356.0C1345.8 1358.3 1347.0 1360.4 1348.1 1362.8C1349.3 1365.3 1350.4 1368.0 1351.6 1370.9C1352.7 1373.7 1353.9 1377.0 1355.0 1380.0C1356.2 1383.1 1357.3 1386.5 1358.5 1389.2C1359.6 1391.9 1360.6 1393.8 1361.9 1396.1C1363.2 1398.4 1364.9 1400.9 1366.5 1403.0C1368.0 1405.1 1369.5 1407.0 1371.1 1408.7C1372.6 1410.4 1374.1 1411.7 1375.6 1413.3C1377.2 1414.8 1378.7 1416.5 1380.2 1417.9C1381.8 1419.2 1383.3 1420.1 1384.8 1421.3C1386.3 1422.4 1387.9 1423.7 1389.4 1424.7C1390.9 1425.8 1392.5 1426.6 1394.0 1427.6C1395.5 1428.5 1397.0 1429.4 1398.6 1430.5C1400.1 1431.5 1401.6 1432.8 1403.2 1433.9C1404.7 1435.0 1406.2 1436.4 1407.7 1437.3C1409.3 1438.3 1410.8 1438.7 1412.3 1439.6C1413.8 1440.6 1415.4 1442.1 1416.9 1443.1C1418.4 1444.0 1420.0 1444.6 1421.5 1445.4C1423.0 1446.1 1424.7 1446.7 1426.1 1447.7C1427.4 1448.6 1428.4 1449.8 1429.5 1451.1C1430.7 1452.4 1431.6 1454.1 1433.0 1455.7C1434.3 1457.2 1436.0 1458.5 1437.5 1460.3C1439.1 1462.0 1440.8 1464.4 1442.1 1466.0C1443.5 1467.6 1444.5 1469.0 1445.6 1470.0C1446.6 1471.0 1447.2 1471.4 1448.7 1472.0C1450.1 1472.6 1452.5 1473.7 1454.4 1473.7C1456.3 1473.7 1458.2 1472.9 1460.1 1472.0C1462.0 1471.1 1463.9 1469.5 1465.8 1468.6C1467.8 1467.6 1469.7 1467.0 1471.6 1466.3C1473.5 1465.5 1475.4 1465.3 1477.3 1464.0C1479.2 1462.6 1481.1 1460.2 1483.0 1458.3C1484.9 1456.3 1486.9 1454.8 1488.8 1452.5C1490.7 1450.2 1492.6 1447.2 1494.5 1444.5C1496.4 1441.8 1498.3 1438.8 1500.2 1436.5C1502.1 1434.2 1504.0 1432.3 1506.0 1430.7C1507.9 1429.2 1509.8 1428.6 1511.7 1427.3C1513.6 1426.0 1515.5 1424.1 1517.4 1422.7C1519.3 1421.4 1521.2 1420.1 1523.2 1419.3C1525.1 1418.4 1527.0 1418.2 1528.9 1417.6C1530.8 1416.9 1532.7 1415.7 1534.6 1415.3C1536.5 1414.8 1538.4 1414.7 1540.3 1414.7C1542.3 1414.7 1544.2 1414.9 1546.1 1415.3C1548.0 1415.7 1549.9 1416.8 1551.8 1417.0C1553.7 1417.2 1555.6 1416.6 1557.5 1416.4C1559.4 1416.2 1561.4 1416.3 1563.3 1415.8C1565.2 1415.4 1567.3 1414.0 1569.0 1413.6C1570.7 1413.1 1572.1 1412.7 1573.6 1413.0C1575.1 1413.3 1576.6 1414.6 1578.2 1415.3C1579.7 1415.9 1581.2 1416.1 1582.8 1417.0C1584.3 1417.9 1585.8 1419.5 1587.3 1420.4C1588.9 1421.4 1590.2 1421.9 1591.9 1422.7C1593.6 1423.6 1595.7 1424.6 1597.7 1425.6C1599.6 1426.5 1601.5 1427.4 1603.4 1428.5C1605.3 1429.5 1607.2 1430.4 1609.1 1431.9C1611.0 1433.4 1612.9 1435.7 1614.8 1437.6C1616.8 1439.5 1618.7 1441.6 1620.6 1443.4C1622.5 1445.1 1624.4 1446.2 1626.3 1447.9C1628.2 1449.7 1630.1 1451.8 1632.0 1453.7C1633.9 1455.6 1635.9 1457.5 1637.8 1459.4C1639.7 1461.3 1641.6 1462.8 1643.5 1465.1C1645.4 1467.4 1646.9 1467.3 1649.2 1473.2C1651.5 1479.0 1654.9 1494.4 1657.2 1500.2C1659.5 1506.1 1661.0 1505.6 1662.9 1508.3C1664.8 1510.9 1666.7 1513.8 1668.7 1516.3C1670.6 1518.8 1672.5 1521.1 1674.4 1523.2C1676.3 1525.3 1678.2 1527.0 1680.1 1528.9C1682.0 1530.8 1683.9 1532.9 1685.8 1534.6C1687.8 1536.3 1689.7 1537.9 1691.6 1539.2C1693.5 1540.5 1695.4 1541.7 1697.3 1542.6C1699.2 1543.6 1701.1 1544.3 1703.0 1544.9C1704.9 1545.6 1705.9 1545.7 1708.8 1546.6C1711.6 1547.6 1716.4 1549.4 1720.2 1550.7C1724.0 1551.9 1727.9 1552.8 1731.7 1554.1C1735.5 1555.4 1740.3 1557.3 1743.2 1558.7C1746.0 1560.0 1747.0 1561.0 1748.9 1562.1C1750.8 1563.3 1752.7 1564.6 1754.6 1565.6C1756.5 1566.5 1758.4 1567.5 1760.3 1567.9C1762.3 1568.2 1764.2 1568.1 1766.1 1567.9C1768.0 1567.6 1769.9 1566.7 1771.8 1566.1C1773.7 1565.6 1775.6 1565.3 1777.5 1564.4C1779.4 1563.6 1781.4 1562.0 1783.3 1561.0C1785.2 1559.9 1787.1 1559.3 1789.0 1558.1C1790.9 1557.0 1792.8 1555.3 1794.7 1554.1C1796.6 1552.9 1798.5 1551.6 1800.5 1550.7C1802.4 1549.7 1804.3 1549.3 1806.2 1548.4C1808.1 1547.4 1810.0 1545.8 1811.9 1544.9C1813.8 1544.1 1815.7 1543.6 1817.7 1543.2C1819.6 1542.8 1821.5 1542.7 1823.4 1542.6C1825.3 1542.5 1827.2 1542.6 1829.1 1542.6C1831.0 1542.6 1832.9 1542.5 1834.8 1542.6C1836.8 1542.7 1838.7 1543.1 1840.6 1543.2C1842.5 1543.3 1844.4 1543.3 1846.3 1543.2C1848.2 1543.1 1850.1 1542.8 1852.0 1542.6C1853.9 1542.4 1855.9 1542.4 1857.8 1542.1C1859.7 1541.7 1861.6 1540.8 1863.5 1540.3C1865.4 1539.9 1867.3 1539.8 1869.2 1539.2C1871.1 1538.6 1873.2 1537.7 1875.0 1536.9C1876.8 1536.1 1878.3 1535.5 1880.0 1534.6C1881.7 1533.8 1883.2 1532.5 1885.2 1531.8C1887.2 1531.1 1889.8 1531.4 1892.1 1530.7C1894.4 1529.9 1896.7 1528.2 1899.0 1527.2C1901.3 1526.3 1903.7 1525.7 1905.8 1524.9C1907.9 1524.2 1909.7 1523.4 1911.6 1522.6C1913.5 1521.9 1915.2 1521.1 1917.3 1520.3C1919.4 1519.6 1921.5 1518.5 1924.2 1518.1C1926.9 1517.6 1930.7 1517.7 1933.4 1517.5C1936.0 1517.3 1937.9 1517.1 1940.2 1516.9C1942.5 1516.7 1945.2 1516.3 1947.1 1516.3C1949.0 1516.3 1950.0 1516.4 1951.7 1516.9C1953.4 1517.4 1955.5 1518.6 1957.4 1519.2C1959.3 1519.8 1960.3 1520.2 1963.2 1520.3C1966.0 1520.5 1970.8 1520.4 1974.6 1520.3C1978.4 1520.2 1983.2 1520.1 1986.1 1519.8C1988.9 1519.5 1989.9 1519.1 1991.8 1518.6C1993.7 1518.1 1995.6 1517.6 1997.5 1516.9C1999.4 1516.2 2001.4 1515.3 2003.3 1514.6C2005.2 1513.9 2007.1 1513.5 2009.0 1512.9C2010.9 1512.3 2012.8 1511.7 2014.7 1511.2C2016.6 1510.7 2017.6 1510.3 2020.5 1510.0C2023.3 1509.7 2028.1 1509.4 2031.9 1509.5C2035.7 1509.6 2039.6 1510.2 2043.4 1510.6C2047.2 1511.0 2051.0 1511.6 2054.8 1511.7C2058.7 1511.9 2062.5 1511.7 2066.3 1511.7C2070.1 1511.7 2074.9 1511.9 2077.8 1511.7C2080.6 1511.6 2081.6 1511.0 2083.5 1510.6C2085.4 1510.2 2087.3 1509.8 2089.2 1509.5C2091.1 1509.1 2093.2 1508.7 2095.0 1508.3C2096.8 1507.9 2098.2 1507.6 2100.0 1507.2C2101.8 1506.7 2103.8 1506.1 2105.7 1505.5C2107.6 1504.9 2109.6 1504.4 2111.5 1503.8C2113.4 1503.2 2115.3 1502.6 2117.2 1502.1C2119.1 1501.5 2120.1 1501.2 2122.9 1500.3C2125.8 1499.5 2129.6 1498.1 2134.4 1496.9C2139.2 1495.8 2145.8 1494.5 2151.6 1493.5C2157.3 1492.4 2164.0 1491.4 2168.8 1490.6C2173.5 1489.8 2176.4 1489.5 2180.2 1488.9C2184.0 1488.3 2187.9 1487.7 2191.7 1487.2C2195.5 1486.6 2199.3 1486.0 2203.2 1485.4C2207.0 1484.9 2210.8 1484.0 2214.6 1483.7C2218.4 1483.4 2222.3 1483.3 2226.1 1483.7C2229.9 1484.1 2233.7 1485.0 2237.5 1486.0C2241.4 1487.1 2245.2 1488.7 2249.0 1490.0C2252.8 1491.4 2256.6 1492.9 2260.5 1494.0C2264.3 1495.2 2268.1 1496.1 2271.9 1496.9C2275.7 1497.7 2279.6 1498.1 2283.4 1498.6C2287.2 1499.1 2291.0 1499.5 2294.8 1499.8C2298.7 1500.1 2302.5 1500.2 2306.3 1500.3C2310.1 1500.5 2313.9 1500.5 2317.8 1500.9C2321.6 1501.3 2326.0 1502.3 2329.2 1502.6C2332.5 1503.0 2335.9 1503.1 2337.2 1503.2"/>
<path stroke="#B177DE" d="M238.0 1481.0C240.1 1480.8 246.7 1479.9 250.4 1479.8C254.2 1479.6 256.9 1480.3 260.3 1480.3C263.6 1480.2 267.0 1479.5 270.7 1479.3C274.4 1479.1 279.2 1479.3 282.4 1479.3C285.7 1479.2 286.9 1479.0 290.1 1479.1C293.2 1479.3 297.6 1479.7 301.3 1480.0C305.0 1480.3 309.1 1480.9 312.4 1480.8C315.7 1480.6 318.5 1479.3 321.3 1479.1C324.1 1478.8 326.3 1479.1 329.3 1479.3C332.3 1479.5 335.7 1480.4 339.4 1480.2C343.1 1480.1 348.1 1478.4 351.5 1478.5C355.0 1478.6 357.0 1480.7 359.9 1480.8C362.9 1481.0 366.6 1479.2 369.4 1479.2C372.2 1479.3 373.9 1480.7 376.7 1481.0C379.5 1481.3 383.2 1480.8 386.2 1480.9C389.2 1481.1 391.7 1481.7 394.7 1481.7C397.7 1481.7 401.4 1481.1 404.2 1480.9C407.0 1480.8 409.0 1481.3 411.5 1481.0C414.0 1480.8 416.4 1479.3 419.1 1479.2C421.8 1479.1 424.1 1480.0 427.6 1480.4C431.1 1480.9 434.1 1481.6 440.0 1481.7C445.9 1481.8 456.6 1480.9 462.9 1481.1C469.2 1481.3 472.1 1483.4 477.8 1482.8C483.6 1482.2 492.9 1478.0 497.3 1477.7C501.7 1477.3 501.9 1480.0 504.2 1480.5C506.5 1481.0 508.6 1481.3 511.1 1480.5C513.5 1479.8 516.2 1477.8 519.1 1475.9C521.9 1474.0 525.0 1471.7 528.3 1469.1C531.5 1466.4 535.3 1463.2 538.6 1459.9C541.8 1456.5 544.9 1452.7 547.7 1449.0C550.6 1445.3 553.3 1441.5 555.8 1437.5C558.2 1433.5 560.5 1429.3 562.6 1424.9C564.7 1420.5 566.6 1415.6 568.4 1411.2C570.1 1406.8 571.5 1403.5 573.0 1398.6C574.4 1393.6 576.1 1386.9 577.3 1381.4C578.5 1375.8 579.1 1371.1 580.1 1365.3C581.0 1359.6 582.1 1352.9 582.8 1347.0C583.5 1341.1 584.0 1335.5 584.4 1329.8C584.9 1324.1 585.2 1317.6 585.6 1312.6C585.9 1307.6 586.2 1308.7 586.5 1300.0C586.8 1291.3 586.8 1274.7 587.4 1260.5C588.1 1246.2 589.3 1231.8 590.1 1214.6C590.9 1197.4 591.5 1176.4 592.1 1157.3C592.8 1138.2 593.2 1122.3 593.8 1100.0C594.3 1077.7 594.9 1047.8 595.5 1023.6C596.2 999.4 596.9 979.1 597.6 954.8C598.4 930.4 599.2 903.2 600.0 877.4C600.8 851.6 602.2 817.9 602.6 800.0C603.0 782.1 602.4 781.6 602.7 770.0C602.9 758.4 603.6 744.7 604.0 730.5C604.5 716.2 605.0 699.9 605.5 684.6C606.0 669.3 606.6 652.1 607.0 638.8C607.4 625.4 607.7 615.8 608.1 604.4C608.4 592.9 608.5 584.5 609.0 570.0C609.4 555.5 610.0 533.9 610.7 517.5C611.4 501.2 612.1 485.1 613.0 471.7C613.8 458.3 615.1 444.9 615.8 437.3C616.6 429.7 616.7 433.5 617.2 425.8C617.7 418.2 618.0 398.7 618.7 391.5C619.4 384.2 620.5 385.0 621.6 382.6C622.6 380.1 623.9 378.3 625.0 376.8C626.2 375.3 627.3 374.2 628.5 373.4C629.6 372.5 630.7 371.7 631.9 371.7C633.0 371.7 634.5 372.3 635.3 373.4C636.2 374.4 636.1 375.1 637.0 378.0C638.0 380.8 639.8 388.3 641.1 390.3C642.3 392.4 643.4 389.6 644.5 390.3C645.6 391.1 647.0 393.7 647.9 394.9C648.9 396.1 649.5 397.6 650.2 397.8C651.0 398.0 651.7 397.3 652.5 396.0C653.4 394.8 654.4 391.8 655.4 390.3C656.3 388.8 657.2 388.0 658.3 386.9C659.3 385.7 660.5 383.6 661.7 383.4C662.8 383.2 664.1 385.9 665.1 385.7C666.2 385.5 667.2 384.0 668.0 382.3C668.8 380.6 668.9 379.5 669.7 375.7C670.6 371.9 672.2 364.2 673.2 359.6C674.1 355.0 674.7 352.4 675.4 348.2C676.2 344.0 677.0 339.0 677.7 334.4C678.5 329.8 679.3 325.2 680.0 320.7C680.8 316.1 681.6 311.1 682.3 306.9C683.1 302.7 683.8 298.9 684.6 295.4C685.4 292.0 686.0 289.1 686.9 286.3C687.8 283.4 688.8 280.5 689.8 278.3C690.7 276.0 691.7 273.9 692.6 272.5C693.6 271.2 694.6 270.0 695.5 270.2C696.4 270.4 697.1 271.8 697.8 273.7C698.5 275.6 699.0 278.4 699.5 281.7C700.0 284.9 700.3 289.3 700.7 293.2C701.0 297.0 701.4 300.4 701.8 304.6C702.2 308.8 702.6 313.6 703.0 318.4C703.3 323.1 703.7 327.9 704.1 333.3C704.5 338.6 704.9 344.7 705.2 350.5C705.6 356.2 706.0 362.9 706.4 367.7C706.7 372.4 707.0 375.1 707.3 379.1C707.6 383.1 707.7 383.7 708.1 391.5C708.5 399.3 709.3 414.4 709.8 425.8C710.3 437.3 710.8 448.8 711.2 460.2C711.6 471.7 712.0 483.2 712.5 494.6C712.9 506.1 713.3 514.8 713.8 529.0C714.4 543.2 715.1 561.7 715.6 580.0C716.0 598.3 716.0 621.3 716.5 638.8C716.9 656.2 717.6 669.3 718.2 684.6C718.8 699.9 719.4 716.2 719.9 730.5C720.4 744.7 720.3 745.5 721.3 770.0C722.3 794.5 724.4 846.6 725.7 877.4C727.0 908.2 728.5 934.3 729.2 954.8C729.8 975.2 729.1 984.8 729.6 1000.0C730.1 1015.2 731.3 1030.6 732.1 1045.8C732.9 1061.1 733.7 1076.4 734.6 1091.7C735.6 1107.0 736.7 1122.3 737.8 1137.5C738.9 1152.8 740.3 1173.0 741.3 1183.4C742.2 1193.8 742.6 1191.5 743.6 1200.0C744.5 1208.5 745.9 1222.9 747.0 1234.4C748.0 1245.8 749.0 1258.3 749.9 1268.8C750.7 1279.3 751.5 1289.8 752.1 1297.4C752.8 1305.1 753.0 1307.9 753.9 1314.6C754.7 1321.3 756.0 1329.9 757.3 1337.5C758.6 1345.2 760.4 1352.8 761.9 1360.5C763.4 1368.1 765.1 1378.5 766.5 1383.4C767.8 1388.3 768.8 1386.0 769.9 1390.0C771.1 1394.0 772.2 1401.8 773.4 1407.2C774.5 1412.5 775.6 1417.7 776.8 1422.1C777.9 1426.5 779.1 1430.1 780.2 1433.6C781.4 1437.0 782.5 1440.0 783.7 1442.7C784.8 1445.4 785.8 1447.8 787.1 1449.6C788.4 1451.4 790.2 1452.8 791.7 1453.6C793.2 1454.4 794.9 1453.7 796.3 1454.2C797.6 1454.7 798.8 1454.9 799.7 1456.5C800.7 1458.0 801.2 1460.7 802.0 1463.4C802.8 1466.0 803.5 1469.5 804.3 1472.5C805.1 1475.6 805.8 1478.6 806.6 1481.7C807.4 1484.7 808.1 1487.8 808.9 1490.9C809.6 1493.9 810.4 1497.4 811.2 1500.0C811.9 1502.7 812.5 1504.8 813.5 1506.9C814.4 1509.0 815.8 1511.4 816.9 1512.6C818.1 1513.9 819.2 1514.3 820.3 1514.4C821.5 1514.5 822.8 1514.3 823.8 1513.2C824.7 1512.2 825.4 1510.2 826.1 1508.1C826.7 1505.9 827.3 1502.9 827.8 1500.0C828.3 1497.2 828.6 1494.3 828.9 1490.9C829.3 1487.4 829.8 1483.8 830.1 1479.4C830.4 1475.0 830.6 1469.8 830.9 1464.5C831.2 1459.1 831.4 1454.0 831.7 1447.3C831.9 1440.6 832.2 1431.1 832.4 1424.4C832.6 1417.7 832.5 1417.8 833.0 1407.2C833.4 1396.5 834.2 1372.1 834.9 1360.5C835.6 1348.8 836.4 1345.2 837.0 1337.5C837.6 1329.9 837.9 1322.3 838.5 1314.6C839.0 1307.0 839.6 1299.3 840.2 1291.7C840.7 1284.0 841.3 1276.4 841.8 1268.8C842.3 1261.1 842.8 1253.5 843.3 1245.8C843.7 1238.2 844.2 1230.6 844.6 1222.9C845.1 1215.3 845.2 1208.5 845.9 1200.0C846.6 1191.5 847.7 1180.4 848.7 1171.9C849.6 1163.4 850.5 1156.6 851.4 1149.0C852.3 1141.4 853.1 1133.7 854.3 1126.1C855.4 1118.4 856.1 1112.7 858.2 1103.2C860.2 1093.6 864.5 1077.6 866.5 1069.0C868.4 1060.4 868.8 1057.5 869.9 1051.8C871.1 1046.1 872.2 1040.2 873.4 1034.6C874.5 1029.1 875.6 1023.5 876.8 1018.6C877.9 1013.6 879.1 1009.0 880.2 1004.8C881.4 1000.6 882.5 996.8 883.7 993.4C884.8 989.9 886.0 986.7 887.1 984.2C888.3 981.7 889.4 979.7 890.5 978.5C891.7 977.2 892.8 976.7 894.0 976.7C895.1 976.7 896.3 977.8 897.4 978.5C898.6 979.1 899.7 980.4 900.9 980.7C902.0 981.1 903.2 980.8 904.3 980.7C905.4 980.6 906.6 979.9 907.7 980.2C908.9 980.5 910.2 981.0 911.2 982.5C912.1 983.9 912.7 986.2 913.5 988.8C914.2 991.3 915.0 994.9 915.8 997.9C916.5 1001.0 917.2 1003.9 918.1 1007.1C918.9 1010.4 919.9 1014.2 920.9 1017.4C922.0 1020.7 923.2 1023.7 924.4 1026.6C925.5 1029.5 926.6 1032.1 927.8 1034.6C928.9 1037.1 930.1 1039.4 931.2 1041.5C932.4 1043.6 933.6 1045.1 934.7 1047.2C935.7 1049.3 936.6 1051.4 937.5 1054.1C938.5 1056.8 939.4 1059.8 940.4 1063.3C941.4 1066.7 942.4 1070.9 943.3 1074.7C944.1 1078.5 944.8 1082.2 945.6 1086.2C946.3 1090.2 946.8 1094.6 947.9 1098.8C948.9 1103.0 950.9 1107.4 951.8 1111.5C952.7 1115.5 952.8 1119.1 953.3 1122.9C953.8 1126.7 954.3 1130.6 954.7 1134.4C955.1 1138.2 955.5 1142.0 955.8 1145.8C956.2 1149.7 956.4 1153.5 956.7 1157.3C957.0 1161.1 957.2 1164.9 957.5 1168.8C957.8 1172.6 958.1 1176.4 958.5 1180.2C958.8 1184.0 959.2 1187.9 959.6 1191.7C960.0 1195.5 960.4 1199.3 960.7 1203.2C961.1 1207.0 961.5 1210.8 961.9 1214.6C962.2 1218.4 962.5 1222.3 962.8 1226.1C963.1 1229.9 963.4 1233.7 963.7 1237.5C964.0 1241.4 964.3 1244.2 964.6 1249.0C965.0 1253.8 965.5 1260.5 966.0 1266.2C966.5 1271.9 967.1 1279.4 967.6 1283.4C968.1 1287.3 968.5 1286.0 969.1 1290.0C969.7 1294.0 970.5 1301.5 971.3 1307.2C972.1 1312.9 973.0 1318.7 973.9 1324.4C974.8 1330.1 975.7 1336.2 976.8 1341.6C977.8 1346.9 979.3 1352.5 980.2 1356.5C981.2 1360.5 981.4 1362.6 982.5 1365.6C983.7 1368.7 985.6 1372.1 987.1 1374.8C988.6 1377.5 990.2 1379.6 991.7 1381.7C993.2 1383.8 994.7 1385.5 996.3 1387.4C997.8 1389.3 999.3 1391.2 1000.9 1393.2C1002.4 1395.1 1004.1 1397.4 1005.4 1398.9C1006.8 1400.4 1007.5 1400.6 1008.9 1402.3C1010.2 1404.0 1011.9 1406.5 1013.5 1409.2C1015.0 1411.9 1016.7 1415.3 1018.1 1418.4C1019.4 1421.4 1020.3 1424.5 1021.5 1427.5C1022.6 1430.6 1023.8 1433.8 1024.9 1436.7C1026.1 1439.6 1027.0 1441.9 1028.4 1444.7C1029.7 1447.6 1031.4 1450.8 1033.0 1453.9C1034.5 1457.0 1035.8 1460.0 1037.5 1463.1C1039.3 1466.1 1041.4 1470.3 1043.3 1472.2C1045.2 1474.1 1047.3 1474.0 1049.0 1474.5C1050.7 1475.0 1052.1 1475.3 1053.6 1475.1C1055.1 1474.9 1056.6 1474.4 1058.2 1473.4C1059.7 1472.3 1061.4 1470.7 1062.8 1468.8C1064.1 1466.9 1065.0 1465.0 1066.2 1461.9C1067.3 1458.9 1068.7 1454.7 1069.6 1450.5C1070.6 1446.3 1071.2 1441.5 1071.9 1436.7C1072.7 1431.9 1073.4 1427.2 1074.2 1421.8C1075.0 1416.5 1075.8 1410.3 1076.5 1404.6C1077.2 1398.9 1077.7 1393.2 1078.2 1387.4C1078.7 1381.7 1078.9 1375.8 1079.4 1370.2C1079.8 1364.7 1080.2 1359.5 1081.1 1354.2C1081.9 1348.8 1083.6 1342.2 1084.5 1338.1C1085.5 1334.0 1085.9 1332.7 1086.9 1329.6C1087.8 1326.5 1089.2 1322.1 1090.3 1319.3C1091.5 1316.4 1092.4 1314.3 1093.8 1312.4C1095.1 1310.5 1096.8 1309.0 1098.3 1307.8C1099.9 1306.7 1101.2 1306.2 1102.9 1305.5C1104.6 1304.9 1106.9 1304.4 1108.7 1303.8C1110.4 1303.2 1111.9 1302.0 1113.2 1302.1C1114.6 1302.2 1115.5 1303.0 1116.7 1304.4C1117.8 1305.7 1119.0 1307.8 1120.1 1310.1C1121.3 1312.4 1122.4 1315.5 1123.6 1318.1C1124.7 1320.8 1125.8 1323.5 1127.0 1326.2C1128.1 1328.8 1129.1 1331.5 1130.4 1334.2C1131.8 1336.9 1133.5 1339.5 1135.0 1342.2C1136.5 1344.9 1138.1 1347.9 1139.6 1350.2C1141.1 1352.5 1142.7 1354.0 1144.2 1356.0C1145.7 1357.9 1147.2 1359.8 1148.8 1361.7C1150.3 1363.6 1151.8 1365.5 1153.4 1367.4C1154.9 1369.3 1156.4 1371.2 1157.9 1373.2C1159.5 1375.1 1161.0 1377.2 1162.5 1378.9C1164.0 1380.6 1165.6 1382.5 1167.1 1383.5C1168.6 1384.4 1170.0 1384.2 1171.7 1384.6C1173.4 1385.0 1175.5 1385.5 1177.4 1385.8C1179.3 1386.0 1181.4 1385.6 1183.2 1386.3C1184.9 1387.1 1186.4 1388.7 1187.7 1390.3C1189.1 1392.0 1190.0 1394.0 1191.2 1396.1C1192.3 1398.2 1193.5 1400.7 1194.6 1403.0C1195.8 1405.2 1196.9 1407.3 1198.1 1409.8C1199.2 1412.3 1200.3 1415.6 1201.5 1417.9C1202.6 1420.1 1203.6 1421.3 1204.9 1423.6C1206.3 1425.9 1208.0 1429.5 1209.5 1431.6C1211.0 1433.7 1212.4 1435.0 1214.1 1436.2C1215.8 1437.3 1217.7 1438.1 1219.8 1438.5C1221.9 1438.9 1224.4 1438.7 1226.7 1438.5C1229.0 1438.3 1231.5 1438.2 1233.6 1437.3C1235.7 1436.5 1237.4 1434.9 1239.3 1433.3C1241.2 1431.7 1243.1 1429.9 1245.0 1427.6C1247.0 1425.3 1248.9 1422.6 1250.8 1419.6C1252.7 1416.5 1254.6 1412.6 1256.5 1409.3C1258.4 1405.9 1260.3 1402.5 1262.2 1399.5C1264.1 1396.6 1266.2 1393.8 1268.0 1391.5C1269.7 1389.2 1270.8 1388.1 1272.6 1385.8C1274.3 1383.5 1276.4 1380.2 1278.3 1377.7C1280.2 1375.3 1282.1 1373.2 1284.0 1370.9C1285.9 1368.6 1287.8 1366.3 1289.7 1364.0C1291.7 1361.7 1293.6 1359.2 1295.5 1357.1C1297.4 1355.0 1299.3 1353.1 1301.2 1351.4C1303.1 1349.7 1305.0 1348.3 1306.9 1346.8C1308.8 1345.3 1310.5 1343.5 1312.7 1342.2C1314.8 1340.9 1318.3 1339.3 1320.0 1338.8C1321.7 1338.2 1321.8 1338.7 1322.9 1338.8C1324.1 1338.9 1325.8 1338.4 1326.9 1339.3C1328.1 1340.3 1328.8 1342.3 1329.8 1344.5C1330.8 1346.7 1331.7 1349.7 1332.7 1352.5C1333.6 1355.4 1334.5 1358.8 1335.5 1361.7C1336.6 1364.6 1337.8 1367.2 1339.0 1369.7C1340.1 1372.2 1341.3 1374.3 1342.4 1376.6C1343.6 1378.9 1344.7 1381.2 1345.8 1383.5C1347.0 1385.8 1348.1 1388.1 1349.3 1390.3C1350.4 1392.6 1351.6 1394.9 1352.7 1397.2C1353.9 1399.5 1354.8 1401.7 1356.2 1404.1C1357.5 1406.5 1359.2 1409.4 1360.7 1411.5C1362.3 1413.7 1363.8 1415.6 1365.3 1417.3C1366.9 1419.0 1368.4 1420.3 1369.9 1421.9C1371.4 1423.4 1373.0 1425.1 1374.5 1426.4C1376.0 1427.8 1377.6 1428.7 1379.1 1429.9C1380.6 1431.0 1382.1 1432.2 1383.7 1433.3C1385.2 1434.5 1386.7 1435.8 1388.3 1436.8C1389.8 1437.7 1391.3 1438.3 1392.8 1439.1C1394.4 1439.8 1395.9 1440.6 1397.4 1441.3C1398.9 1442.1 1400.5 1442.8 1402.0 1443.6C1403.5 1444.5 1405.1 1445.5 1406.6 1446.5C1408.1 1447.6 1409.6 1448.8 1411.2 1449.9C1412.7 1451.1 1414.2 1452.2 1415.8 1453.4C1417.3 1454.5 1418.8 1455.7 1420.3 1456.8C1421.9 1458.0 1423.4 1459.1 1424.9 1460.3C1426.5 1461.4 1428.0 1462.3 1429.5 1463.7C1431.0 1465.1 1432.8 1467.7 1434.1 1468.9C1435.4 1470.0 1435.7 1469.2 1437.2 1470.9C1438.7 1472.5 1440.8 1476.4 1442.9 1478.9C1445.0 1481.4 1447.5 1484.2 1449.8 1485.8C1452.1 1487.3 1454.6 1488.0 1456.7 1488.1C1458.8 1488.1 1460.5 1487.5 1462.4 1486.3C1464.3 1485.2 1466.2 1483.2 1468.1 1481.2C1470.0 1479.2 1472.0 1476.6 1473.9 1474.3C1475.8 1472.0 1477.7 1469.7 1479.6 1467.4C1481.5 1465.1 1483.4 1463.0 1485.3 1460.5C1487.2 1458.1 1489.3 1455.2 1491.1 1452.5C1492.8 1449.8 1494.1 1446.8 1495.6 1444.5C1497.2 1442.2 1498.5 1440.5 1500.2 1438.8C1501.9 1437.0 1504.0 1435.7 1506.0 1434.2C1507.9 1432.7 1509.8 1431.0 1511.7 1429.6C1513.6 1428.2 1515.5 1426.9 1517.4 1425.6C1519.3 1424.3 1521.2 1422.6 1523.2 1421.6C1525.1 1420.5 1527.0 1419.9 1528.9 1419.3C1530.8 1418.7 1532.7 1418.4 1534.6 1418.1C1536.5 1417.9 1538.4 1417.6 1540.3 1417.6C1542.3 1417.6 1544.2 1418.0 1546.1 1418.1C1548.0 1418.2 1549.9 1418.3 1551.8 1418.1C1553.7 1417.9 1555.6 1417.4 1557.5 1417.0C1559.4 1416.6 1561.4 1415.9 1563.3 1415.8C1565.2 1415.7 1567.1 1416.2 1569.0 1416.4C1570.9 1416.6 1572.8 1416.7 1574.7 1417.0C1576.6 1417.3 1578.5 1417.5 1580.5 1418.1C1582.4 1418.8 1584.3 1419.9 1586.2 1421.0C1588.1 1422.1 1590.0 1423.8 1591.9 1425.0C1593.8 1426.3 1595.7 1427.4 1597.7 1428.5C1599.6 1429.5 1601.5 1430.2 1603.4 1431.3C1605.3 1432.5 1607.2 1433.7 1609.1 1435.3C1611.0 1437.0 1612.9 1439.2 1614.8 1441.1C1616.8 1442.9 1618.7 1444.5 1620.6 1446.2C1622.5 1447.9 1624.4 1449.6 1626.3 1451.4C1628.2 1453.2 1630.1 1455.0 1632.0 1457.1C1633.9 1459.2 1635.9 1461.5 1637.8 1464.0C1639.7 1466.5 1641.6 1468.8 1643.5 1472.0C1645.4 1475.3 1646.9 1478.5 1649.2 1483.5C1651.5 1488.5 1654.9 1497.4 1657.2 1501.9C1659.5 1506.5 1661.0 1507.8 1662.9 1510.5C1664.8 1513.3 1666.7 1516.1 1668.7 1518.6C1670.6 1521.1 1672.5 1523.2 1674.4 1525.4C1676.3 1527.6 1678.2 1529.9 1680.1 1531.7C1682.0 1533.6 1683.9 1534.9 1685.8 1536.3C1687.8 1537.8 1689.7 1539.2 1691.6 1540.3C1693.5 1541.5 1695.4 1542.3 1697.3 1543.2C1699.2 1544.1 1701.1 1544.8 1703.0 1545.5C1704.9 1546.2 1705.9 1546.7 1708.8 1547.4C1711.6 1548.2 1716.4 1549.0 1720.2 1550.1C1724.0 1551.2 1727.9 1552.5 1731.7 1554.1C1735.5 1555.7 1740.3 1558.1 1743.2 1559.8C1746.0 1561.5 1747.0 1563.3 1748.9 1564.4C1750.8 1565.6 1752.7 1566.2 1754.6 1566.7C1756.5 1567.2 1758.4 1567.5 1760.3 1567.3C1762.3 1567.1 1764.2 1566.2 1766.1 1565.6C1768.0 1564.9 1769.9 1563.9 1771.8 1563.3C1773.7 1562.6 1775.6 1562.2 1777.5 1561.5C1779.4 1560.9 1781.4 1560.1 1783.3 1559.3C1785.2 1558.4 1787.1 1557.4 1789.0 1556.4C1790.9 1555.3 1792.8 1554.1 1794.7 1553.0C1796.6 1551.8 1798.5 1550.6 1800.5 1549.5C1802.4 1548.5 1804.3 1547.6 1806.2 1546.6C1808.1 1545.7 1810.0 1544.6 1811.9 1543.8C1813.8 1542.9 1815.7 1542.0 1817.7 1541.5C1819.6 1541.0 1820.5 1541.0 1823.4 1540.9C1826.2 1540.8 1831.0 1540.9 1834.8 1540.9C1838.7 1541.0 1842.5 1541.5 1846.3 1541.3C1850.1 1541.1 1853.9 1540.4 1857.8 1539.8C1861.6 1539.1 1865.5 1538.5 1869.2 1537.5C1872.9 1536.4 1877.3 1534.7 1880.0 1533.5C1882.7 1532.2 1883.2 1530.9 1885.2 1530.1C1887.2 1529.2 1889.8 1529.1 1892.1 1528.4C1894.4 1527.6 1896.7 1526.4 1899.0 1525.5C1901.3 1524.6 1903.7 1524.0 1905.8 1523.2C1907.9 1522.4 1909.7 1521.7 1911.6 1520.9C1913.5 1520.2 1915.2 1519.3 1917.3 1518.6C1919.4 1518.0 1921.5 1517.3 1924.2 1516.9C1926.9 1516.5 1930.7 1516.5 1933.4 1516.3C1936.0 1516.1 1937.2 1515.8 1940.2 1515.8C1943.3 1515.8 1947.9 1515.9 1951.7 1516.3C1955.5 1516.8 1959.3 1518.1 1963.2 1518.6C1967.0 1519.2 1971.7 1519.6 1974.6 1519.8C1977.5 1520.0 1978.4 1519.9 1980.3 1519.8C1982.3 1519.7 1984.2 1519.6 1986.1 1519.2C1988.0 1518.8 1989.9 1518.1 1991.8 1517.5C1993.7 1516.9 1995.6 1516.3 1997.5 1515.8C1999.4 1515.2 2001.4 1514.6 2003.3 1514.0C2005.2 1513.5 2007.1 1512.9 2009.0 1512.3C2010.9 1511.7 2012.8 1511.1 2014.7 1510.6C2016.6 1510.1 2018.7 1509.6 2020.5 1509.5C2022.2 1509.4 2023.1 1510.0 2025.0 1510.0C2027.0 1510.0 2028.9 1509.5 2031.9 1509.5C2035.0 1509.5 2039.6 1509.6 2043.4 1510.0C2047.2 1510.4 2051.0 1511.3 2054.8 1511.7C2058.7 1512.2 2063.4 1512.7 2066.3 1512.9C2069.2 1513.1 2070.1 1513.0 2072.0 1512.9C2073.9 1512.8 2075.9 1512.4 2077.8 1512.1C2079.7 1511.8 2081.6 1511.7 2083.5 1511.2C2085.4 1510.6 2087.3 1509.5 2089.2 1508.9C2091.1 1508.3 2093.2 1508.1 2095.0 1507.7C2096.8 1507.4 2097.2 1507.4 2100.0 1506.6C2102.8 1505.7 2107.6 1503.9 2111.5 1502.6C2115.3 1501.4 2119.1 1500.2 2122.9 1499.2C2126.7 1498.1 2130.6 1497.2 2134.4 1496.3C2138.2 1495.5 2142.0 1494.9 2145.8 1494.0C2149.7 1493.2 2153.5 1491.9 2157.3 1491.2C2161.1 1490.4 2164.9 1490.0 2168.8 1489.5C2172.6 1488.9 2176.4 1488.3 2180.2 1487.7C2184.0 1487.2 2188.8 1486.6 2191.7 1486.0C2194.6 1485.4 2195.5 1484.5 2197.4 1484.3C2199.3 1484.1 2200.3 1485.1 2203.2 1484.9C2206.0 1484.7 2210.8 1483.4 2214.6 1483.2C2218.4 1482.9 2222.3 1482.8 2226.1 1483.2C2229.9 1483.5 2233.7 1484.5 2237.5 1485.4C2241.4 1486.4 2246.1 1487.8 2249.0 1488.9C2251.9 1489.9 2251.9 1490.8 2254.7 1491.7C2257.6 1492.7 2262.4 1493.8 2266.2 1494.6C2270.0 1495.5 2273.8 1496.3 2277.7 1496.9C2281.5 1497.5 2285.3 1497.7 2289.1 1498.1C2292.9 1498.4 2296.8 1498.9 2300.6 1499.2C2304.4 1499.5 2308.2 1499.5 2312.0 1499.8C2315.9 1500.1 2319.3 1500.5 2323.5 1500.9C2327.7 1501.3 2335.0 1501.9 2337.2 1502.1"/>
<path stroke="#CC9900" d="M238.0 1481.6C239.2 1482.0 242.1 1484.0 245.0 1484.2C248.0 1484.3 252.4 1483.3 255.7 1482.6C258.9 1481.9 260.9 1479.9 264.5 1480.1C268.0 1480.2 273.6 1483.1 277.0 1483.4C280.4 1483.7 281.9 1482.1 284.9 1482.0C287.9 1481.9 291.5 1482.4 295.1 1482.6C298.6 1482.8 302.3 1483.6 306.1 1483.2C310.0 1482.9 314.4 1481.0 318.0 1480.7C321.5 1480.5 324.5 1481.7 327.5 1481.6C330.6 1481.4 332.8 1479.8 336.2 1480.0C339.5 1480.2 344.0 1482.2 347.5 1482.8C350.9 1483.3 353.8 1483.8 357.0 1483.4C360.1 1482.9 362.9 1480.4 366.3 1480.2C369.7 1480.0 373.9 1482.1 377.5 1482.1C381.1 1482.1 384.4 1480.0 387.8 1480.2C391.1 1480.5 394.0 1483.4 397.6 1483.7C401.3 1484.1 406.5 1482.2 409.8 1482.1C413.2 1481.9 414.4 1482.4 417.8 1482.7C421.2 1483.0 426.6 1483.6 430.3 1483.7C434.0 1483.8 434.6 1483.6 440.0 1483.4C445.4 1483.1 456.6 1482.2 462.9 1482.2C469.2 1482.2 472.1 1484.3 477.8 1483.4C483.6 1482.4 492.9 1477.3 497.3 1476.5C501.7 1475.7 501.9 1478.5 504.2 1478.8C506.5 1479.1 508.8 1479.0 511.1 1478.2C513.4 1477.5 515.3 1476.0 517.9 1474.2C520.6 1472.4 523.9 1470.0 527.1 1467.3C530.4 1464.7 534.2 1461.4 537.4 1458.2C540.7 1454.9 543.7 1451.5 546.6 1447.9C549.5 1444.2 552.1 1440.4 554.6 1436.4C557.1 1432.4 559.4 1428.2 561.5 1423.8C563.6 1419.4 565.5 1414.4 567.2 1410.0C568.9 1405.6 570.3 1402.4 571.8 1397.4C573.3 1392.5 575.1 1385.8 576.4 1380.2C577.6 1374.7 578.3 1369.9 579.3 1364.2C580.2 1358.5 581.4 1351.8 582.1 1345.8C582.9 1339.9 583.4 1334.4 583.8 1328.7C584.3 1322.9 584.7 1316.2 585.0 1311.5C585.3 1306.7 585.5 1308.5 585.8 1300.0C586.1 1291.5 586.3 1274.7 587.0 1260.5C587.7 1246.2 589.1 1231.8 590.0 1214.6C590.8 1197.4 591.4 1176.4 592.0 1157.3C592.6 1138.2 593.0 1122.3 593.6 1100.0C594.3 1077.7 595.0 1047.8 595.7 1023.6C596.5 999.4 597.3 979.1 598.1 954.8C599.0 930.4 599.8 903.2 600.7 877.4C601.6 851.6 602.8 817.9 603.3 800.0C603.7 782.1 603.1 781.6 603.3 770.0C603.5 758.4 604.0 744.7 604.5 730.5C605.0 716.2 605.7 699.9 606.3 684.6C606.9 669.3 607.6 652.1 608.2 638.8C608.7 625.4 609.2 615.8 609.5 604.4C609.9 592.9 609.6 578.7 610.5 570.0C611.4 561.3 613.9 558.8 614.9 551.9C616.0 545.1 616.1 535.7 616.8 529.0C617.4 522.3 618.1 516.6 618.7 511.8C619.3 507.0 619.9 504.2 620.4 500.3C621.0 496.5 621.6 493.7 622.1 488.9C622.7 484.1 623.2 476.8 623.9 471.7C624.5 466.5 625.4 461.8 626.2 457.9C626.9 454.1 627.6 451.6 628.5 448.8C629.3 445.9 630.4 442.6 631.3 440.7C632.3 438.9 633.1 438.2 634.2 437.9C635.2 437.6 636.5 438.5 637.6 439.0C638.8 439.6 639.9 440.7 641.1 441.3C642.2 441.9 643.4 442.6 644.5 442.5C645.6 442.4 647.0 441.8 647.9 440.7C648.9 439.7 649.1 437.3 650.2 436.2C651.4 435.1 653.3 434.6 654.8 434.1C656.3 433.6 658.1 433.9 659.4 433.3C660.7 432.7 661.9 432.6 662.8 430.4C663.8 428.2 664.3 423.0 665.1 420.1C666.0 417.2 667.0 415.5 668.0 413.2C668.9 410.9 669.9 408.8 670.9 406.4C671.8 403.9 672.8 401.2 673.7 398.3C674.7 395.5 675.9 393.3 676.6 389.2C677.3 385.0 677.2 378.5 677.7 373.4C678.3 368.3 679.2 363.1 680.0 358.5C680.9 353.9 681.9 349.5 682.9 345.9C683.8 342.2 684.8 339.8 685.8 336.7C686.7 333.6 687.7 330.0 688.6 327.5C689.6 325.1 690.5 323.0 691.5 321.8C692.4 320.7 693.5 320.3 694.4 320.7C695.2 321.0 696.0 322.0 696.6 324.1C697.3 326.2 697.8 329.6 698.4 333.3C698.9 336.9 699.5 341.1 700.1 345.9C700.7 350.6 701.2 356.4 701.8 361.9C702.4 367.5 703.0 374.2 703.5 379.1C704.1 384.0 704.7 385.6 705.2 391.5C705.8 397.3 706.1 406.7 706.6 414.4C707.1 422.0 707.6 429.7 708.1 437.3C708.6 444.9 709.1 452.6 709.6 460.2C710.1 467.9 710.6 475.5 711.0 483.2C711.4 490.8 711.7 498.4 712.1 506.1C712.5 513.7 712.9 521.4 713.3 529.0C713.6 536.6 713.9 543.4 714.2 551.9C714.5 560.4 714.7 565.5 715.0 580.0C715.3 594.5 715.5 621.3 715.9 638.8C716.3 656.2 717.0 669.3 717.5 684.6C718.0 699.9 718.5 716.2 719.0 730.5C719.5 744.7 719.3 745.5 720.4 770.0C721.4 794.5 724.0 846.6 725.4 877.4C726.8 908.2 728.0 934.3 728.8 954.8C729.6 975.2 729.3 984.8 730.0 1000.0C730.7 1015.2 732.1 1030.6 733.0 1045.8C733.9 1061.1 734.6 1076.4 735.5 1091.7C736.5 1107.0 737.7 1122.3 738.7 1137.5C739.8 1152.8 741.0 1173.0 741.8 1183.4C742.6 1193.8 742.6 1191.5 743.6 1200.0C744.5 1208.5 746.3 1222.9 747.6 1234.4C748.8 1245.8 749.8 1258.3 751.0 1268.8C752.2 1279.3 753.7 1289.8 755.0 1297.4C756.4 1305.1 757.7 1307.9 759.0 1314.6C760.4 1321.3 761.6 1329.9 763.0 1337.5C764.5 1345.2 766.1 1352.8 767.6 1360.5C769.1 1368.1 771.1 1378.5 772.2 1383.4C773.4 1388.3 773.5 1386.4 774.5 1390.0C775.5 1393.6 776.8 1400.1 777.9 1404.9C779.1 1409.7 780.2 1414.5 781.4 1418.7C782.5 1422.9 783.7 1426.9 784.8 1430.1C786.0 1433.4 787.1 1436.0 788.3 1438.1C789.4 1440.2 790.4 1441.6 791.7 1442.7C793.0 1443.9 794.9 1444.4 796.3 1445.0C797.6 1445.6 798.6 1445.2 799.7 1446.2C800.9 1447.1 802.2 1448.8 803.2 1450.7C804.1 1452.7 804.7 1455.1 805.4 1457.6C806.2 1460.1 807.0 1462.8 807.7 1465.6C808.5 1468.5 809.3 1471.9 810.0 1474.8C810.8 1477.7 811.6 1480.2 812.3 1482.8C813.1 1485.5 813.7 1488.2 814.6 1490.9C815.6 1493.5 817.1 1497.3 818.1 1498.9C819.0 1500.5 819.6 1501.2 820.3 1500.6C821.1 1500.0 821.9 1497.8 822.6 1495.4C823.4 1493.1 824.3 1489.7 824.9 1486.3C825.6 1482.8 826.1 1479.4 826.6 1474.8C827.2 1470.2 827.8 1464.3 828.4 1458.8C828.9 1453.2 829.6 1447.3 830.1 1441.6C830.6 1435.8 830.9 1430.1 831.2 1424.4C831.6 1418.7 831.9 1411.3 832.4 1407.2C832.9 1403.1 833.5 1407.8 834.3 1400.0C835.2 1392.2 836.4 1374.7 837.4 1360.5C838.5 1346.2 839.5 1329.9 840.5 1314.6C841.6 1299.3 842.7 1284.0 843.7 1268.8C844.8 1253.5 845.8 1234.4 846.8 1222.9C847.8 1211.5 848.6 1207.2 849.6 1200.0C850.5 1192.8 851.5 1186.5 852.4 1179.9C853.4 1173.4 854.3 1167.5 855.3 1160.5C856.4 1153.4 857.6 1144.2 858.7 1137.5C859.9 1130.9 860.9 1126.1 862.2 1120.3C863.4 1114.6 865.2 1111.7 866.2 1103.2C867.2 1094.6 867.2 1077.6 868.2 1069.0C869.2 1060.4 871.0 1057.2 872.2 1051.8C873.4 1046.5 874.5 1041.3 875.6 1036.9C876.8 1032.5 877.9 1028.9 879.1 1025.4C880.2 1022.0 881.4 1019.0 882.5 1016.3C883.7 1013.5 884.7 1010.6 886.0 1008.8C887.2 1007.0 888.6 1006.2 890.0 1005.4C891.3 1004.6 892.6 1004.5 894.0 1004.2C895.4 1004.0 897.0 1004.0 898.6 1003.9C900.1 1003.8 901.7 1003.6 903.2 1003.7C904.6 1003.7 905.9 1004.0 907.2 1004.2C908.4 1004.5 909.4 1004.3 910.6 1005.4C911.8 1006.4 913.6 1009.1 914.6 1010.5C915.7 1012.0 916.0 1012.3 916.9 1014.0C917.9 1015.7 919.2 1017.8 920.3 1020.9C921.5 1023.9 922.6 1028.7 923.8 1032.3C924.9 1036.0 926.1 1039.6 927.2 1042.6C928.4 1045.7 929.5 1048.2 930.7 1050.7C931.8 1053.1 933.0 1054.9 934.1 1057.5C935.2 1060.2 936.4 1063.3 937.5 1066.7C938.7 1070.1 939.9 1074.3 941.0 1078.2C942.0 1082.0 943.0 1085.8 943.8 1089.6C944.7 1093.4 945.3 1097.4 946.1 1101.1C947.0 1104.7 948.1 1107.8 948.9 1111.5C949.8 1115.1 950.6 1119.1 951.2 1122.9C951.9 1126.7 952.4 1130.6 953.0 1134.4C953.5 1138.2 954.2 1142.0 954.7 1145.8C955.1 1149.7 955.4 1153.5 955.8 1157.3C956.2 1161.1 956.6 1164.9 957.0 1168.8C957.3 1172.6 957.7 1176.4 958.1 1180.2C958.5 1184.0 958.9 1187.9 959.3 1191.7C959.6 1195.5 960.0 1199.3 960.4 1203.2C960.8 1207.0 961.2 1210.8 961.5 1214.6C961.9 1218.4 962.4 1222.3 962.7 1226.1C963.0 1229.9 963.2 1233.7 963.5 1237.5C963.8 1241.4 964.0 1244.2 964.4 1249.0C964.8 1253.8 965.3 1260.5 965.8 1266.2C966.3 1271.9 966.8 1279.4 967.4 1283.4C967.9 1287.3 968.5 1286.0 969.1 1290.0C969.7 1294.0 970.4 1301.5 971.1 1307.2C971.8 1312.9 972.5 1319.2 973.4 1324.4C974.2 1329.5 975.1 1333.9 976.2 1338.1C977.4 1342.3 978.8 1346.4 980.2 1349.6C981.7 1352.8 983.3 1355.1 984.8 1357.6C986.3 1360.1 987.9 1362.2 989.4 1364.5C990.9 1366.8 992.5 1368.9 994.0 1371.4C995.5 1373.9 997.0 1376.9 998.6 1379.4C1000.1 1381.9 1001.6 1384.2 1003.2 1386.3C1004.7 1388.4 1006.4 1389.9 1007.7 1392.0C1009.1 1394.1 1010.0 1396.4 1011.2 1398.9C1012.3 1401.4 1013.5 1404.0 1014.6 1406.9C1015.8 1409.8 1016.9 1413.0 1018.1 1416.1C1019.2 1419.1 1020.3 1422.2 1021.5 1425.2C1022.6 1428.3 1023.8 1431.7 1024.9 1434.4C1026.1 1437.1 1027.0 1438.6 1028.4 1441.3C1029.7 1444.0 1031.4 1447.6 1033.0 1450.5C1034.5 1453.3 1036.0 1456.4 1037.5 1458.5C1039.1 1460.6 1040.6 1462.0 1042.1 1463.1C1043.6 1464.1 1045.0 1464.4 1046.7 1464.8C1048.4 1465.2 1050.5 1465.5 1052.4 1465.4C1054.3 1465.2 1056.4 1464.6 1058.2 1463.6C1059.9 1462.7 1061.4 1461.4 1062.8 1459.6C1064.1 1457.8 1065.0 1455.6 1066.2 1452.8C1067.3 1449.9 1068.6 1446.3 1069.6 1442.4C1070.7 1438.6 1071.5 1434.4 1072.5 1429.8C1073.4 1425.2 1074.4 1419.9 1075.4 1414.9C1076.3 1410.0 1077.4 1405.0 1078.2 1400.0C1079.1 1395.1 1079.7 1390.1 1080.5 1385.1C1081.4 1380.2 1082.5 1374.6 1083.4 1370.2C1084.2 1365.8 1085.1 1364.0 1085.7 1358.8C1086.3 1353.5 1085.9 1344.0 1086.9 1338.8C1087.8 1333.5 1089.9 1330.5 1091.5 1327.3C1093.0 1324.2 1094.3 1322.0 1096.0 1319.9C1097.8 1317.8 1099.9 1315.9 1101.8 1314.7C1103.7 1313.5 1105.6 1312.8 1107.5 1312.4C1109.4 1312.1 1111.4 1312.0 1113.2 1312.6C1115.1 1313.3 1116.9 1314.7 1118.4 1316.4C1119.9 1318.1 1121.2 1320.3 1122.4 1322.7C1123.6 1325.1 1124.5 1328.1 1125.8 1330.7C1127.2 1333.4 1128.9 1336.3 1130.4 1338.8C1132.0 1341.3 1133.5 1343.4 1135.0 1345.6C1136.5 1347.9 1138.1 1350.4 1139.6 1352.5C1141.1 1354.6 1142.7 1356.2 1144.2 1358.3C1145.7 1360.4 1147.2 1362.8 1148.8 1365.1C1150.3 1367.4 1151.8 1369.8 1153.4 1372.0C1154.9 1374.2 1156.4 1376.4 1157.9 1378.3C1159.5 1380.2 1161.0 1382.2 1162.5 1383.5C1164.0 1384.7 1165.6 1385.3 1167.1 1385.8C1168.6 1386.2 1170.0 1386.1 1171.7 1386.3C1173.4 1386.5 1175.5 1386.6 1177.4 1386.9C1179.3 1387.2 1181.4 1387.3 1183.2 1388.1C1184.9 1388.8 1186.4 1390.0 1187.7 1391.5C1189.1 1393.0 1190.0 1395.3 1191.2 1397.2C1192.3 1399.1 1193.5 1400.9 1194.6 1403.0C1195.8 1405.0 1196.9 1407.0 1198.1 1409.3C1199.2 1411.5 1200.2 1413.9 1201.5 1416.7C1202.8 1419.5 1204.4 1423.2 1206.1 1425.9C1207.8 1428.5 1209.9 1431.3 1211.8 1432.8C1213.7 1434.2 1215.6 1434.4 1217.5 1434.5C1219.4 1434.6 1221.4 1433.9 1223.3 1433.3C1225.2 1432.8 1227.1 1431.8 1229.0 1431.0C1230.9 1430.3 1232.8 1429.7 1234.7 1428.7C1236.6 1427.8 1238.5 1426.7 1240.5 1425.3C1242.4 1423.9 1244.3 1422.1 1246.2 1420.1C1248.1 1418.1 1250.0 1415.9 1251.9 1413.3C1253.8 1410.6 1255.7 1407.0 1257.7 1404.1C1259.6 1401.2 1261.5 1398.7 1263.4 1396.1C1265.3 1393.4 1267.2 1390.7 1269.1 1388.1C1271.0 1385.4 1272.9 1382.5 1274.8 1380.0C1276.8 1377.5 1278.7 1375.1 1280.6 1373.2C1282.5 1371.2 1284.4 1370.1 1286.3 1368.6C1288.2 1367.0 1290.1 1365.5 1292.0 1364.0C1293.9 1362.5 1295.9 1360.9 1297.8 1359.4C1299.7 1357.9 1301.6 1356.3 1303.5 1354.8C1305.4 1353.3 1307.3 1351.9 1309.2 1350.2C1311.1 1348.5 1313.2 1346.0 1315.0 1344.5C1316.8 1343.0 1318.7 1342.0 1320.0 1341.1C1321.3 1340.1 1321.7 1339.1 1322.9 1338.8C1324.2 1338.4 1326.2 1338.2 1327.5 1338.8C1328.8 1339.3 1329.8 1340.7 1330.9 1342.2C1332.1 1343.7 1333.2 1345.6 1334.4 1347.9C1335.5 1350.2 1336.7 1353.5 1337.8 1356.0C1339.0 1358.4 1340.1 1360.5 1341.3 1362.8C1342.4 1365.1 1343.6 1367.2 1344.7 1369.7C1345.8 1372.2 1347.0 1375.1 1348.1 1377.7C1349.3 1380.4 1350.4 1383.1 1351.6 1385.8C1352.7 1388.4 1353.9 1391.3 1355.0 1393.8C1356.2 1396.3 1357.1 1398.4 1358.5 1400.7C1359.8 1403.0 1361.5 1405.4 1363.0 1407.5C1364.6 1409.6 1366.1 1411.5 1367.6 1413.3C1369.1 1415.0 1370.7 1416.3 1372.2 1417.9C1373.7 1419.4 1375.3 1421.1 1376.8 1422.4C1378.3 1423.8 1379.8 1424.7 1381.4 1425.9C1382.9 1427.0 1384.2 1428.4 1386.0 1429.3C1387.7 1430.3 1390.0 1430.8 1391.7 1431.6C1393.4 1432.4 1394.7 1432.9 1396.3 1433.9C1397.8 1434.9 1399.3 1436.4 1400.9 1437.3C1402.4 1438.3 1403.9 1438.9 1405.4 1439.6C1407.0 1440.4 1408.5 1441.0 1410.0 1441.9C1411.6 1442.9 1413.1 1444.4 1414.6 1445.4C1416.1 1446.3 1417.7 1446.7 1419.2 1447.7C1420.7 1448.6 1422.3 1449.8 1423.8 1451.1C1425.3 1452.4 1426.8 1454.1 1428.4 1455.7C1429.9 1457.2 1431.4 1458.7 1433.0 1460.3C1434.5 1461.8 1436.0 1463.2 1437.5 1464.8C1439.1 1466.5 1441.2 1469.0 1442.1 1470.0C1443.0 1471.0 1441.8 1470.0 1442.9 1470.9C1444.0 1471.7 1446.7 1473.9 1448.7 1474.9C1450.6 1475.8 1452.5 1476.4 1454.4 1476.6C1456.3 1476.8 1458.2 1476.6 1460.1 1476.0C1462.0 1475.4 1463.9 1474.2 1465.8 1473.2C1467.8 1472.1 1469.7 1471.0 1471.6 1469.7C1473.5 1468.5 1475.4 1467.2 1477.3 1465.7C1479.2 1464.2 1481.1 1462.4 1483.0 1460.5C1484.9 1458.7 1486.9 1456.9 1488.8 1454.8C1490.7 1452.7 1492.6 1450.2 1494.5 1447.9C1496.4 1445.6 1498.3 1443.2 1500.2 1441.1C1502.1 1439.0 1504.0 1437.0 1506.0 1435.3C1507.9 1433.6 1509.8 1432.2 1511.7 1430.7C1513.6 1429.3 1515.5 1428.1 1517.4 1426.7C1519.3 1425.4 1521.2 1423.8 1523.2 1422.7C1525.1 1421.7 1527.0 1421.0 1528.9 1420.4C1530.8 1419.9 1532.7 1419.7 1534.6 1419.3C1536.5 1418.9 1538.4 1418.3 1540.3 1418.1C1542.3 1417.9 1544.2 1418.0 1546.1 1418.1C1548.0 1418.2 1549.9 1418.7 1551.8 1418.7C1553.7 1418.7 1555.6 1418.4 1557.5 1418.1C1559.4 1417.9 1561.4 1417.0 1563.3 1417.0C1565.2 1417.0 1567.1 1417.9 1569.0 1418.1C1570.9 1418.4 1572.8 1418.3 1574.7 1418.7C1576.6 1419.1 1578.5 1419.8 1580.5 1420.4C1582.4 1421.1 1584.3 1421.8 1586.2 1422.7C1588.1 1423.7 1590.0 1425.0 1591.9 1426.2C1593.8 1427.3 1595.7 1428.6 1597.7 1429.6C1599.6 1430.6 1601.5 1430.7 1603.4 1431.9C1605.3 1433.0 1607.2 1434.9 1609.1 1436.5C1611.0 1438.0 1612.9 1439.7 1614.8 1441.1C1616.8 1442.4 1618.7 1443.4 1620.6 1444.5C1622.5 1445.6 1624.4 1446.4 1626.3 1447.9C1628.2 1449.5 1630.1 1451.6 1632.0 1453.7C1633.9 1455.8 1635.9 1458.1 1637.8 1460.5C1639.7 1463.0 1641.6 1465.3 1643.5 1468.6C1645.4 1471.8 1646.9 1474.8 1649.2 1480.0C1651.5 1485.3 1654.9 1495.5 1657.2 1500.2C1659.5 1504.9 1661.0 1505.6 1662.9 1508.3C1664.8 1510.9 1666.7 1513.8 1668.7 1516.3C1670.6 1518.8 1672.5 1521.1 1674.4 1523.2C1676.3 1525.3 1678.2 1527.2 1680.1 1528.9C1682.0 1530.6 1683.9 1531.9 1685.8 1533.5C1687.8 1535.0 1689.7 1536.7 1691.6 1538.1C1693.5 1539.4 1695.4 1540.5 1697.3 1541.5C1699.2 1542.4 1701.1 1543.0 1703.0 1543.8C1704.9 1544.5 1705.9 1545.2 1708.8 1546.1C1711.6 1546.9 1716.4 1547.9 1720.2 1548.9C1724.0 1550.0 1727.9 1550.9 1731.7 1552.4C1735.5 1553.8 1740.3 1556.1 1743.2 1557.5C1746.0 1559.0 1747.0 1559.9 1748.9 1561.0C1750.8 1562.0 1752.7 1563.1 1754.6 1563.8C1756.5 1564.6 1758.4 1565.4 1760.3 1565.6C1762.3 1565.7 1764.2 1565.7 1766.1 1565.0C1768.0 1564.2 1769.9 1562.0 1771.8 1561.0C1773.7 1559.9 1775.6 1559.3 1777.5 1558.7C1779.4 1558.1 1781.4 1558.1 1783.3 1557.5C1785.2 1557.0 1787.1 1556.2 1789.0 1555.2C1790.9 1554.3 1792.8 1553.0 1794.7 1551.8C1796.6 1550.7 1798.5 1549.4 1800.5 1548.4C1802.4 1547.3 1804.3 1546.5 1806.2 1545.5C1808.1 1544.5 1810.0 1543.5 1811.9 1542.6C1813.8 1541.8 1815.7 1540.8 1817.7 1540.3C1819.6 1539.9 1820.5 1539.9 1823.4 1539.8C1826.2 1539.7 1831.0 1539.8 1834.8 1539.8C1838.7 1539.8 1843.4 1540.0 1846.3 1539.8C1849.2 1539.6 1850.1 1538.9 1852.0 1538.6C1853.9 1538.3 1854.9 1538.5 1857.8 1538.1C1860.6 1537.6 1865.5 1536.7 1869.2 1535.8C1872.9 1534.8 1877.7 1533.6 1880.0 1532.3C1882.3 1531.1 1880.5 1529.8 1882.9 1528.4C1885.3 1526.9 1890.6 1525.3 1894.4 1523.8C1898.2 1522.3 1902.0 1520.3 1905.8 1519.2C1909.7 1518.1 1913.5 1517.7 1917.3 1516.9C1921.1 1516.1 1924.9 1514.9 1928.8 1514.6C1932.6 1514.3 1937.4 1515.0 1940.2 1515.2C1943.1 1515.4 1944.0 1515.8 1946.0 1515.8C1947.9 1515.8 1949.8 1515.2 1951.7 1515.2C1953.6 1515.2 1955.5 1515.5 1957.4 1515.8C1959.3 1516.0 1960.3 1516.6 1963.2 1516.9C1966.0 1517.2 1970.8 1517.7 1974.6 1517.5C1978.4 1517.3 1982.3 1516.4 1986.1 1515.8C1989.9 1515.1 1994.7 1514.0 1997.5 1513.5C2000.4 1512.9 2001.4 1512.8 2003.3 1512.3C2005.2 1511.8 2006.1 1511.2 2009.0 1510.6C2011.9 1510.0 2016.6 1509.2 2020.5 1508.9C2024.3 1508.6 2028.1 1508.7 2031.9 1508.9C2035.7 1509.1 2040.5 1509.6 2043.4 1510.0C2046.2 1510.4 2047.2 1510.9 2049.1 1511.2C2051.0 1511.5 2052.9 1511.7 2054.8 1511.7C2056.8 1511.8 2058.7 1511.8 2060.6 1511.7C2062.5 1511.7 2064.4 1511.5 2066.3 1511.2C2068.2 1510.9 2069.2 1510.5 2072.0 1510.0C2074.9 1509.6 2079.7 1509.0 2083.5 1508.3C2087.3 1507.6 2092.2 1506.6 2095.0 1506.0C2097.7 1505.4 2097.2 1505.6 2100.0 1504.9C2102.8 1504.1 2107.6 1502.5 2111.5 1501.5C2115.3 1500.4 2119.1 1499.4 2122.9 1498.6C2126.7 1497.9 2131.5 1497.5 2134.4 1496.9C2137.2 1496.3 2137.2 1495.9 2140.1 1495.2C2143.0 1494.5 2146.8 1493.7 2151.6 1492.9C2156.4 1492.1 2164.9 1491.2 2168.8 1490.6C2172.6 1490.0 2171.6 1489.9 2174.5 1489.5C2177.4 1489.0 2182.1 1488.4 2186.0 1487.7C2189.8 1487.1 2193.6 1486.1 2197.4 1485.4C2201.2 1484.8 2205.1 1484.2 2208.9 1483.7C2212.7 1483.2 2216.5 1482.5 2220.3 1482.6C2224.2 1482.7 2228.9 1483.8 2231.8 1484.3C2234.7 1484.8 2234.7 1484.8 2237.5 1485.4C2240.4 1486.1 2245.2 1487.4 2249.0 1488.3C2252.8 1489.2 2256.6 1489.8 2260.5 1490.6C2264.3 1491.4 2268.1 1492.2 2271.9 1492.9C2275.7 1493.6 2280.5 1494.2 2283.4 1494.6C2286.2 1495.0 2286.2 1494.8 2289.1 1495.2C2292.0 1495.6 2296.8 1496.4 2300.6 1496.9C2304.4 1497.4 2308.2 1497.7 2312.0 1498.1C2315.9 1498.4 2319.3 1498.8 2323.5 1499.2C2327.7 1499.6 2335.0 1500.2 2337.2 1500.3"/>
<path stroke="#7D4E4E" d="M238.0 1478.0C239.2 1478.3 242.3 1479.6 245.4 1480.1C248.6 1480.6 253.2 1481.1 257.0 1480.9C260.7 1480.8 264.7 1479.0 268.2 1478.9C271.6 1478.8 274.3 1479.9 277.5 1480.4C280.6 1480.9 284.4 1482.2 287.3 1482.2C290.2 1482.1 291.9 1480.2 295.0 1480.2C298.0 1480.1 302.3 1481.8 305.6 1481.9C308.9 1482.1 311.1 1481.6 314.7 1481.0C318.4 1480.4 323.8 1478.3 327.5 1478.4C331.2 1478.5 334.2 1481.0 336.9 1481.6C339.6 1482.2 341.1 1482.4 343.9 1482.0C346.7 1481.6 350.1 1479.3 353.9 1479.4C357.6 1479.4 362.5 1482.3 366.2 1482.2C369.8 1482.1 372.1 1479.6 375.8 1478.8C379.5 1478.1 384.6 1477.5 388.5 1478.0C392.4 1478.4 395.9 1481.1 399.3 1481.3C402.7 1481.6 405.2 1479.4 408.7 1479.5C412.2 1479.6 417.3 1481.6 420.5 1482.0C423.7 1482.3 424.6 1481.5 427.9 1481.4C431.1 1481.2 435.1 1481.0 440.0 1481.1C444.9 1481.1 452.4 1481.5 457.2 1481.7C462.0 1481.9 465.2 1482.3 468.7 1482.2C472.1 1482.1 474.6 1482.0 477.8 1481.1C481.1 1480.1 484.9 1477.8 488.1 1476.5C491.4 1475.2 495.0 1474.4 497.3 1473.1C499.6 1471.7 500.0 1468.7 501.9 1468.5C503.8 1468.3 506.7 1471.5 508.8 1471.9C510.9 1472.3 512.2 1471.9 514.5 1470.8C516.8 1469.6 519.7 1467.5 522.5 1465.0C525.4 1462.6 528.6 1459.1 531.7 1455.9C534.7 1452.6 538.2 1449.0 540.9 1445.6C543.5 1442.1 545.4 1438.9 547.7 1435.2C550.0 1431.6 552.3 1428.0 554.6 1423.8C556.9 1419.6 559.4 1415.0 561.5 1410.0C563.6 1405.1 565.5 1399.3 567.2 1394.0C568.9 1388.6 570.4 1383.7 571.8 1377.9C573.2 1372.2 574.7 1365.3 575.8 1359.6C577.0 1353.9 577.8 1349.7 578.7 1343.6C579.5 1337.4 580.2 1330.2 581.0 1322.9C581.7 1315.7 582.5 1310.4 583.3 1300.0C584.0 1289.6 584.4 1274.7 585.5 1260.5C586.6 1246.2 588.8 1231.8 589.9 1214.6C590.9 1197.4 591.3 1176.4 591.9 1157.3C592.5 1138.2 592.9 1122.3 593.5 1100.0C594.1 1077.7 594.8 1047.8 595.5 1023.6C596.3 999.4 597.2 979.1 598.1 954.8C599.0 930.4 600.1 903.2 601.0 877.4C602.0 851.6 603.5 817.9 604.0 800.0C604.5 782.1 603.8 781.6 604.0 770.0C604.3 758.4 604.9 744.7 605.5 730.5C606.1 716.2 606.9 699.9 607.6 684.6C608.3 669.3 609.0 652.1 609.5 638.8C610.1 625.4 610.6 615.8 611.0 604.4C611.5 592.9 612.0 582.6 612.4 570.0C612.8 557.4 613.1 539.7 613.6 529.0C614.0 518.3 614.7 513.7 615.3 506.1C615.8 498.4 616.4 489.8 617.0 483.2C617.6 476.5 618.0 471.3 618.7 466.0C619.4 460.6 620.1 455.3 621.0 451.1C621.9 446.9 622.8 443.8 623.9 440.7C624.9 437.7 626.3 435.2 627.3 432.7C628.4 430.2 629.1 427.7 630.2 425.8C631.2 424.0 632.7 422.3 633.6 421.8C634.6 421.4 635.0 421.9 635.9 423.0C636.8 424.0 637.8 426.5 638.8 428.1C639.7 429.8 640.7 431.6 641.6 432.7C642.6 433.9 643.4 434.1 644.5 435.0C645.5 436.0 646.9 437.0 647.9 438.5C649.0 439.9 649.9 443.2 650.8 443.6C651.7 444.0 652.3 442.6 653.1 440.7C653.9 438.9 654.6 435.0 655.4 432.7C656.2 430.4 656.9 428.1 657.7 427.0C658.4 425.8 659.1 425.6 660.0 425.8C660.8 426.1 661.8 428.3 662.8 428.7C663.9 429.1 665.1 428.8 666.3 428.1C667.4 427.5 668.6 426.0 669.7 424.7C670.9 423.4 672.0 421.8 673.2 420.1C674.3 418.4 675.5 416.3 676.6 414.4C677.6 412.5 678.6 410.9 679.5 408.7C680.3 406.4 681.1 403.5 681.7 400.6C682.4 397.8 682.8 394.9 683.5 391.5C684.1 388.1 685.0 382.9 685.8 380.3C686.5 377.6 687.1 377.0 688.1 375.7C689.0 374.3 690.4 372.9 691.5 372.2C692.5 371.6 693.4 371.5 694.4 371.7C695.3 371.9 696.5 372.3 697.2 373.4C698.0 374.4 698.4 371.1 698.9 378.0C699.5 384.8 700.1 405.4 700.7 414.4C701.2 423.3 701.9 425.8 702.4 431.6C702.9 437.3 703.0 442.1 703.5 448.8C704.0 455.5 704.7 464.0 705.2 471.7C705.8 479.3 706.4 487.0 707.0 494.6C707.5 502.3 708.1 509.9 708.7 517.5C709.3 525.2 709.9 532.8 710.4 540.5C710.9 548.1 711.2 556.8 711.5 563.4C711.9 570.0 712.2 571.3 712.7 580.0C713.2 588.7 714.1 604.1 714.6 615.8C715.2 627.6 715.4 638.8 715.8 650.2C716.1 661.7 716.4 671.2 716.7 684.6C717.0 698.0 717.2 716.2 717.4 730.5C717.6 744.7 717.2 745.5 718.1 770.0C719.0 794.5 721.3 846.6 722.6 877.4C724.0 908.2 725.4 934.3 726.1 954.8C726.7 975.2 726.2 984.8 726.7 1000.0C727.2 1015.2 728.3 1030.6 729.0 1045.8C729.7 1061.1 730.3 1076.4 730.9 1091.7C731.6 1107.0 732.3 1122.3 733.0 1137.5C733.7 1152.8 734.7 1173.0 735.3 1183.4C736.0 1193.8 736.2 1191.5 736.9 1200.0C737.6 1208.5 738.6 1222.9 739.5 1234.4C740.5 1245.8 741.5 1259.2 742.6 1268.8C743.7 1278.3 744.8 1284.0 746.1 1291.7C747.4 1299.3 748.7 1307.0 750.4 1314.6C752.1 1322.3 754.6 1329.9 756.2 1337.5C757.7 1345.2 758.3 1352.8 759.6 1360.5C760.9 1368.1 763.1 1378.5 764.2 1383.4C765.2 1388.3 765.1 1386.0 765.9 1390.0C766.7 1394.0 767.7 1401.5 768.8 1407.2C769.8 1412.9 771.1 1419.2 772.2 1424.4C773.4 1429.5 774.5 1433.9 775.6 1438.1C776.8 1442.3 777.9 1446.0 779.1 1449.6C780.2 1453.2 781.4 1456.5 782.5 1459.9C783.7 1463.4 784.8 1467.2 786.0 1470.2C787.1 1473.3 788.1 1476.5 789.4 1478.3C790.7 1480.0 792.6 1480.5 794.0 1480.5C795.3 1480.5 796.5 1479.4 797.4 1478.3C798.4 1477.1 798.9 1475.2 799.7 1473.7C800.5 1472.1 801.2 1470.0 802.0 1469.1C802.8 1468.1 803.4 1467.7 804.3 1467.9C805.2 1468.1 806.4 1468.7 807.2 1470.2C807.9 1471.8 808.3 1474.2 808.9 1477.1C809.5 1480.0 809.9 1484.2 810.6 1487.4C811.3 1490.7 812.0 1493.9 812.9 1496.6C813.8 1499.3 814.7 1501.7 815.8 1503.5C816.8 1505.2 818.1 1506.5 819.2 1506.9C820.3 1507.3 821.5 1506.9 822.6 1505.8C823.8 1504.6 825.1 1502.5 826.1 1500.0C827.0 1497.5 827.7 1494.3 828.4 1490.9C829.0 1487.4 829.6 1483.8 830.1 1479.4C830.6 1475.0 831.1 1469.8 831.5 1464.5C831.8 1459.1 832.0 1454.0 832.3 1447.3C832.6 1440.6 833.0 1431.1 833.2 1424.4C833.4 1417.7 833.3 1414.0 833.6 1407.2C834.0 1400.4 834.7 1391.2 835.2 1383.4C835.8 1375.6 836.4 1368.1 837.0 1360.5C837.5 1352.8 838.2 1345.2 838.7 1337.5C839.2 1329.9 839.6 1322.3 840.1 1314.6C840.6 1307.0 841.1 1299.3 841.7 1291.7C842.2 1284.0 842.8 1276.4 843.3 1268.8C843.8 1261.1 844.1 1253.5 844.6 1245.8C845.2 1238.2 845.7 1230.6 846.4 1222.9C847.0 1215.3 847.6 1207.2 848.4 1200.0C849.2 1192.8 850.3 1186.5 851.3 1179.9C852.2 1173.4 853.1 1167.5 854.2 1160.5C855.2 1153.4 856.4 1144.2 857.6 1137.5C858.7 1130.9 859.8 1126.1 861.0 1120.3C862.3 1114.6 863.7 1111.7 865.0 1103.2C866.4 1094.6 868.0 1077.6 869.3 1069.0C870.7 1060.4 872.1 1057.2 873.4 1051.8C874.6 1046.5 875.6 1041.3 876.8 1036.9C877.9 1032.5 879.1 1028.9 880.2 1025.4C881.4 1022.0 882.5 1019.1 883.7 1016.3C884.8 1013.4 886.0 1010.4 887.1 1008.3C888.3 1006.1 889.4 1004.4 890.5 1003.1C891.7 1001.8 892.6 1000.8 894.0 1000.2C895.3 999.7 897.0 999.8 898.6 999.7C900.1 999.6 901.6 999.6 903.2 999.7C904.7 999.8 906.4 999.6 907.7 1000.2C909.1 1000.9 910.2 1001.9 911.2 1003.7C912.1 1005.4 912.7 1008.1 913.5 1010.5C914.2 1013.0 915.0 1015.9 915.8 1018.6C916.5 1021.2 917.2 1023.7 918.1 1026.6C918.9 1029.5 920.0 1032.7 920.9 1035.8C921.9 1038.8 922.8 1042.1 923.8 1044.9C924.7 1047.8 925.7 1050.3 926.6 1053.0C927.6 1055.6 928.5 1058.3 929.5 1061.0C930.6 1063.6 931.9 1066.5 933.0 1069.0C934.0 1071.5 935.0 1073.4 935.8 1075.9C936.7 1078.4 937.3 1081.0 938.1 1083.9C938.9 1086.8 939.6 1089.8 940.4 1093.1C941.2 1096.3 942.0 1100.3 942.7 1103.4C943.4 1106.4 943.6 1108.2 944.4 1111.5C945.1 1114.7 946.4 1119.1 947.2 1122.9C948.1 1126.7 948.7 1130.6 949.5 1134.4C950.3 1138.2 951.1 1142.0 951.8 1145.8C952.5 1149.7 953.0 1153.5 953.5 1157.3C954.1 1161.1 954.7 1164.9 955.2 1168.8C955.8 1172.6 956.6 1176.4 957.0 1180.2C957.3 1184.0 957.2 1187.9 957.3 1191.7C957.4 1195.5 957.5 1199.3 957.5 1203.2C957.6 1207.0 957.7 1210.8 957.8 1214.6C957.9 1218.4 958.0 1222.3 958.1 1226.1C958.2 1229.9 958.3 1233.7 958.5 1237.5C958.6 1241.4 958.6 1244.2 958.9 1249.0C959.2 1253.8 959.6 1260.5 960.1 1266.2C960.5 1271.9 961.1 1279.4 961.5 1283.4C962.0 1287.3 962.4 1285.1 963.0 1290.0C963.7 1294.9 964.5 1305.3 965.3 1312.9C966.2 1320.6 967.1 1328.2 968.2 1335.8C969.2 1343.5 970.2 1352.3 971.6 1358.8C973.1 1365.3 975.0 1371.0 976.8 1374.8C978.6 1378.6 980.8 1379.8 982.5 1381.7C984.2 1383.6 985.6 1384.4 987.1 1386.3C988.6 1388.2 990.2 1390.9 991.7 1393.2C993.2 1395.4 994.7 1397.9 996.3 1400.0C997.8 1402.1 999.1 1404.0 1000.9 1405.8C1002.6 1407.5 1004.7 1408.8 1006.6 1410.3C1008.5 1411.9 1010.8 1413.2 1012.3 1414.9C1013.8 1416.6 1014.8 1418.6 1015.8 1420.7C1016.7 1422.8 1017.3 1425.1 1018.1 1427.5C1018.8 1430.0 1019.7 1432.7 1020.3 1435.6C1021.0 1438.4 1021.5 1441.9 1022.1 1444.7C1022.6 1447.6 1022.5 1449.9 1023.8 1452.8C1025.0 1455.6 1027.6 1459.4 1029.5 1461.9C1031.4 1464.4 1033.1 1466.2 1035.2 1467.7C1037.3 1469.1 1039.8 1469.8 1042.1 1470.5C1044.4 1471.2 1046.9 1471.6 1049.0 1471.7C1051.1 1471.8 1052.8 1471.8 1054.7 1471.1C1056.6 1470.4 1058.7 1469.4 1060.5 1467.7C1062.2 1465.9 1063.7 1463.6 1065.0 1460.8C1066.4 1457.9 1067.3 1454.5 1068.5 1450.5C1069.6 1446.4 1070.9 1441.5 1071.9 1436.7C1073.0 1431.9 1073.8 1426.8 1074.8 1421.8C1075.7 1416.8 1076.8 1411.7 1077.7 1406.9C1078.5 1402.1 1079.1 1398.1 1079.9 1393.2C1080.8 1388.2 1081.9 1382.1 1082.8 1377.1C1083.8 1372.1 1085.0 1369.0 1085.7 1363.4C1086.4 1357.7 1085.9 1348.6 1086.9 1343.4C1087.8 1338.1 1089.9 1335.1 1091.5 1331.9C1093.0 1328.6 1094.3 1326.2 1096.0 1323.9C1097.8 1321.6 1099.9 1319.6 1101.8 1318.1C1103.7 1316.7 1105.6 1315.7 1107.5 1315.3C1109.4 1314.8 1111.5 1314.6 1113.2 1315.3C1115.0 1315.9 1116.5 1317.5 1117.8 1319.3C1119.2 1321.1 1120.1 1323.7 1121.3 1326.2C1122.4 1328.6 1123.4 1331.5 1124.7 1334.2C1126.0 1336.9 1127.8 1339.5 1129.3 1342.2C1130.8 1344.9 1132.3 1347.9 1133.9 1350.2C1135.4 1352.5 1136.9 1354.2 1138.5 1356.0C1140.0 1357.7 1141.5 1358.6 1143.0 1360.5C1144.6 1362.5 1146.1 1364.9 1147.6 1367.4C1149.1 1369.9 1150.7 1373.0 1152.2 1375.4C1153.7 1377.9 1155.3 1380.2 1156.8 1382.3C1158.3 1384.4 1159.8 1386.3 1161.4 1388.1C1162.9 1389.8 1164.2 1391.5 1166.0 1392.6C1167.7 1393.8 1169.8 1394.4 1171.7 1394.9C1173.6 1395.5 1175.5 1395.7 1177.4 1396.1C1179.3 1396.5 1181.4 1396.3 1183.2 1397.2C1184.9 1398.2 1186.2 1399.9 1187.7 1401.8C1189.3 1403.7 1190.8 1406.4 1192.3 1408.7C1193.8 1411.0 1195.4 1413.3 1196.9 1415.6C1198.4 1417.9 1200.0 1420.0 1201.5 1422.4C1203.0 1424.9 1204.4 1428.2 1206.1 1430.5C1207.8 1432.8 1209.9 1434.9 1211.8 1436.2C1213.7 1437.5 1215.4 1438.2 1217.5 1438.5C1219.6 1438.8 1222.1 1438.3 1224.4 1437.9C1226.7 1437.5 1229.2 1437.0 1231.3 1436.2C1233.4 1435.3 1235.1 1434.1 1237.0 1432.8C1238.9 1431.4 1240.8 1429.9 1242.8 1428.2C1244.7 1426.4 1246.6 1424.7 1248.5 1422.4C1250.4 1420.1 1252.3 1417.3 1254.2 1414.4C1256.1 1411.5 1258.0 1408.1 1259.9 1405.2C1261.9 1402.4 1263.8 1399.9 1265.7 1397.2C1267.6 1394.5 1269.5 1391.7 1271.4 1389.2C1273.3 1386.7 1275.2 1384.4 1277.1 1382.3C1279.0 1380.2 1281.0 1378.3 1282.9 1376.6C1284.8 1374.9 1286.7 1373.3 1288.6 1372.0C1290.5 1370.7 1292.4 1369.9 1294.3 1368.6C1296.2 1367.2 1298.1 1365.5 1300.1 1364.0C1302.0 1362.5 1303.9 1360.7 1305.8 1359.4C1307.7 1358.1 1309.8 1357.1 1311.5 1356.0C1313.2 1354.8 1314.7 1353.5 1316.1 1352.5C1317.5 1351.6 1318.9 1351.4 1320.0 1350.2C1321.1 1349.1 1321.9 1346.6 1322.9 1345.6C1324.0 1344.7 1325.2 1343.9 1326.4 1344.5C1327.5 1345.1 1328.7 1347.0 1329.8 1349.1C1330.9 1351.2 1332.1 1354.2 1333.2 1357.1C1334.4 1360.0 1335.5 1363.6 1336.7 1366.3C1337.8 1368.9 1339.0 1371.1 1340.1 1373.2C1341.3 1375.3 1342.4 1376.8 1343.6 1378.9C1344.7 1381.0 1345.8 1383.5 1347.0 1385.8C1348.1 1388.1 1349.3 1390.3 1350.4 1392.6C1351.6 1394.9 1352.7 1397.2 1353.9 1399.5C1355.0 1401.8 1356.0 1404.1 1357.3 1406.4C1358.6 1408.7 1360.4 1411.2 1361.9 1413.3C1363.4 1415.4 1364.9 1417.3 1366.5 1419.0C1368.0 1420.7 1369.5 1422.1 1371.1 1423.6C1372.6 1425.1 1374.1 1426.8 1375.6 1428.2C1377.2 1429.5 1378.7 1430.5 1380.2 1431.6C1381.8 1432.8 1383.3 1433.9 1384.8 1435.0C1386.3 1436.2 1387.9 1437.5 1389.4 1438.5C1390.9 1439.4 1392.5 1440.0 1394.0 1440.8C1395.5 1441.5 1397.0 1442.3 1398.6 1443.1C1400.1 1443.8 1401.6 1444.6 1403.2 1445.4C1404.7 1446.1 1406.2 1446.7 1407.7 1447.7C1409.3 1448.6 1410.8 1449.9 1412.3 1451.1C1413.8 1452.2 1415.4 1453.4 1416.9 1454.5C1418.4 1455.7 1420.0 1456.8 1421.5 1458.0C1423.0 1459.1 1424.5 1460.3 1426.1 1461.4C1427.6 1462.6 1429.1 1463.4 1430.7 1464.8C1432.2 1466.3 1434.2 1469.0 1435.2 1470.0C1436.3 1471.0 1435.9 1470.0 1437.2 1470.9C1438.5 1471.8 1441.0 1474.1 1442.9 1475.4C1444.8 1476.8 1446.7 1478.0 1448.7 1478.9C1450.6 1479.7 1452.5 1480.4 1454.4 1480.6C1456.3 1480.8 1458.2 1480.5 1460.1 1480.0C1462.0 1479.6 1463.9 1478.9 1465.8 1477.7C1467.8 1476.6 1469.7 1474.7 1471.6 1473.2C1473.5 1471.6 1475.2 1470.7 1477.3 1468.6C1479.4 1466.5 1481.9 1463.6 1484.2 1460.5C1486.5 1457.5 1488.4 1453.5 1491.1 1450.2C1493.7 1447.0 1496.8 1444.1 1500.2 1441.1C1503.7 1438.0 1507.9 1434.8 1511.7 1431.9C1515.5 1429.0 1519.3 1425.8 1523.2 1423.9C1527.0 1422.0 1530.8 1421.2 1534.6 1420.4C1538.4 1419.7 1542.3 1419.4 1546.1 1419.3C1549.9 1419.2 1553.7 1419.7 1557.5 1419.9C1561.4 1420.0 1565.2 1420.1 1569.0 1420.4C1572.8 1420.7 1577.6 1421.0 1580.5 1421.6C1583.3 1422.1 1584.3 1422.9 1586.2 1423.9C1588.1 1424.8 1590.0 1426.2 1591.9 1427.3C1593.8 1428.5 1595.7 1429.8 1597.7 1430.7C1599.6 1431.7 1601.5 1431.9 1603.4 1433.0C1605.3 1434.2 1607.2 1435.9 1609.1 1437.6C1611.0 1439.3 1612.9 1441.6 1614.8 1443.4C1616.8 1445.1 1618.7 1446.4 1620.6 1447.9C1622.5 1449.5 1624.4 1450.8 1626.3 1452.5C1628.2 1454.2 1630.1 1456.3 1632.0 1458.3C1633.9 1460.2 1635.9 1461.9 1637.8 1464.0C1639.7 1466.1 1641.6 1468.4 1643.5 1470.9C1645.4 1473.3 1646.9 1474.4 1649.2 1478.9C1651.5 1483.4 1654.9 1493.4 1657.2 1497.9C1659.5 1502.4 1661.0 1503.5 1662.9 1506.0C1664.8 1508.4 1666.7 1510.5 1668.7 1512.8C1670.6 1515.1 1672.5 1517.6 1674.4 1519.7C1676.3 1521.8 1678.2 1523.7 1680.1 1525.4C1682.0 1527.2 1683.9 1528.5 1685.8 1530.0C1687.8 1531.6 1689.7 1533.3 1691.6 1534.6C1693.5 1536.0 1695.4 1537.1 1697.3 1538.1C1699.2 1539.0 1701.1 1539.4 1703.0 1540.3C1704.9 1541.3 1705.9 1542.7 1708.8 1543.8C1711.6 1544.8 1716.4 1545.8 1720.2 1546.6C1724.0 1547.5 1727.9 1548.1 1731.7 1548.9C1735.5 1549.8 1740.3 1550.9 1743.2 1551.8C1746.0 1552.7 1747.0 1553.1 1748.9 1554.1C1750.8 1555.1 1752.7 1556.5 1754.6 1557.5C1756.5 1558.6 1758.4 1560.0 1760.3 1560.4C1762.3 1560.8 1764.2 1560.5 1766.1 1559.8C1768.0 1559.2 1769.9 1557.3 1771.8 1556.4C1773.7 1555.4 1775.6 1554.9 1777.5 1554.1C1779.4 1553.3 1781.4 1552.6 1783.3 1551.8C1785.2 1551.0 1787.1 1550.3 1789.0 1549.5C1790.9 1548.7 1792.8 1548.2 1794.7 1547.2C1796.6 1546.3 1798.5 1544.7 1800.5 1543.8C1802.4 1542.8 1804.3 1542.3 1806.2 1541.5C1808.1 1540.7 1810.0 1540.0 1811.9 1539.2C1813.8 1538.4 1815.7 1537.5 1817.7 1536.9C1819.6 1536.3 1821.5 1536.1 1823.4 1535.8C1825.3 1535.4 1827.2 1534.8 1829.1 1534.6C1831.0 1534.4 1832.9 1534.5 1834.8 1534.6C1836.8 1534.7 1838.7 1535.2 1840.6 1535.2C1842.5 1535.2 1844.4 1534.9 1846.3 1534.6C1848.2 1534.3 1850.1 1533.9 1852.0 1533.5C1853.9 1533.0 1855.9 1532.1 1857.8 1531.7C1859.7 1531.4 1861.6 1531.4 1863.5 1531.2C1865.4 1531.0 1867.3 1531.0 1869.2 1530.6C1871.1 1530.2 1873.2 1529.6 1875.0 1528.9C1876.8 1528.2 1878.3 1527.4 1880.0 1526.6C1881.7 1525.7 1883.2 1524.6 1885.2 1523.8C1887.2 1522.9 1889.8 1522.3 1892.1 1521.5C1894.4 1520.7 1896.7 1520.0 1899.0 1519.2C1901.3 1518.4 1903.7 1517.7 1905.8 1516.9C1907.9 1516.1 1909.7 1515.2 1911.6 1514.6C1913.5 1514.0 1915.4 1513.8 1917.3 1513.5C1919.2 1513.1 1921.1 1512.6 1923.0 1512.3C1924.9 1512.0 1926.9 1511.9 1928.8 1511.7C1930.7 1511.6 1932.6 1511.2 1934.5 1511.2C1936.4 1511.2 1937.4 1511.5 1940.2 1511.7C1943.1 1512.0 1947.9 1512.4 1951.7 1512.9C1955.5 1513.4 1960.3 1514.0 1963.2 1514.6C1966.0 1515.2 1967.0 1516.1 1968.9 1516.3C1970.8 1516.5 1972.7 1516.0 1974.6 1515.8C1976.5 1515.5 1978.4 1515.0 1980.3 1514.6C1982.3 1514.2 1983.2 1513.9 1986.1 1513.5C1988.9 1513.0 1993.7 1512.3 1997.5 1511.7C2001.4 1511.2 2005.2 1510.6 2009.0 1510.0C2012.8 1509.5 2016.6 1508.7 2020.5 1508.3C2024.3 1507.9 2028.1 1507.7 2031.9 1507.7C2035.7 1507.7 2040.5 1508.2 2043.4 1508.3C2046.2 1508.4 2046.2 1508.4 2049.1 1508.3C2052.0 1508.2 2056.8 1507.9 2060.6 1507.7C2064.4 1507.5 2068.2 1507.4 2072.0 1507.2C2075.9 1506.9 2079.7 1506.5 2083.5 1506.0C2087.3 1505.5 2092.2 1504.8 2095.0 1504.3C2097.7 1503.8 2097.2 1504.0 2100.0 1503.2C2102.8 1502.3 2107.6 1500.4 2111.5 1499.2C2115.3 1498.0 2119.1 1496.6 2122.9 1495.8C2126.7 1494.9 2130.6 1494.5 2134.4 1494.0C2138.2 1493.6 2143.0 1493.3 2145.8 1492.9C2148.7 1492.5 2149.7 1492.4 2151.6 1491.7C2153.5 1491.1 2154.4 1489.6 2157.3 1488.9C2160.2 1488.2 2164.9 1488.0 2168.8 1487.7C2172.6 1487.4 2176.4 1487.5 2180.2 1487.2C2184.0 1486.8 2187.9 1486.0 2191.7 1485.4C2195.5 1484.9 2199.3 1484.1 2203.2 1483.7C2207.0 1483.3 2211.7 1483.2 2214.6 1483.2C2217.5 1483.1 2218.4 1483.2 2220.3 1483.2C2222.3 1483.2 2224.2 1483.1 2226.1 1483.2C2228.0 1483.2 2228.9 1483.2 2231.8 1483.7C2234.7 1484.3 2239.4 1485.7 2243.3 1486.6C2247.1 1487.4 2251.9 1488.3 2254.7 1488.9C2257.6 1489.5 2258.5 1489.6 2260.5 1490.0C2262.4 1490.5 2264.3 1491.3 2266.2 1491.7C2268.1 1492.2 2269.1 1492.4 2271.9 1492.9C2274.8 1493.4 2279.6 1494.1 2283.4 1494.6C2287.2 1495.1 2291.0 1495.4 2294.8 1495.8C2298.7 1496.1 2302.5 1496.5 2306.3 1496.9C2310.1 1497.3 2313.9 1497.7 2317.8 1498.1C2321.6 1498.4 2326.0 1498.9 2329.2 1499.2C2332.5 1499.5 2335.9 1499.7 2337.2 1499.8"/>
<path stroke="#8E8E00" d="M238.0 1480.6C240.1 1480.7 247.5 1481.1 250.9 1481.0C254.3 1481.0 255.4 1480.4 258.4 1480.3C261.4 1480.2 265.1 1481.0 269.0 1480.5C272.8 1480.0 278.2 1477.2 281.5 1477.3C284.8 1477.4 285.9 1480.4 288.9 1481.0C292.0 1481.7 295.8 1481.2 299.6 1481.0C303.4 1480.9 307.8 1480.3 311.8 1480.1C315.9 1479.9 320.7 1480.0 324.0 1479.9C327.3 1479.8 328.9 1479.6 331.6 1479.6C334.4 1479.5 337.1 1479.9 340.3 1479.7C343.5 1479.5 347.8 1478.4 350.9 1478.4C354.0 1478.3 355.7 1479.1 358.8 1479.4C361.9 1479.7 365.7 1480.4 369.4 1480.1C373.1 1479.9 377.5 1478.3 380.7 1477.9C383.9 1477.4 385.5 1477.4 388.6 1477.4C391.6 1477.3 395.7 1477.6 399.1 1477.7C402.5 1477.8 405.3 1477.5 408.8 1477.9C412.3 1478.4 416.9 1479.7 420.1 1480.3C423.3 1480.9 424.5 1481.6 427.8 1481.3C431.1 1481.0 435.1 1479.2 440.0 1478.8C444.9 1478.4 451.5 1479.4 457.2 1478.8C462.9 1478.2 469.6 1476.7 474.4 1475.4C479.2 1474.0 482.4 1471.9 485.8 1470.8C489.3 1469.6 492.3 1469.2 495.0 1468.5C497.7 1467.7 499.6 1466.8 501.9 1466.2C504.2 1465.6 506.7 1465.2 508.8 1465.0C510.9 1464.9 512.2 1466.0 514.5 1465.0C516.8 1464.1 519.7 1462.0 522.5 1459.3C525.4 1456.6 529.0 1452.2 531.7 1449.0C534.4 1445.7 536.3 1443.6 538.6 1439.8C540.9 1436.0 543.2 1430.7 545.4 1426.1C547.7 1421.5 550.2 1416.5 552.3 1412.3C554.4 1408.1 556.1 1405.8 558.1 1400.9C560.0 1395.9 561.9 1388.6 563.8 1382.5C565.7 1376.4 567.8 1370.3 569.5 1364.2C571.2 1358.1 572.8 1351.8 574.1 1345.8C575.4 1339.9 576.5 1334.4 577.5 1328.7C578.6 1322.9 579.6 1316.2 580.4 1311.5C581.2 1306.7 581.4 1308.5 582.1 1300.0C582.8 1291.5 583.2 1274.7 584.5 1260.5C585.7 1246.2 588.5 1231.8 589.7 1214.6C591.0 1197.4 591.2 1176.4 591.8 1157.3C592.4 1138.2 592.6 1122.3 593.4 1100.0C594.2 1077.7 595.7 1047.8 596.7 1023.6C597.8 999.4 598.8 979.1 599.8 954.8C600.9 930.4 602.1 903.2 603.3 877.4C604.5 851.6 605.9 824.5 607.1 800.0C608.2 775.5 609.2 749.7 610.1 730.5C611.0 711.2 611.6 699.9 612.4 684.6C613.2 669.3 614.0 652.1 614.7 638.8C615.4 625.4 615.8 615.8 616.4 604.4C617.0 592.9 617.6 580.7 618.1 570.0C618.7 559.3 619.3 548.2 619.9 540.5C620.4 532.7 621.0 528.0 621.6 523.3C622.1 518.5 622.7 515.4 623.3 511.8C623.9 508.2 624.3 504.7 625.0 501.5C625.7 498.2 626.5 495.0 627.3 492.3C628.1 489.6 628.7 487.7 629.6 485.4C630.5 483.2 631.5 480.7 632.5 478.6C633.4 476.5 634.3 474.2 635.3 472.8C636.4 471.5 637.8 470.5 638.8 470.5C639.7 470.5 640.3 471.5 641.1 472.8C641.8 474.2 642.6 476.8 643.4 478.6C644.1 480.3 644.8 482.0 645.6 483.2C646.5 484.3 647.6 485.6 648.5 485.4C649.5 485.3 650.3 483.3 651.4 482.0C652.4 480.7 653.7 479.3 654.8 477.4C656.0 475.5 657.1 472.4 658.3 470.5C659.4 468.7 660.7 466.5 661.7 466.5C662.6 466.5 663.2 468.7 664.0 470.5C664.7 472.4 665.5 475.5 666.3 477.4C667.0 479.3 667.8 481.1 668.6 482.0C669.3 482.9 670.0 483.0 670.9 482.6C671.7 482.2 672.9 481.0 673.7 479.7C674.6 478.5 675.2 476.2 676.0 475.1C676.9 474.1 677.9 473.6 678.9 473.4C679.8 473.2 680.7 473.4 681.7 474.0C682.8 474.6 684.1 476.6 685.2 476.8C686.2 477.1 687.0 476.3 688.1 475.7C689.1 475.1 690.3 473.5 691.5 473.4C692.6 473.3 693.9 473.9 694.9 475.1C696.0 476.4 696.9 478.6 697.8 480.9C698.7 483.2 699.4 485.8 700.1 488.9C700.8 491.9 701.2 495.4 701.8 499.2C702.4 503.0 703.0 506.8 703.5 511.8C704.0 516.8 704.2 523.3 704.7 529.0C705.1 534.7 705.9 540.5 706.4 546.2C706.9 551.9 707.1 557.7 707.5 563.4C708.0 569.0 708.7 571.3 709.3 580.0C709.8 588.7 710.4 602.2 711.0 615.8C711.5 629.5 712.2 646.4 712.7 661.7C713.2 677.0 713.5 689.5 713.8 707.5C714.2 725.6 713.7 741.7 715.0 770.0C716.3 798.3 720.1 846.6 721.8 877.4C723.5 908.2 724.3 934.3 725.2 954.8C726.1 975.2 726.6 984.8 727.3 1000.0C728.0 1015.2 728.9 1030.6 729.6 1045.8C730.3 1061.1 730.9 1076.4 731.5 1091.7C732.2 1107.0 732.9 1122.3 733.6 1137.5C734.3 1152.8 735.2 1173.0 735.9 1183.4C736.5 1193.8 736.9 1191.5 737.6 1200.0C738.3 1208.5 739.1 1222.9 739.9 1234.4C740.6 1245.8 741.3 1257.3 742.2 1268.8C743.0 1280.2 744.0 1291.7 745.0 1303.2C746.1 1314.6 747.5 1328.0 748.7 1337.5C750.0 1347.1 751.2 1353.8 752.5 1360.5C753.8 1367.1 755.2 1371.9 756.4 1377.7C757.6 1383.4 758.5 1389.0 759.6 1394.8C760.7 1400.7 761.9 1407.0 763.0 1412.9C764.2 1418.8 765.3 1424.4 766.5 1430.1C767.6 1435.8 768.8 1441.8 769.9 1447.3C771.1 1452.8 771.6 1457.8 773.4 1463.4C775.1 1468.9 777.9 1475.8 780.2 1480.5C782.5 1485.3 785.2 1489.5 787.1 1492.0C789.0 1494.5 790.0 1495.2 791.7 1495.4C793.4 1495.7 795.5 1494.9 797.4 1493.7C799.3 1492.6 801.4 1489.9 803.2 1488.6C804.9 1487.2 806.2 1485.9 807.7 1485.7C809.3 1485.5 811.0 1486.8 812.3 1487.4C813.7 1488.1 814.4 1489.6 815.8 1489.7C817.1 1489.8 818.8 1489.1 820.3 1488.0C821.9 1486.8 823.6 1485.0 824.9 1482.8C826.3 1480.6 827.4 1477.9 828.4 1474.8C829.3 1471.8 830.0 1468.1 830.7 1464.5C831.3 1460.9 831.9 1456.9 832.4 1453.0C832.9 1449.2 833.1 1446.4 833.5 1441.6C833.9 1436.8 834.3 1430.1 834.7 1424.4C835.0 1418.7 835.3 1414.0 835.6 1407.2C835.9 1400.4 836.0 1391.2 836.4 1383.4C836.8 1375.6 837.4 1368.1 838.1 1360.5C838.8 1352.8 839.7 1345.2 840.4 1337.5C841.1 1329.9 841.5 1322.3 842.1 1314.6C842.7 1307.0 843.2 1299.3 843.8 1291.7C844.5 1284.0 845.5 1276.4 846.1 1268.8C846.8 1261.1 847.2 1253.5 847.9 1245.8C848.5 1238.2 849.5 1230.6 850.1 1222.9C850.8 1215.3 851.2 1206.6 851.9 1200.0C852.5 1193.4 853.3 1189.6 854.2 1183.4C855.0 1177.2 856.0 1169.4 857.0 1162.8C858.1 1156.1 859.3 1149.4 860.5 1143.3C861.6 1137.2 862.7 1131.6 863.9 1126.1C865.1 1120.5 866.6 1115.4 867.9 1110.0C869.2 1104.7 871.0 1098.0 871.9 1094.0C872.8 1090.0 872.5 1090.0 873.4 1086.2C874.2 1082.4 875.6 1076.1 876.8 1071.3C877.9 1066.5 879.1 1061.7 880.2 1057.5C881.4 1053.3 882.5 1049.3 883.7 1046.1C884.8 1042.8 885.8 1040.4 887.1 1038.1C888.4 1035.7 890.2 1033.5 891.7 1031.7C893.2 1030.0 894.7 1028.8 896.3 1027.7C897.9 1026.7 899.9 1025.4 901.4 1025.4C903.0 1025.4 904.0 1026.7 905.4 1027.7C906.9 1028.8 908.7 1030.4 910.0 1031.7C911.4 1033.1 912.3 1033.9 913.5 1035.8C914.6 1037.6 915.8 1040.2 916.9 1042.6C918.1 1045.1 919.2 1047.8 920.3 1050.7C921.5 1053.5 922.6 1056.8 923.8 1059.8C924.9 1062.9 926.1 1065.7 927.2 1069.0C928.4 1072.2 929.6 1076.1 930.7 1079.3C931.7 1082.6 932.7 1085.4 933.5 1088.5C934.4 1091.5 934.8 1093.8 935.8 1097.7C936.9 1101.5 938.5 1107.2 939.8 1111.5C941.0 1115.7 942.2 1119.1 943.2 1122.9C944.3 1126.7 945.1 1130.6 946.1 1134.4C947.0 1138.2 948.1 1142.0 948.9 1145.8C949.8 1149.7 950.5 1153.5 951.2 1157.3C952.0 1161.1 952.9 1164.9 953.5 1168.8C954.2 1172.6 954.7 1176.4 955.2 1180.2C955.8 1184.0 956.2 1187.9 956.6 1191.7C957.0 1195.5 957.2 1199.3 957.5 1203.2C957.8 1207.0 958.1 1210.8 958.3 1214.6C958.6 1218.4 958.7 1222.3 958.9 1226.1C959.1 1229.9 959.3 1232.8 959.6 1237.5C959.9 1242.3 960.3 1249.0 960.7 1254.7C961.2 1260.5 961.6 1266.2 962.1 1271.9C962.6 1277.7 963.0 1286.1 963.8 1289.1C964.7 1292.1 966.2 1287.9 967.0 1290.0C967.9 1292.1 968.2 1297.6 968.8 1301.5C969.3 1305.3 969.9 1309.1 970.5 1312.9C971.1 1316.7 971.6 1320.6 972.2 1324.4C972.8 1328.2 973.3 1332.0 973.9 1335.8C974.6 1339.7 975.5 1343.5 976.2 1347.3C977.0 1351.1 977.7 1354.9 978.5 1358.8C979.3 1362.6 979.9 1366.4 980.8 1370.2C981.7 1374.0 982.6 1377.9 983.7 1381.7C984.7 1385.5 985.8 1389.7 987.1 1393.2C988.4 1396.6 990.0 1399.5 991.7 1402.3C993.4 1405.2 995.5 1407.9 997.4 1410.3C999.3 1412.8 1001.2 1415.1 1003.2 1417.2C1005.1 1419.3 1007.0 1420.7 1008.9 1423.0C1010.8 1425.2 1012.9 1428.1 1014.6 1431.0C1016.3 1433.8 1017.9 1437.5 1019.2 1440.1C1020.5 1442.8 1021.5 1444.9 1022.6 1447.0C1023.8 1449.1 1024.5 1450.6 1026.1 1452.8C1027.6 1454.9 1029.9 1457.7 1031.8 1459.6C1033.7 1461.5 1035.6 1463.1 1037.5 1464.2C1039.4 1465.4 1041.4 1466.0 1043.3 1466.5C1045.2 1467.0 1047.1 1467.3 1049.0 1467.1C1050.9 1466.9 1052.8 1466.2 1054.7 1465.4C1056.6 1464.5 1058.7 1463.4 1060.5 1461.9C1062.2 1460.4 1063.7 1458.3 1065.0 1456.2C1066.4 1454.1 1067.3 1452.0 1068.5 1449.3C1069.6 1446.6 1070.8 1443.4 1071.9 1440.1C1073.1 1436.9 1074.3 1433.3 1075.4 1429.8C1076.4 1426.4 1077.3 1423.1 1078.2 1419.5C1079.2 1415.9 1080.1 1412.1 1081.1 1408.1C1082.0 1404.0 1083.0 1402.4 1084.0 1395.4C1084.9 1388.5 1085.6 1373.4 1086.9 1366.3C1088.1 1359.1 1089.9 1356.3 1091.5 1352.5C1093.0 1348.7 1094.3 1345.6 1096.0 1343.4C1097.8 1341.1 1099.9 1339.9 1101.8 1338.8C1103.7 1337.6 1105.4 1337.0 1107.5 1336.5C1109.6 1335.9 1112.3 1335.2 1114.4 1335.3C1116.5 1335.4 1118.2 1336.1 1120.1 1337.0C1122.0 1338.0 1124.1 1339.2 1125.8 1341.1C1127.6 1342.9 1128.9 1345.5 1130.4 1347.9C1132.0 1350.4 1133.5 1353.3 1135.0 1356.0C1136.5 1358.6 1138.1 1361.3 1139.6 1364.0C1141.1 1366.7 1142.7 1369.5 1144.2 1372.0C1145.7 1374.5 1147.0 1376.8 1148.8 1378.9C1150.5 1381.0 1152.6 1382.3 1154.5 1384.6C1156.4 1386.9 1158.5 1390.0 1160.2 1392.6C1161.9 1395.3 1163.3 1398.0 1164.8 1400.7C1166.3 1403.3 1167.9 1406.7 1169.4 1408.7C1170.9 1410.7 1172.3 1411.9 1174.0 1412.7C1175.7 1413.5 1177.8 1413.1 1179.7 1413.3C1181.6 1413.5 1183.7 1413.5 1185.4 1413.8C1187.2 1414.2 1188.5 1414.9 1190.0 1415.6C1191.6 1416.2 1192.9 1416.9 1194.6 1417.9C1196.3 1418.8 1198.6 1420.0 1200.3 1421.3C1202.1 1422.5 1203.0 1424.0 1204.9 1425.3C1206.8 1426.6 1209.7 1428.5 1211.8 1429.3C1213.9 1430.2 1215.6 1430.5 1217.5 1430.5C1219.4 1430.5 1221.4 1430.1 1223.3 1429.3C1225.2 1428.5 1227.1 1426.8 1229.0 1425.9C1230.9 1424.9 1232.8 1424.5 1234.7 1423.6C1236.6 1422.6 1238.5 1421.3 1240.5 1420.1C1242.4 1419.0 1244.3 1418.2 1246.2 1416.7C1248.1 1415.2 1250.0 1412.9 1251.9 1411.0C1253.8 1409.1 1255.7 1407.0 1257.7 1405.2C1259.6 1403.5 1261.5 1402.4 1263.4 1400.7C1265.3 1398.9 1267.2 1396.8 1269.1 1394.9C1271.0 1393.0 1272.9 1390.9 1274.8 1389.2C1276.8 1387.5 1278.7 1386.1 1280.6 1384.6C1282.5 1383.1 1284.4 1381.3 1286.3 1380.0C1288.2 1378.8 1290.1 1377.7 1292.0 1377.2C1293.9 1376.6 1295.9 1376.6 1297.8 1376.6C1299.7 1376.6 1301.6 1376.9 1303.5 1377.2C1305.4 1377.4 1307.3 1378.1 1309.2 1378.3C1311.1 1378.5 1313.2 1378.5 1315.0 1378.3C1316.8 1378.1 1318.7 1377.4 1320.0 1377.2C1321.3 1376.9 1321.7 1376.4 1322.9 1376.6C1324.2 1376.8 1326.0 1377.5 1327.5 1378.3C1329.0 1379.1 1330.6 1379.9 1332.1 1381.2C1333.6 1382.4 1335.1 1384.2 1336.7 1385.8C1338.2 1387.3 1339.7 1388.6 1341.3 1390.3C1342.8 1392.1 1344.3 1394.0 1345.8 1396.1C1347.4 1398.2 1348.9 1400.5 1350.4 1403.0C1352.0 1405.4 1353.5 1408.3 1355.0 1411.0C1356.5 1413.6 1358.1 1416.7 1359.6 1419.0C1361.1 1421.3 1362.7 1422.8 1364.2 1424.7C1365.7 1426.6 1367.2 1428.5 1368.8 1430.5C1370.3 1432.4 1371.8 1434.3 1373.4 1436.2C1374.9 1438.1 1376.4 1440.2 1377.9 1441.9C1379.5 1443.6 1381.0 1445.4 1382.5 1446.5C1384.0 1447.7 1385.6 1448.0 1387.1 1448.8C1388.6 1449.6 1390.2 1450.3 1391.7 1451.1C1393.2 1451.9 1394.7 1452.6 1396.3 1453.4C1397.8 1454.1 1399.3 1454.7 1400.9 1455.7C1402.4 1456.6 1403.9 1458.0 1405.4 1459.1C1407.0 1460.3 1408.5 1461.6 1410.0 1462.6C1411.6 1463.5 1413.1 1464.1 1414.6 1464.8C1416.1 1465.6 1417.7 1466.3 1419.2 1467.1C1420.7 1468.0 1422.7 1469.2 1423.8 1470.0C1424.9 1470.8 1424.5 1471.0 1425.7 1472.0C1427.0 1473.0 1429.6 1474.7 1431.5 1476.0C1433.4 1477.4 1435.3 1478.8 1437.2 1480.0C1439.1 1481.3 1441.0 1482.6 1442.9 1483.5C1444.8 1484.3 1446.7 1484.8 1448.7 1485.2C1450.6 1485.6 1452.5 1485.9 1454.4 1486.0C1456.3 1486.1 1458.2 1486.2 1460.1 1485.8C1462.0 1485.3 1463.9 1484.8 1465.8 1483.5C1467.8 1482.1 1469.7 1479.8 1471.6 1477.7C1473.5 1475.6 1475.4 1472.9 1477.3 1470.9C1479.2 1468.9 1481.1 1467.4 1483.0 1465.7C1484.9 1464.0 1486.9 1462.3 1488.8 1460.5C1490.7 1458.8 1492.6 1457.1 1494.5 1455.4C1496.4 1453.7 1498.3 1451.9 1500.2 1450.2C1502.1 1448.5 1504.0 1446.8 1506.0 1445.1C1507.9 1443.4 1509.8 1441.4 1511.7 1439.9C1513.6 1438.4 1515.5 1437.2 1517.4 1435.9C1519.3 1434.6 1521.2 1433.0 1523.2 1431.9C1525.1 1430.7 1527.0 1430.0 1528.9 1429.0C1530.8 1428.1 1532.7 1426.9 1534.6 1426.2C1536.5 1425.4 1538.4 1424.9 1540.3 1424.4C1542.3 1424.0 1544.2 1423.5 1546.1 1423.3C1548.0 1423.0 1549.9 1423.0 1551.8 1423.0C1553.7 1422.9 1555.6 1422.7 1557.5 1422.7C1559.4 1422.7 1561.4 1422.9 1563.3 1423.0C1565.2 1423.0 1567.1 1423.1 1569.0 1423.3C1570.9 1423.4 1572.8 1423.6 1574.7 1423.9C1576.6 1424.2 1578.5 1424.4 1580.5 1425.0C1582.4 1425.6 1584.3 1426.4 1586.2 1427.3C1588.1 1428.3 1590.0 1429.6 1591.9 1430.7C1593.8 1431.9 1595.7 1433.0 1597.7 1434.2C1599.6 1435.3 1601.5 1436.3 1603.4 1437.6C1605.3 1439.0 1607.2 1440.7 1609.1 1442.2C1611.0 1443.7 1612.9 1445.2 1614.8 1446.8C1616.8 1448.4 1618.7 1450.2 1620.6 1451.9C1622.5 1453.7 1624.4 1455.4 1626.3 1457.1C1628.2 1458.8 1630.1 1460.5 1632.0 1462.3C1633.9 1464.0 1635.9 1465.6 1637.8 1467.4C1639.7 1469.2 1641.6 1470.9 1643.5 1473.2C1645.4 1475.4 1646.0 1476.7 1649.2 1481.2C1652.5 1485.7 1659.7 1495.9 1662.9 1500.2C1666.2 1504.6 1666.7 1504.8 1668.7 1507.1C1670.6 1509.4 1672.5 1511.9 1674.4 1514.0C1676.3 1516.1 1678.2 1518.0 1680.1 1519.7C1682.0 1521.4 1683.9 1522.8 1685.8 1524.3C1687.8 1525.8 1689.7 1527.5 1691.6 1528.9C1693.5 1530.2 1695.4 1531.2 1697.3 1532.3C1699.2 1533.5 1701.1 1534.4 1703.0 1535.8C1704.9 1537.1 1706.9 1539.1 1708.8 1540.3C1710.7 1541.6 1712.6 1542.4 1714.5 1543.2C1716.4 1544.0 1718.3 1544.4 1720.2 1544.9C1722.1 1545.5 1724.0 1546.2 1726.0 1546.6C1727.9 1547.1 1729.8 1547.5 1731.7 1547.8C1733.6 1548.1 1735.5 1548.0 1737.4 1548.4C1739.3 1548.7 1741.2 1549.5 1743.2 1550.1C1745.1 1550.7 1747.0 1551.1 1748.9 1551.8C1750.8 1552.5 1752.7 1553.4 1754.6 1554.1C1756.5 1554.8 1758.4 1555.6 1760.3 1555.8C1762.3 1556.0 1764.2 1555.6 1766.1 1555.2C1768.0 1554.9 1769.9 1553.8 1771.8 1553.5C1773.7 1553.2 1775.6 1553.8 1777.5 1553.5C1779.4 1553.2 1781.4 1552.7 1783.3 1551.8C1785.2 1550.9 1787.1 1549.5 1789.0 1548.4C1790.9 1547.2 1792.8 1546.1 1794.7 1544.9C1796.6 1543.8 1798.5 1542.6 1800.5 1541.5C1802.4 1540.3 1804.3 1539.0 1806.2 1538.1C1808.1 1537.1 1810.0 1536.4 1811.9 1535.8C1813.8 1535.1 1815.7 1534.6 1817.7 1534.0C1819.6 1533.5 1821.5 1532.9 1823.4 1532.3C1825.3 1531.7 1827.2 1531.0 1829.1 1530.6C1831.0 1530.2 1832.9 1530.3 1834.8 1530.0C1836.8 1529.7 1838.7 1529.4 1840.6 1528.9C1842.5 1528.4 1844.4 1527.5 1846.3 1527.2C1848.2 1526.8 1850.1 1526.5 1852.0 1526.6C1853.9 1526.7 1854.9 1527.9 1857.8 1527.7C1860.6 1527.5 1865.5 1526.0 1869.2 1525.4C1872.9 1524.9 1877.7 1525.1 1880.0 1524.3C1882.3 1523.4 1880.5 1521.6 1882.9 1520.3C1885.3 1519.1 1890.6 1518.0 1894.4 1516.9C1898.2 1515.9 1902.0 1514.9 1905.8 1514.0C1909.7 1513.2 1913.5 1512.4 1917.3 1511.7C1921.1 1511.1 1925.9 1510.5 1928.8 1510.0C1931.6 1509.6 1932.6 1508.9 1934.5 1508.9C1936.4 1508.9 1938.3 1509.6 1940.2 1510.0C1942.1 1510.4 1944.0 1510.8 1946.0 1511.2C1947.9 1511.6 1948.8 1512.0 1951.7 1512.3C1954.6 1512.6 1959.3 1512.7 1963.2 1512.9C1967.0 1513.1 1971.7 1513.3 1974.6 1513.5C1977.5 1513.7 1978.4 1513.9 1980.3 1514.0C1982.3 1514.1 1983.2 1514.5 1986.1 1514.0C1988.9 1513.6 1993.7 1512.0 1997.5 1511.2C2001.4 1510.3 2005.2 1509.6 2009.0 1508.9C2012.8 1508.1 2016.6 1507.0 2020.5 1506.6C2024.3 1506.2 2028.1 1506.4 2031.9 1506.6C2035.7 1506.8 2040.5 1507.4 2043.4 1507.7C2046.2 1508.0 2046.2 1508.5 2049.1 1508.3C2052.0 1508.1 2056.8 1507.4 2060.6 1506.6C2064.4 1505.7 2068.2 1504.6 2072.0 1503.2C2075.9 1501.7 2080.6 1499.1 2083.5 1498.0C2086.4 1496.8 2087.3 1496.8 2089.2 1496.3C2091.1 1495.8 2093.2 1495.6 2095.0 1495.1C2096.8 1494.7 2097.2 1494.0 2100.0 1493.4C2102.8 1492.8 2108.6 1492.4 2111.5 1491.7C2114.3 1491.1 2114.3 1490.2 2117.2 1489.5C2120.1 1488.7 2125.8 1487.7 2128.7 1487.2C2131.5 1486.6 2130.6 1486.4 2134.4 1486.0C2138.2 1485.6 2147.8 1485.5 2151.6 1484.9C2155.4 1484.2 2155.4 1482.7 2157.3 1482.0C2159.2 1481.3 2161.1 1481.2 2163.0 1480.9C2164.9 1480.5 2166.9 1480.1 2168.8 1479.7C2170.7 1479.3 2172.6 1478.7 2174.5 1478.6C2176.4 1478.5 2178.3 1479.1 2180.2 1479.1C2182.1 1479.1 2184.0 1479.3 2186.0 1478.6C2187.9 1477.8 2189.8 1475.4 2191.7 1474.6C2193.6 1473.7 2195.5 1473.5 2197.4 1473.4C2199.3 1473.3 2201.2 1474.1 2203.2 1474.0C2205.1 1473.9 2207.0 1473.0 2208.9 1472.8C2210.8 1472.6 2212.7 1472.6 2214.6 1472.8C2216.5 1473.0 2218.4 1473.9 2220.3 1474.0C2222.3 1474.1 2224.2 1473.4 2226.1 1473.4C2228.0 1473.4 2229.9 1473.5 2231.8 1474.0C2233.7 1474.5 2235.6 1475.3 2237.5 1476.3C2239.4 1477.2 2240.4 1478.4 2243.3 1479.7C2246.1 1481.1 2250.9 1482.8 2254.7 1484.3C2258.5 1485.8 2262.4 1487.5 2266.2 1488.9C2270.0 1490.2 2273.8 1491.3 2277.7 1492.3C2281.5 1493.4 2285.3 1494.2 2289.1 1495.2C2292.9 1496.1 2297.7 1497.5 2300.6 1498.1C2303.4 1498.6 2304.4 1498.5 2306.3 1498.6C2308.2 1498.7 2310.1 1498.5 2312.0 1498.6C2313.9 1498.7 2315.9 1499.0 2317.8 1499.2C2319.7 1499.4 2321.6 1499.6 2323.5 1499.8C2325.4 1500.0 2326.9 1500.1 2329.2 1500.3C2331.5 1500.6 2335.9 1501.3 2337.2 1501.5"/>
<path stroke="#FB6501" d="M240.0 1481.5C242.9 1481.4 251.4 1480.7 257.1 1480.8C262.9 1480.9 268.6 1482.0 274.3 1482.0C280.0 1482.0 286.3 1480.9 291.4 1480.8C296.6 1480.7 300.6 1481.4 305.1 1481.1C309.7 1480.9 314.9 1479.0 318.9 1479.1C322.9 1479.1 326.0 1481.5 329.1 1481.5C332.3 1481.5 334.0 1479.1 337.7 1479.1C341.4 1479.1 346.0 1481.3 351.4 1481.5C356.9 1481.7 364.3 1480.3 370.3 1480.3C376.3 1480.2 380.9 1481.5 387.4 1481.1C394.0 1480.8 402.9 1478.3 409.7 1478.1C416.6 1477.8 423.7 1479.3 428.6 1479.4C433.4 1479.6 435.1 1479.4 438.9 1479.1C442.7 1478.8 447.5 1478.3 451.5 1477.7C455.5 1477.0 459.1 1476.2 462.9 1475.4C466.7 1474.5 470.6 1473.7 474.4 1472.5C478.2 1471.3 482.6 1468.9 485.8 1467.9C489.1 1467.0 491.2 1468.3 493.9 1466.8C496.5 1465.2 499.4 1460.3 501.9 1458.7C504.4 1457.2 506.3 1458.8 508.8 1457.6C511.3 1456.4 514.7 1452.1 516.8 1451.3C518.9 1450.4 519.7 1453.0 521.4 1452.4C523.1 1451.9 525.0 1450.3 527.1 1447.9C529.2 1445.4 531.9 1441.2 534.0 1437.5C536.1 1433.9 537.8 1429.9 539.7 1426.1C541.6 1422.3 543.7 1418.1 545.4 1414.6C547.2 1411.2 548.5 1408.7 550.0 1405.4C551.6 1402.2 553.1 1399.3 554.6 1395.1C556.1 1390.9 557.9 1385.2 559.2 1380.2C560.5 1375.3 561.5 1370.3 562.6 1365.3C563.8 1360.4 564.9 1355.6 566.1 1350.4C567.2 1345.3 568.4 1339.5 569.5 1334.4C570.7 1329.2 571.9 1324.1 573.0 1319.5C574.0 1314.9 575.1 1310.1 575.8 1306.9C576.6 1303.6 576.2 1307.7 577.5 1300.0C578.8 1292.3 581.8 1274.7 583.7 1260.5C585.5 1246.2 587.2 1231.8 588.8 1214.6C590.4 1197.4 592.0 1176.4 593.4 1157.3C594.8 1138.2 596.0 1122.3 597.4 1100.0C598.8 1077.7 600.6 1047.8 601.9 1023.6C603.2 999.4 604.2 979.1 605.3 954.8C606.5 930.4 607.6 903.2 608.8 877.4C609.9 851.6 611.1 824.5 612.2 800.0C613.4 775.5 614.9 749.7 615.8 730.5C616.8 711.2 617.3 699.9 618.1 684.6C619.0 669.3 620.1 652.1 621.0 638.8C621.9 625.4 622.5 615.8 623.3 604.4C624.1 592.9 625.0 576.8 625.6 570.0C626.2 563.2 626.3 567.3 626.7 563.4C627.2 559.4 627.9 551.5 628.5 546.2C629.0 540.8 629.5 536.1 630.2 531.3C630.8 526.5 631.7 521.7 632.5 517.5C633.2 513.3 633.9 509.3 634.8 506.1C635.6 502.8 636.6 500.0 637.6 498.1C638.7 496.1 639.9 495.5 641.1 494.6C642.2 493.8 643.4 492.9 644.5 492.9C645.6 492.9 646.8 493.9 647.9 494.6C649.1 495.3 650.1 496.4 651.4 496.9C652.6 497.4 654.2 496.9 655.4 497.5C656.5 498.1 657.3 499.1 658.3 500.3C659.2 501.6 660.2 503.4 661.1 504.9C662.1 506.5 663.0 507.8 664.0 509.5C664.9 511.2 665.9 513.7 666.8 515.2C667.8 516.8 668.7 517.7 669.7 518.7C670.8 519.6 672.0 520.0 673.2 521.0C674.3 521.9 675.5 523.1 676.6 524.4C677.6 525.7 678.6 527.5 679.5 529.0C680.3 530.5 680.9 531.9 681.7 533.6C682.6 535.3 683.6 537.6 684.6 539.3C685.7 541.0 686.9 542.6 688.1 543.9C689.2 545.2 690.4 546.0 691.5 547.3C692.5 548.7 693.5 550.2 694.4 551.9C695.2 553.6 695.9 555.7 696.6 557.7C697.4 559.6 698.3 561.3 698.9 563.4C699.6 565.5 700.1 567.5 700.7 570.3C701.2 573.0 701.7 575.3 702.4 580.0C703.0 584.7 703.8 590.8 704.7 598.7C705.5 606.5 706.5 616.8 707.5 627.3C708.6 637.8 709.8 650.2 711.0 661.7C712.1 673.2 713.4 684.6 714.4 696.1C715.5 707.5 716.4 718.1 717.3 730.5C718.1 742.8 718.2 745.5 719.6 770.0C721.0 794.5 724.1 846.6 725.7 877.4C727.3 908.2 728.4 934.3 729.2 954.8C729.9 975.2 729.7 984.8 730.4 1000.0C731.1 1015.2 732.4 1030.6 733.2 1045.8C734.1 1061.1 734.7 1076.4 735.5 1091.7C736.4 1107.0 737.4 1122.3 738.4 1137.5C739.4 1152.8 740.6 1173.0 741.3 1183.4C741.9 1193.8 741.8 1191.5 742.4 1200.0C743.0 1208.5 743.9 1222.9 744.7 1234.4C745.5 1245.8 746.2 1257.3 747.0 1268.8C747.8 1280.2 748.5 1291.7 749.3 1303.2C750.0 1314.6 750.6 1327.0 751.6 1337.5C752.5 1348.0 753.9 1358.5 755.0 1366.2C756.2 1373.8 757.5 1379.4 758.5 1383.4C759.4 1387.3 759.9 1386.0 760.7 1390.0C761.6 1394.0 762.7 1401.5 763.6 1407.2C764.6 1412.9 765.4 1418.7 766.5 1424.4C767.5 1430.1 768.8 1436.4 769.9 1441.6C771.1 1446.7 772.0 1450.9 773.4 1455.3C774.7 1459.7 776.4 1464.1 777.9 1467.9C779.5 1471.8 781.0 1475.2 782.5 1478.3C784.0 1481.3 785.6 1484.4 787.1 1486.3C788.6 1488.2 790.2 1489.2 791.7 1489.7C793.2 1490.2 794.7 1489.7 796.3 1489.1C797.8 1488.6 799.3 1487.7 800.9 1486.3C802.4 1484.8 804.1 1482.5 805.4 1480.5C806.8 1478.6 807.7 1476.7 808.9 1474.8C810.0 1472.9 811.0 1470.8 812.3 1469.1C813.7 1467.4 815.4 1465.8 816.9 1464.5C818.4 1463.2 820.0 1462.2 821.5 1461.1C823.0 1459.9 824.7 1459.0 826.1 1457.6C827.4 1456.3 828.6 1454.8 829.5 1453.0C830.5 1451.3 831.0 1449.8 831.8 1447.3C832.6 1444.8 833.4 1442.0 834.1 1438.1C834.8 1434.3 835.2 1429.5 835.8 1424.4C836.4 1419.2 836.9 1411.3 837.5 1407.2C838.2 1403.1 839.1 1404.0 839.8 1400.0C840.6 1396.0 841.4 1390.0 842.1 1383.4C842.9 1376.8 843.6 1368.1 844.4 1360.5C845.2 1352.8 845.9 1345.2 846.7 1337.5C847.5 1329.9 848.2 1322.3 849.0 1314.6C849.8 1307.0 850.6 1299.3 851.3 1291.7C852.0 1284.0 852.4 1276.4 853.0 1268.8C853.6 1261.1 854.2 1253.5 854.7 1245.8C855.3 1238.2 855.9 1230.6 856.4 1222.9C857.0 1215.3 857.5 1206.6 858.2 1200.0C858.8 1193.4 859.6 1189.0 860.5 1183.4C861.3 1177.7 862.4 1171.9 863.3 1166.2C864.3 1160.5 865.1 1154.7 866.2 1149.0C867.2 1143.3 868.6 1136.6 869.6 1131.8C870.6 1127.0 871.2 1124.7 872.2 1120.0C873.2 1115.3 874.5 1108.4 875.6 1103.4C876.8 1098.3 877.9 1093.8 879.1 1089.6C880.2 1085.4 881.4 1081.8 882.5 1078.2C883.7 1074.5 884.8 1070.9 886.0 1067.9C887.1 1064.8 888.1 1062.1 889.4 1059.8C890.7 1057.5 892.5 1055.8 894.0 1054.1C895.5 1052.4 897.0 1050.6 898.6 1049.5C900.1 1048.4 901.6 1047.4 903.2 1047.4C904.7 1047.4 906.4 1048.5 907.7 1049.5C909.1 1050.5 910.0 1052.4 911.2 1053.5C912.3 1054.7 913.5 1055.1 914.6 1056.4C915.8 1057.6 917.0 1059.1 918.1 1061.0C919.1 1062.9 920.0 1065.4 920.9 1067.9C921.9 1070.3 922.8 1073.0 923.8 1075.9C924.7 1078.7 925.7 1082.0 926.6 1085.0C927.6 1088.1 928.5 1089.8 929.5 1094.2C930.6 1098.6 931.9 1106.7 932.9 1111.5C933.9 1116.2 934.7 1119.1 935.8 1122.9C936.8 1126.7 938.1 1130.6 939.2 1134.4C940.3 1138.2 941.5 1142.0 942.6 1145.8C943.8 1149.7 945.0 1153.5 946.1 1157.3C947.1 1161.1 948.0 1164.9 948.9 1168.8C949.9 1172.6 950.9 1176.4 951.8 1180.2C952.7 1184.0 953.4 1187.9 954.1 1191.7C954.8 1195.5 955.2 1199.3 955.8 1203.2C956.4 1207.0 956.9 1210.8 957.5 1214.6C958.2 1218.4 959.1 1222.3 959.8 1226.1C960.6 1229.9 961.5 1233.7 962.1 1237.5C962.8 1241.4 963.3 1245.2 963.8 1249.0C964.4 1252.8 965.0 1256.6 965.6 1260.5C966.1 1264.3 966.8 1268.1 967.3 1271.9C967.8 1275.7 967.9 1278.5 968.4 1283.4C969.0 1288.3 969.9 1296.5 970.5 1301.5C971.1 1306.4 971.6 1309.1 972.2 1312.9C972.8 1316.7 973.4 1320.6 973.9 1324.4C974.5 1328.2 975.0 1332.0 975.6 1335.8C976.3 1339.7 977.2 1343.5 977.9 1347.3C978.7 1351.1 979.5 1354.9 980.2 1358.8C981.0 1362.6 981.7 1366.4 982.5 1370.2C983.4 1374.0 984.4 1377.9 985.4 1381.7C986.3 1385.5 987.2 1389.3 988.3 1393.2C989.3 1397.0 990.4 1400.8 991.7 1404.6C992.9 1408.4 994.2 1412.8 995.7 1416.1C997.2 1419.3 999.0 1422.0 1000.9 1424.1C1002.7 1426.2 1004.7 1427.0 1006.6 1428.7C1008.5 1430.4 1010.4 1432.7 1012.3 1434.4C1014.2 1436.1 1016.1 1437.8 1018.1 1439.0C1020.0 1440.2 1021.9 1440.7 1023.8 1441.9C1025.7 1443.0 1027.8 1444.3 1029.5 1445.9C1031.2 1447.5 1032.6 1450.0 1034.1 1451.6C1035.6 1453.2 1037.0 1454.5 1038.7 1455.6C1040.4 1456.8 1042.5 1457.9 1044.4 1458.5C1046.3 1459.1 1048.2 1459.1 1050.1 1459.1C1052.1 1459.0 1054.2 1458.4 1055.9 1457.9C1057.6 1457.4 1058.9 1457.2 1060.5 1456.2C1062.0 1455.1 1063.5 1453.3 1065.0 1451.6C1066.6 1449.9 1068.1 1448.0 1069.6 1445.9C1071.2 1443.8 1072.9 1441.5 1074.2 1439.0C1075.5 1436.5 1076.6 1433.8 1077.7 1431.0C1078.7 1428.1 1079.6 1425.2 1080.5 1421.8C1081.5 1418.4 1082.3 1414.2 1083.4 1410.3C1084.4 1406.5 1085.7 1402.7 1086.8 1398.9C1088.0 1395.1 1089.1 1391.2 1090.3 1387.4C1091.4 1383.6 1092.6 1379.8 1093.7 1376.0C1094.8 1372.1 1096.0 1368.4 1097.1 1364.5C1098.3 1360.6 1099.1 1355.5 1100.6 1352.5C1102.2 1349.6 1104.5 1348.3 1106.4 1346.8C1108.3 1345.3 1110.2 1344.2 1112.1 1343.4C1114.0 1342.5 1115.9 1341.6 1117.8 1341.6C1119.7 1341.6 1121.8 1342.1 1123.6 1343.4C1125.3 1344.6 1126.6 1347.2 1128.1 1349.1C1129.7 1351.0 1131.2 1352.7 1132.7 1354.8C1134.3 1356.9 1135.8 1359.0 1137.3 1361.7C1138.8 1364.4 1140.4 1367.8 1141.9 1370.9C1143.4 1373.9 1144.9 1377.0 1146.5 1380.0C1148.0 1383.1 1149.5 1386.3 1151.1 1389.2C1152.6 1392.1 1154.1 1394.7 1155.6 1397.2C1157.2 1399.7 1158.7 1401.8 1160.2 1404.1C1161.8 1406.4 1163.3 1408.9 1164.8 1411.0C1166.3 1413.1 1167.9 1415.2 1169.4 1416.7C1170.9 1418.2 1172.3 1419.2 1174.0 1420.1C1175.7 1421.1 1177.8 1421.9 1179.7 1422.4C1181.6 1423.0 1183.5 1423.1 1185.4 1423.6C1187.4 1424.1 1189.3 1425.1 1191.2 1425.3C1193.1 1425.5 1195.0 1424.9 1196.9 1424.7C1198.8 1424.5 1200.7 1424.1 1202.6 1424.2C1204.5 1424.3 1206.3 1425.1 1208.4 1425.3C1210.5 1425.5 1213.1 1425.6 1215.2 1425.3C1217.3 1425.0 1219.1 1424.4 1221.0 1423.6C1222.9 1422.7 1224.8 1421.3 1226.7 1420.1C1228.6 1419.0 1230.5 1417.7 1232.4 1416.7C1234.3 1415.7 1236.3 1415.4 1238.2 1414.4C1240.1 1413.5 1242.0 1412.1 1243.9 1411.0C1245.8 1409.8 1247.7 1408.7 1249.6 1407.5C1251.5 1406.4 1253.4 1405.4 1255.4 1404.1C1257.3 1402.8 1259.2 1400.9 1261.1 1399.5C1263.0 1398.2 1264.9 1397.2 1266.8 1396.1C1268.7 1394.9 1270.6 1393.6 1272.6 1392.6C1274.5 1391.7 1276.4 1391.1 1278.3 1390.3C1280.2 1389.6 1282.1 1388.8 1284.0 1388.1C1285.9 1387.3 1287.8 1386.5 1289.7 1385.8C1291.7 1385.0 1293.6 1384.1 1295.5 1383.5C1297.4 1382.8 1299.3 1381.9 1301.2 1381.7C1303.1 1381.6 1305.0 1381.8 1306.9 1382.3C1308.8 1382.8 1310.5 1383.9 1312.7 1384.6C1314.8 1385.3 1318.1 1386.3 1320.0 1386.3C1321.9 1386.3 1322.6 1384.9 1324.1 1384.6C1325.5 1384.3 1327.1 1384.0 1328.7 1384.6C1330.2 1385.2 1331.7 1386.7 1333.2 1388.1C1334.8 1389.4 1336.3 1391.1 1337.8 1392.6C1339.4 1394.2 1340.9 1395.5 1342.4 1397.2C1343.9 1398.9 1345.5 1400.9 1347.0 1403.0C1348.5 1405.1 1350.0 1407.7 1351.6 1409.8C1353.1 1411.9 1354.6 1413.5 1356.2 1415.6C1357.7 1417.7 1359.2 1420.3 1360.7 1422.4C1362.3 1424.5 1363.8 1426.3 1365.3 1428.2C1366.9 1430.1 1368.4 1431.8 1369.9 1433.9C1371.4 1436.0 1373.0 1438.5 1374.5 1440.8C1376.0 1443.1 1377.6 1445.7 1379.1 1447.7C1380.6 1449.6 1382.1 1450.9 1383.7 1452.2C1385.2 1453.6 1386.7 1454.5 1388.3 1455.7C1389.8 1456.8 1391.3 1458.0 1392.8 1459.1C1394.4 1460.3 1395.7 1461.6 1397.4 1462.6C1399.1 1463.5 1401.2 1464.1 1403.2 1464.8C1405.1 1465.6 1407.0 1466.5 1408.9 1467.1C1410.8 1467.8 1412.7 1468.4 1414.6 1468.9C1416.5 1469.3 1418.5 1469.3 1420.3 1470.0C1422.2 1470.7 1423.9 1472.2 1425.7 1473.2C1427.6 1474.1 1429.6 1474.7 1431.5 1475.4C1433.4 1476.2 1435.3 1477.0 1437.2 1477.7C1439.1 1478.5 1441.0 1479.4 1442.9 1480.0C1444.8 1480.7 1446.7 1481.3 1448.7 1481.7C1450.6 1482.2 1452.5 1482.7 1454.4 1482.9C1456.3 1483.1 1458.2 1483.0 1460.1 1482.9C1462.0 1482.8 1464.1 1482.8 1465.8 1482.3C1467.6 1481.8 1468.9 1481.0 1470.4 1480.0C1472.0 1479.1 1473.5 1477.9 1475.0 1476.6C1476.5 1475.3 1478.1 1473.3 1479.6 1472.0C1481.1 1470.7 1482.7 1469.9 1484.2 1468.6C1485.7 1467.2 1487.2 1465.5 1488.8 1464.0C1490.3 1462.5 1491.8 1460.5 1493.4 1459.4C1494.9 1458.3 1496.4 1457.9 1497.9 1457.1C1499.5 1456.3 1501.0 1455.6 1502.5 1454.8C1504.0 1454.0 1505.6 1453.7 1507.1 1452.5C1508.6 1451.4 1510.2 1449.5 1511.7 1447.9C1513.2 1446.4 1514.7 1444.7 1516.3 1443.4C1517.8 1442.0 1519.3 1440.7 1520.9 1439.9C1522.4 1439.1 1523.9 1439.1 1525.4 1438.8C1527.0 1438.4 1528.5 1438.2 1530.0 1437.6C1531.6 1437.0 1533.1 1436.5 1534.6 1435.3C1536.1 1434.2 1537.7 1431.3 1539.2 1430.7C1540.7 1430.2 1542.3 1431.9 1543.8 1431.9C1545.3 1431.9 1546.8 1431.3 1548.4 1430.7C1549.9 1430.2 1551.4 1428.8 1553.0 1428.5C1554.5 1428.1 1555.8 1428.5 1557.5 1428.5C1559.3 1428.5 1561.4 1428.5 1563.3 1428.5C1565.2 1428.5 1567.1 1428.4 1569.0 1428.5C1570.9 1428.5 1572.8 1428.8 1574.7 1429.0C1576.6 1429.2 1578.5 1429.1 1580.5 1429.6C1582.4 1430.1 1584.3 1431.1 1586.2 1431.9C1588.1 1432.7 1590.0 1433.2 1591.9 1434.2C1593.8 1435.1 1595.7 1436.9 1597.7 1437.6C1599.6 1438.4 1601.5 1437.8 1603.4 1438.8C1605.3 1439.7 1607.2 1441.8 1609.1 1443.4C1611.0 1444.9 1612.9 1446.4 1614.8 1447.9C1616.8 1449.5 1618.7 1450.8 1620.6 1452.5C1622.5 1454.2 1624.4 1456.5 1626.3 1458.3C1628.2 1460.0 1630.1 1461.3 1632.0 1462.8C1633.9 1464.4 1636.0 1465.9 1637.8 1467.4C1639.5 1468.9 1641.0 1470.3 1642.3 1472.0C1643.7 1473.7 1644.6 1476.0 1645.8 1477.7C1646.9 1479.5 1647.9 1480.8 1649.2 1482.3C1650.6 1483.8 1652.0 1485.4 1653.8 1486.9C1655.6 1488.4 1658.5 1489.7 1660.0 1491.5C1661.5 1493.3 1661.7 1495.9 1662.9 1497.9C1664.2 1500.0 1666.0 1501.6 1667.5 1503.7C1669.0 1505.8 1670.6 1508.6 1672.1 1510.5C1673.6 1512.5 1675.0 1513.6 1676.7 1515.1C1678.4 1516.7 1680.5 1518.2 1682.4 1519.7C1684.3 1521.2 1686.4 1523.0 1688.1 1524.3C1689.9 1525.6 1691.0 1526.8 1692.7 1527.7C1694.4 1528.7 1696.7 1529.1 1698.5 1530.0C1700.2 1531.0 1701.5 1532.1 1703.0 1533.5C1704.6 1534.8 1705.9 1536.9 1707.6 1538.1C1709.3 1539.2 1711.4 1539.8 1713.4 1540.3C1715.3 1540.9 1717.2 1541.0 1719.1 1541.5C1721.0 1542.0 1722.9 1542.8 1724.8 1543.2C1726.7 1543.6 1728.6 1543.6 1730.5 1543.8C1732.5 1544.0 1734.4 1544.0 1736.3 1544.4C1738.2 1544.7 1740.1 1545.7 1742.0 1546.1C1743.9 1546.5 1745.8 1546.1 1747.7 1546.6C1749.6 1547.2 1751.6 1548.7 1753.5 1549.5C1755.4 1550.3 1757.3 1551.0 1759.2 1551.2C1761.1 1551.4 1763.0 1551.0 1764.9 1550.7C1766.8 1550.3 1768.7 1549.0 1770.7 1548.9C1772.6 1548.8 1774.5 1550.0 1776.4 1550.1C1778.3 1550.2 1780.2 1550.2 1782.1 1549.5C1784.0 1548.8 1785.9 1547.2 1787.9 1546.1C1789.8 1544.9 1791.7 1543.8 1793.6 1542.6C1795.5 1541.5 1797.4 1540.3 1799.3 1539.2C1801.2 1538.1 1803.1 1536.7 1805.0 1535.8C1807.0 1534.8 1808.9 1534.0 1810.8 1533.5C1812.7 1532.9 1814.6 1532.9 1816.5 1532.3C1818.4 1531.7 1820.3 1531.0 1822.2 1530.0C1824.1 1529.1 1826.1 1527.4 1828.0 1526.6C1829.9 1525.8 1831.8 1525.5 1833.7 1525.4C1835.6 1525.3 1837.7 1526.6 1839.4 1526.0C1841.1 1525.4 1842.3 1523.0 1844.0 1522.0C1845.7 1521.1 1847.8 1520.3 1849.7 1520.3C1851.7 1520.3 1851.5 1522.2 1855.5 1522.0C1859.5 1521.8 1869.8 1519.7 1873.8 1519.2C1877.8 1518.7 1877.6 1519.8 1879.5 1519.2C1881.4 1518.6 1883.1 1516.6 1885.2 1515.8C1887.3 1514.9 1889.8 1514.6 1892.1 1514.0C1894.4 1513.5 1896.7 1512.9 1899.0 1512.3C1901.3 1511.7 1903.7 1511.2 1905.8 1510.6C1907.9 1510.0 1909.7 1509.3 1911.6 1508.9C1913.5 1508.5 1915.4 1508.5 1917.3 1508.3C1919.2 1508.1 1921.1 1508.0 1923.0 1507.7C1924.9 1507.4 1926.9 1507.1 1928.8 1506.6C1930.7 1506.1 1932.6 1505.3 1934.5 1504.9C1936.4 1504.5 1938.3 1504.1 1940.2 1504.3C1942.1 1504.5 1944.0 1505.5 1946.0 1506.0C1947.9 1506.5 1949.8 1506.9 1951.7 1507.2C1953.6 1507.4 1955.5 1507.5 1957.4 1507.7C1959.3 1507.9 1961.2 1508.3 1963.2 1508.3C1965.1 1508.3 1967.0 1507.8 1968.9 1507.7C1970.8 1507.6 1972.7 1507.4 1974.6 1507.7C1976.5 1508.0 1978.4 1509.0 1980.3 1509.5C1982.3 1509.9 1984.2 1510.6 1986.1 1510.6C1988.0 1510.6 1989.9 1509.8 1991.8 1509.5C1993.7 1509.1 1995.6 1508.6 1997.5 1508.3C1999.4 1508.0 2001.4 1508.0 2003.3 1507.7C2005.2 1507.4 2007.1 1507.1 2009.0 1506.6C2010.9 1506.1 2012.8 1505.5 2014.7 1504.9C2016.6 1504.2 2018.5 1503.2 2020.5 1502.6C2022.4 1502.0 2024.3 1501.6 2026.2 1501.4C2028.1 1501.2 2030.0 1501.1 2031.9 1501.4C2033.8 1501.8 2035.7 1503.6 2037.7 1503.7C2039.6 1503.8 2041.5 1502.1 2043.4 1502.0C2045.3 1501.9 2047.2 1503.0 2049.1 1503.2C2051.0 1503.3 2052.9 1503.2 2054.8 1503.2C2056.8 1503.1 2058.7 1502.7 2060.6 1502.6C2062.5 1502.5 2064.4 1502.7 2066.3 1502.6C2068.2 1502.5 2070.1 1502.2 2072.0 1502.0C2073.9 1501.8 2075.9 1501.7 2077.8 1501.4C2079.7 1501.1 2081.6 1500.6 2083.5 1500.3C2085.4 1500.0 2087.3 1500.1 2089.2 1499.7C2091.1 1499.3 2093.2 1498.6 2095.0 1498.0C2096.8 1497.4 2098.2 1496.8 2100.0 1496.3C2101.8 1495.7 2103.8 1495.1 2105.7 1494.6C2107.6 1494.1 2109.6 1494.0 2111.5 1493.5C2113.4 1492.9 2115.3 1491.7 2117.2 1491.2C2119.1 1490.6 2121.0 1490.4 2122.9 1490.0C2124.8 1489.6 2126.7 1489.3 2128.7 1488.9C2130.6 1488.5 2132.5 1487.9 2134.4 1487.7C2136.3 1487.5 2138.2 1487.7 2140.1 1487.7C2142.0 1487.7 2143.9 1487.9 2145.8 1487.7C2147.8 1487.5 2149.7 1487.3 2151.6 1486.6C2153.5 1485.9 2155.4 1484.3 2157.3 1483.7C2159.2 1483.2 2161.1 1483.3 2163.0 1483.2C2164.9 1483.0 2166.9 1482.8 2168.8 1482.6C2170.7 1482.4 2172.6 1482.2 2174.5 1482.0C2176.4 1481.8 2178.3 1481.6 2180.2 1481.4C2182.1 1481.2 2184.0 1481.3 2186.0 1480.9C2187.9 1480.4 2189.8 1479.1 2191.7 1478.6C2193.6 1478.0 2195.5 1477.2 2197.4 1477.4C2199.3 1477.6 2201.2 1479.6 2203.2 1479.7C2205.1 1479.8 2207.0 1478.4 2208.9 1478.0C2210.8 1477.6 2212.7 1477.5 2214.6 1477.4C2216.5 1477.3 2218.4 1477.5 2220.3 1477.4C2222.3 1477.3 2224.2 1476.9 2226.1 1476.8C2228.0 1476.8 2229.9 1476.8 2231.8 1476.8C2233.7 1476.9 2235.6 1476.9 2237.5 1477.4C2239.4 1477.9 2241.4 1479.1 2243.3 1479.7C2245.2 1480.3 2247.1 1480.5 2249.0 1480.9C2250.9 1481.2 2252.8 1481.3 2254.7 1482.0C2256.6 1482.7 2258.5 1484.1 2260.5 1484.9C2262.4 1485.6 2264.3 1486.2 2266.2 1486.6C2268.1 1487.0 2270.0 1486.9 2271.9 1487.2C2273.8 1487.4 2275.7 1488.0 2277.7 1488.3C2279.6 1488.6 2281.5 1488.7 2283.4 1488.9C2285.3 1489.1 2287.2 1489.1 2289.1 1489.5C2291.0 1489.8 2292.9 1490.6 2294.8 1491.2C2296.8 1491.7 2298.7 1492.5 2300.6 1492.9C2302.5 1493.3 2304.4 1493.4 2306.3 1493.5C2308.2 1493.6 2310.1 1493.4 2312.0 1493.5C2313.9 1493.6 2315.9 1493.8 2317.8 1494.0C2319.7 1494.2 2321.6 1494.3 2323.5 1494.6C2325.4 1494.9 2326.9 1495.5 2329.2 1495.8C2331.5 1496.0 2335.9 1496.2 2337.2 1496.3"/>
</g>
<g font-size="73">
<text x="590.1" y="1847.2" text-anchor="middle">0</text>
<text x="1171.7" y="1847.2" text-anchor="middle">50</text>
<text x="1753.3" y="1847.2" text-anchor="middle">100</text>
<text x="2334.9" y="1847.2" text-anchor="middle">150</text>
<text x="205.3" y="1497.6" text-anchor="end">0</text>
<text x="205.3" y="1216.5" text-anchor="end">5</text>
<text x="205.3" y="935.3" text-anchor="end">10</text>
<text x="205.3" y="654.1" text-anchor="end">15</text>
<text x="205.3" y="373.0" text-anchor="end">20</text>
<text x="205.3" y="91.8" text-anchor="end">25</text>
<text y="1778.3"><tspan x="132.78" textLength="37.48" lengthAdjust="spacingAndGlyphs">−</tspan><tspan x="168.8">5</tspan></text>
</g>
<text font-size="89" y="1964.1" ><tspan x="1113.09" y="1964.1" textLength="40.95" lengthAdjust="spacingAndGlyphs">T</tspan><tspan x="1164.34" y="1964.1" textLength="26.72" lengthAdjust="spacingAndGlyphs">i</tspan><tspan x="1199.68" y="1964.1" textLength="45.15" lengthAdjust="spacingAndGlyphs">m</tspan><tspan x="1245.73" y="1964.1" textLength="40.68" lengthAdjust="spacingAndGlyphs">e</tspan><tspan x="1303.14" y="1954.6" textLength="26.95" lengthAdjust="spacingAndGlyphs">(</tspan><tspan x="1332.68" y="1964.1" textLength="41.77" lengthAdjust="spacingAndGlyphs">n</tspan><tspan x="1378.86" y="1964.1" textLength="37.39" lengthAdjust="spacingAndGlyphs">s</tspan><tspan x="1420.25" y="1954.6" textLength="27.60" lengthAdjust="spacingAndGlyphs">)</tspan></text>
<g transform="translate(102.2 0) rotate(-90)"><text font-size="89" y="0.0" ><tspan x="-1302.26" y="0.0" textLength="43.32" lengthAdjust="spacingAndGlyphs">O</tspan><tspan x="-1257.98" y="0.0" textLength="41.49" lengthAdjust="spacingAndGlyphs">u</tspan><tspan x="-1207.50" y="0.0" textLength="26.72" lengthAdjust="spacingAndGlyphs">t</tspan><tspan x="-1170.47" y="0.0" textLength="42.92" lengthAdjust="spacingAndGlyphs">p</tspan><tspan x="-1125.68" y="0.0" textLength="41.49" lengthAdjust="spacingAndGlyphs">u</tspan><tspan x="-1075.50" y="0.0" textLength="26.72" lengthAdjust="spacingAndGlyphs">t</tspan> <tspan x="-995.85" y="0.0" textLength="42.39" lengthAdjust="spacingAndGlyphs">V</tspan><tspan x="-950.55" y="0.0" textLength="41.51" lengthAdjust="spacingAndGlyphs">o</tspan><tspan x="-899.36" y="0.0" textLength="26.72" lengthAdjust="spacingAndGlyphs">l</tspan><tspan x="-855.85" y="0.0" textLength="26.72" lengthAdjust="spacingAndGlyphs">t</tspan><tspan x="-819.45" y="0.0" textLength="42.68" lengthAdjust="spacingAndGlyphs">a</tspan><tspan x="-774.53" y="0.0" textLength="41.10" lengthAdjust="spacingAndGlyphs">g</tspan><tspan x="-731.71" y="0.0" textLength="42.24" lengthAdjust="spacingAndGlyphs">e</tspan><tspan x="-672.36" y="-9.5" textLength="26.95" lengthAdjust="spacingAndGlyphs">(</tspan><tspan x="-642.62" y="0.0" textLength="39.92" lengthAdjust="spacingAndGlyphs">k</tspan><tspan x="-599.54" y="0.0" textLength="42.29" lengthAdjust="spacingAndGlyphs">V</tspan><tspan x="-555.49" y="-9.5" textLength="26.95" lengthAdjust="spacingAndGlyphs">)</tspan></text></g>
</svg></body></html>
